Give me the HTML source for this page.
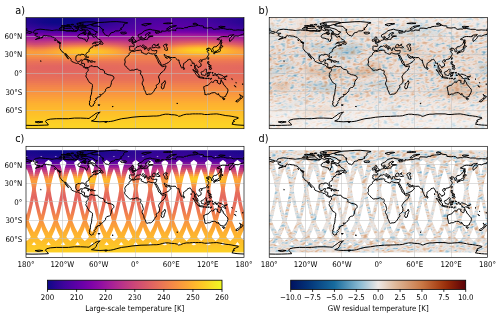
<!DOCTYPE html><html><head><meta charset="utf-8"><style>html,body{margin:0;padding:0;background:#fff}svg{display:block}text{font-family:"DejaVu Sans Condensed","DejaVu Sans","Liberation Sans",sans-serif;font-stretch:condensed;fill:#000}</style></head><body><svg width="500" height="317" viewBox="0 0 500 317"><defs><linearGradient id="g0"><stop offset="0.000" stop-color="#240691"/><stop offset="0.042" stop-color="#1b068d"/><stop offset="0.083" stop-color="#130789"/><stop offset="0.125" stop-color="#0d0887"/><stop offset="0.167" stop-color="#0d0887"/><stop offset="0.208" stop-color="#0d0887"/><stop offset="0.250" stop-color="#130789"/><stop offset="0.292" stop-color="#1b068d"/><stop offset="0.333" stop-color="#240691"/><stop offset="0.375" stop-color="#2c0594"/><stop offset="0.417" stop-color="#330597"/><stop offset="0.458" stop-color="#3a049a"/><stop offset="0.500" stop-color="#3f049c"/><stop offset="0.542" stop-color="#43039e"/><stop offset="0.583" stop-color="#46039f"/><stop offset="0.625" stop-color="#4903a0"/><stop offset="0.667" stop-color="#4903a0"/><stop offset="0.708" stop-color="#4903a0"/><stop offset="0.750" stop-color="#46039f"/><stop offset="0.792" stop-color="#43039e"/><stop offset="0.833" stop-color="#3f049c"/><stop offset="0.875" stop-color="#3a049a"/><stop offset="0.917" stop-color="#330597"/><stop offset="0.958" stop-color="#2c0594"/><stop offset="1.000" stop-color="#240691"/></linearGradient><linearGradient id="g1"><stop offset="0.000" stop-color="#240691"/><stop offset="0.042" stop-color="#1b068d"/><stop offset="0.083" stop-color="#130789"/><stop offset="0.125" stop-color="#0d0887"/><stop offset="0.167" stop-color="#0d0887"/><stop offset="0.208" stop-color="#0d0887"/><stop offset="0.250" stop-color="#130789"/><stop offset="0.292" stop-color="#1b068d"/><stop offset="0.333" stop-color="#240691"/><stop offset="0.375" stop-color="#2e0595"/><stop offset="0.417" stop-color="#350498"/><stop offset="0.458" stop-color="#3c049b"/><stop offset="0.500" stop-color="#43039e"/><stop offset="0.542" stop-color="#48039f"/><stop offset="0.583" stop-color="#4b03a1"/><stop offset="0.625" stop-color="#4e02a2"/><stop offset="0.667" stop-color="#4e02a2"/><stop offset="0.708" stop-color="#4e02a2"/><stop offset="0.750" stop-color="#4b03a1"/><stop offset="0.792" stop-color="#48039f"/><stop offset="0.833" stop-color="#43039e"/><stop offset="0.875" stop-color="#3c049b"/><stop offset="0.917" stop-color="#350498"/><stop offset="0.958" stop-color="#2e0595"/><stop offset="1.000" stop-color="#240691"/></linearGradient><linearGradient id="g2"><stop offset="0.000" stop-color="#260591"/><stop offset="0.042" stop-color="#1d068e"/><stop offset="0.083" stop-color="#130789"/><stop offset="0.125" stop-color="#0d0887"/><stop offset="0.167" stop-color="#0d0887"/><stop offset="0.208" stop-color="#0d0887"/><stop offset="0.250" stop-color="#130789"/><stop offset="0.292" stop-color="#1d068e"/><stop offset="0.333" stop-color="#260591"/><stop offset="0.375" stop-color="#2f0596"/><stop offset="0.417" stop-color="#38049a"/><stop offset="0.458" stop-color="#3f049c"/><stop offset="0.500" stop-color="#46039f"/><stop offset="0.542" stop-color="#4b03a1"/><stop offset="0.583" stop-color="#5002a2"/><stop offset="0.625" stop-color="#5102a3"/><stop offset="0.667" stop-color="#5302a3"/><stop offset="0.708" stop-color="#5102a3"/><stop offset="0.750" stop-color="#5002a2"/><stop offset="0.792" stop-color="#4b03a1"/><stop offset="0.833" stop-color="#46039f"/><stop offset="0.875" stop-color="#3f049c"/><stop offset="0.917" stop-color="#38049a"/><stop offset="0.958" stop-color="#2f0596"/><stop offset="1.000" stop-color="#260591"/></linearGradient><linearGradient id="g3"><stop offset="0.000" stop-color="#2c0594"/><stop offset="0.042" stop-color="#240691"/><stop offset="0.083" stop-color="#1b068d"/><stop offset="0.125" stop-color="#16078a"/><stop offset="0.167" stop-color="#130789"/><stop offset="0.208" stop-color="#16078a"/><stop offset="0.250" stop-color="#1b068d"/><stop offset="0.292" stop-color="#240691"/><stop offset="0.333" stop-color="#2c0594"/><stop offset="0.375" stop-color="#350498"/><stop offset="0.417" stop-color="#3c049b"/><stop offset="0.458" stop-color="#44039e"/><stop offset="0.500" stop-color="#4b03a1"/><stop offset="0.542" stop-color="#5002a2"/><stop offset="0.583" stop-color="#5302a3"/><stop offset="0.625" stop-color="#5601a4"/><stop offset="0.667" stop-color="#5801a4"/><stop offset="0.708" stop-color="#5601a4"/><stop offset="0.750" stop-color="#5302a3"/><stop offset="0.792" stop-color="#5002a2"/><stop offset="0.833" stop-color="#4b03a1"/><stop offset="0.875" stop-color="#44039e"/><stop offset="0.917" stop-color="#3c049b"/><stop offset="0.958" stop-color="#350498"/><stop offset="1.000" stop-color="#2c0594"/></linearGradient><linearGradient id="g4"><stop offset="0.000" stop-color="#330597"/><stop offset="0.042" stop-color="#2c0594"/><stop offset="0.083" stop-color="#260591"/><stop offset="0.125" stop-color="#220690"/><stop offset="0.167" stop-color="#20068f"/><stop offset="0.208" stop-color="#220690"/><stop offset="0.250" stop-color="#260591"/><stop offset="0.292" stop-color="#2c0594"/><stop offset="0.333" stop-color="#330597"/><stop offset="0.375" stop-color="#3c049b"/><stop offset="0.417" stop-color="#43039e"/><stop offset="0.458" stop-color="#4903a0"/><stop offset="0.500" stop-color="#5002a2"/><stop offset="0.542" stop-color="#5502a4"/><stop offset="0.583" stop-color="#5801a4"/><stop offset="0.625" stop-color="#5b01a5"/><stop offset="0.667" stop-color="#5b01a5"/><stop offset="0.708" stop-color="#5b01a5"/><stop offset="0.750" stop-color="#5801a4"/><stop offset="0.792" stop-color="#5502a4"/><stop offset="0.833" stop-color="#5002a2"/><stop offset="0.875" stop-color="#4903a0"/><stop offset="0.917" stop-color="#43039e"/><stop offset="0.958" stop-color="#3c049b"/><stop offset="1.000" stop-color="#330597"/></linearGradient><linearGradient id="g5"><stop offset="0.000" stop-color="#3c049b"/><stop offset="0.042" stop-color="#370499"/><stop offset="0.083" stop-color="#310597"/><stop offset="0.125" stop-color="#2e0595"/><stop offset="0.167" stop-color="#2c0594"/><stop offset="0.208" stop-color="#2e0595"/><stop offset="0.250" stop-color="#310597"/><stop offset="0.292" stop-color="#370499"/><stop offset="0.333" stop-color="#3c049b"/><stop offset="0.375" stop-color="#43039e"/><stop offset="0.417" stop-color="#4903a0"/><stop offset="0.458" stop-color="#4e02a2"/><stop offset="0.500" stop-color="#5302a3"/><stop offset="0.542" stop-color="#5801a4"/><stop offset="0.583" stop-color="#5c01a6"/><stop offset="0.625" stop-color="#5e01a6"/><stop offset="0.667" stop-color="#6001a6"/><stop offset="0.708" stop-color="#6001a6"/><stop offset="0.750" stop-color="#5c01a6"/><stop offset="0.792" stop-color="#5901a5"/><stop offset="0.833" stop-color="#5502a4"/><stop offset="0.875" stop-color="#5002a2"/><stop offset="0.917" stop-color="#4903a0"/><stop offset="0.958" stop-color="#43039e"/><stop offset="1.000" stop-color="#3c049b"/></linearGradient><linearGradient id="g6"><stop offset="0.000" stop-color="#4b03a1"/><stop offset="0.042" stop-color="#44039e"/><stop offset="0.083" stop-color="#41049d"/><stop offset="0.125" stop-color="#3e049c"/><stop offset="0.167" stop-color="#3e049c"/><stop offset="0.208" stop-color="#3e049c"/><stop offset="0.250" stop-color="#3f049c"/><stop offset="0.292" stop-color="#44039e"/><stop offset="0.333" stop-color="#48039f"/><stop offset="0.375" stop-color="#4e02a2"/><stop offset="0.417" stop-color="#5302a3"/><stop offset="0.458" stop-color="#5801a4"/><stop offset="0.500" stop-color="#5c01a6"/><stop offset="0.542" stop-color="#6100a7"/><stop offset="0.583" stop-color="#6400a7"/><stop offset="0.625" stop-color="#6700a8"/><stop offset="0.667" stop-color="#6900a8"/><stop offset="0.708" stop-color="#6900a8"/><stop offset="0.750" stop-color="#6600a7"/><stop offset="0.792" stop-color="#6400a7"/><stop offset="0.833" stop-color="#6001a6"/><stop offset="0.875" stop-color="#5b01a5"/><stop offset="0.917" stop-color="#5601a4"/><stop offset="0.958" stop-color="#5002a2"/><stop offset="1.000" stop-color="#4b03a1"/></linearGradient><linearGradient id="g7"><stop offset="0.000" stop-color="#6100a7"/><stop offset="0.042" stop-color="#5c01a6"/><stop offset="0.083" stop-color="#5901a5"/><stop offset="0.125" stop-color="#5801a4"/><stop offset="0.167" stop-color="#5601a4"/><stop offset="0.208" stop-color="#5601a4"/><stop offset="0.250" stop-color="#5801a4"/><stop offset="0.292" stop-color="#5b01a5"/><stop offset="0.333" stop-color="#5e01a6"/><stop offset="0.375" stop-color="#6100a7"/><stop offset="0.417" stop-color="#6600a7"/><stop offset="0.458" stop-color="#6a00a8"/><stop offset="0.500" stop-color="#6f00a8"/><stop offset="0.542" stop-color="#7401a8"/><stop offset="0.583" stop-color="#7701a8"/><stop offset="0.625" stop-color="#7b02a8"/><stop offset="0.667" stop-color="#7d03a8"/><stop offset="0.708" stop-color="#7e03a8"/><stop offset="0.750" stop-color="#7d03a8"/><stop offset="0.792" stop-color="#7a02a8"/><stop offset="0.833" stop-color="#7701a8"/><stop offset="0.875" stop-color="#7201a8"/><stop offset="0.917" stop-color="#6c00a8"/><stop offset="0.958" stop-color="#6700a8"/><stop offset="1.000" stop-color="#6100a7"/></linearGradient><linearGradient id="g8"><stop offset="0.000" stop-color="#7b02a8"/><stop offset="0.042" stop-color="#7701a8"/><stop offset="0.083" stop-color="#7401a8"/><stop offset="0.125" stop-color="#7100a8"/><stop offset="0.167" stop-color="#7100a8"/><stop offset="0.208" stop-color="#7100a8"/><stop offset="0.250" stop-color="#7100a8"/><stop offset="0.292" stop-color="#7401a8"/><stop offset="0.333" stop-color="#7501a8"/><stop offset="0.375" stop-color="#7801a8"/><stop offset="0.417" stop-color="#7b02a8"/><stop offset="0.458" stop-color="#8004a8"/><stop offset="0.500" stop-color="#8405a7"/><stop offset="0.542" stop-color="#8808a6"/><stop offset="0.583" stop-color="#8e0ca4"/><stop offset="0.625" stop-color="#920fa3"/><stop offset="0.667" stop-color="#9511a1"/><stop offset="0.708" stop-color="#9613a1"/><stop offset="0.750" stop-color="#9613a1"/><stop offset="0.792" stop-color="#9511a1"/><stop offset="0.833" stop-color="#910ea3"/><stop offset="0.875" stop-color="#8d0ba5"/><stop offset="0.917" stop-color="#8707a6"/><stop offset="0.958" stop-color="#8104a7"/><stop offset="1.000" stop-color="#7b02a8"/></linearGradient><linearGradient id="g9"><stop offset="0.000" stop-color="#9410a2"/><stop offset="0.042" stop-color="#8f0da4"/><stop offset="0.083" stop-color="#8b0aa5"/><stop offset="0.125" stop-color="#8a09a5"/><stop offset="0.167" stop-color="#8a09a5"/><stop offset="0.208" stop-color="#8a09a5"/><stop offset="0.250" stop-color="#8a09a5"/><stop offset="0.292" stop-color="#8b0aa5"/><stop offset="0.333" stop-color="#8d0ba5"/><stop offset="0.375" stop-color="#8f0da4"/><stop offset="0.417" stop-color="#910ea3"/><stop offset="0.458" stop-color="#9410a2"/><stop offset="0.500" stop-color="#9814a0"/><stop offset="0.542" stop-color="#9c179e"/><stop offset="0.583" stop-color="#a11b9b"/><stop offset="0.625" stop-color="#a62098"/><stop offset="0.667" stop-color="#ab2494"/><stop offset="0.708" stop-color="#ad2793"/><stop offset="0.750" stop-color="#ad2793"/><stop offset="0.792" stop-color="#ac2694"/><stop offset="0.833" stop-color="#aa2395"/><stop offset="0.875" stop-color="#a51f99"/><stop offset="0.917" stop-color="#a01a9c"/><stop offset="0.958" stop-color="#99159f"/><stop offset="1.000" stop-color="#9410a2"/></linearGradient><linearGradient id="g10"><stop offset="0.000" stop-color="#a62098"/><stop offset="0.042" stop-color="#a21d9a"/><stop offset="0.083" stop-color="#a01a9c"/><stop offset="0.125" stop-color="#a01a9c"/><stop offset="0.167" stop-color="#a11b9b"/><stop offset="0.208" stop-color="#a11b9b"/><stop offset="0.250" stop-color="#a21d9a"/><stop offset="0.292" stop-color="#a21d9a"/><stop offset="0.333" stop-color="#a31e9a"/><stop offset="0.375" stop-color="#a51f99"/><stop offset="0.417" stop-color="#a51f99"/><stop offset="0.458" stop-color="#a62098"/><stop offset="0.500" stop-color="#a72197"/><stop offset="0.542" stop-color="#aa2395"/><stop offset="0.583" stop-color="#b02991"/><stop offset="0.625" stop-color="#b52f8c"/><stop offset="0.667" stop-color="#ba3388"/><stop offset="0.708" stop-color="#bd3786"/><stop offset="0.750" stop-color="#be3885"/><stop offset="0.792" stop-color="#be3885"/><stop offset="0.833" stop-color="#bb3488"/><stop offset="0.875" stop-color="#b7318a"/><stop offset="0.917" stop-color="#b22b8f"/><stop offset="0.958" stop-color="#ac2694"/><stop offset="1.000" stop-color="#a62098"/></linearGradient><linearGradient id="g11"><stop offset="0.000" stop-color="#b7318a"/><stop offset="0.042" stop-color="#b32c8e"/><stop offset="0.083" stop-color="#b32c8e"/><stop offset="0.125" stop-color="#b52f8c"/><stop offset="0.167" stop-color="#b7318a"/><stop offset="0.208" stop-color="#b83289"/><stop offset="0.250" stop-color="#ba3388"/><stop offset="0.292" stop-color="#bb3488"/><stop offset="0.333" stop-color="#bb3488"/><stop offset="0.375" stop-color="#ba3388"/><stop offset="0.417" stop-color="#b83289"/><stop offset="0.458" stop-color="#b6308b"/><stop offset="0.500" stop-color="#b42e8d"/><stop offset="0.542" stop-color="#b42e8d"/><stop offset="0.583" stop-color="#ba3388"/><stop offset="0.625" stop-color="#c13b82"/><stop offset="0.667" stop-color="#c7427c"/><stop offset="0.708" stop-color="#cb4679"/><stop offset="0.750" stop-color="#cc4977"/><stop offset="0.792" stop-color="#cd4a76"/><stop offset="0.833" stop-color="#cc4778"/><stop offset="0.875" stop-color="#c8437b"/><stop offset="0.917" stop-color="#c33d80"/><stop offset="0.958" stop-color="#be3885"/><stop offset="1.000" stop-color="#b7318a"/></linearGradient><linearGradient id="g12"><stop offset="0.000" stop-color="#c7427c"/><stop offset="0.042" stop-color="#c23c81"/><stop offset="0.083" stop-color="#c43e7f"/><stop offset="0.125" stop-color="#c9447a"/><stop offset="0.167" stop-color="#cd4a76"/><stop offset="0.208" stop-color="#d04d73"/><stop offset="0.250" stop-color="#d24f71"/><stop offset="0.292" stop-color="#d24f71"/><stop offset="0.333" stop-color="#d14e72"/><stop offset="0.375" stop-color="#cf4c74"/><stop offset="0.417" stop-color="#cc4778"/><stop offset="0.458" stop-color="#c6417d"/><stop offset="0.500" stop-color="#c03a83"/><stop offset="0.542" stop-color="#be3885"/><stop offset="0.583" stop-color="#c43e7f"/><stop offset="0.625" stop-color="#cd4a76"/><stop offset="0.667" stop-color="#d5536f"/><stop offset="0.708" stop-color="#da5b69"/><stop offset="0.750" stop-color="#de5f65"/><stop offset="0.792" stop-color="#df6263"/><stop offset="0.833" stop-color="#de5f65"/><stop offset="0.875" stop-color="#da5b69"/><stop offset="0.917" stop-color="#d5546e"/><stop offset="0.958" stop-color="#cf4c74"/><stop offset="1.000" stop-color="#c7427c"/></linearGradient><linearGradient id="g13"><stop offset="0.000" stop-color="#d5546e"/><stop offset="0.042" stop-color="#cf4c74"/><stop offset="0.083" stop-color="#d24f71"/><stop offset="0.125" stop-color="#d9586a"/><stop offset="0.167" stop-color="#df6263"/><stop offset="0.208" stop-color="#e3685f"/><stop offset="0.250" stop-color="#e56b5d"/><stop offset="0.292" stop-color="#e56b5d"/><stop offset="0.333" stop-color="#e4695e"/><stop offset="0.375" stop-color="#e16462"/><stop offset="0.417" stop-color="#db5c68"/><stop offset="0.458" stop-color="#d35171"/><stop offset="0.500" stop-color="#c9447a"/><stop offset="0.542" stop-color="#c5407e"/><stop offset="0.583" stop-color="#cc4778"/><stop offset="0.625" stop-color="#d8576b"/><stop offset="0.667" stop-color="#e26660"/><stop offset="0.708" stop-color="#e97257"/><stop offset="0.750" stop-color="#ee7b51"/><stop offset="0.792" stop-color="#f07f4f"/><stop offset="0.833" stop-color="#ef7e50"/><stop offset="0.875" stop-color="#ec7754"/><stop offset="0.917" stop-color="#e76e5b"/><stop offset="0.958" stop-color="#de6164"/><stop offset="1.000" stop-color="#d5546e"/></linearGradient><linearGradient id="g14"><stop offset="0.000" stop-color="#e56a5d"/><stop offset="0.042" stop-color="#e06363"/><stop offset="0.083" stop-color="#e26660"/><stop offset="0.125" stop-color="#e97158"/><stop offset="0.167" stop-color="#ef7c51"/><stop offset="0.208" stop-color="#f3874a"/><stop offset="0.250" stop-color="#f58c46"/><stop offset="0.292" stop-color="#f68d45"/><stop offset="0.333" stop-color="#f48849"/><stop offset="0.375" stop-color="#f0804e"/><stop offset="0.417" stop-color="#ea7457"/><stop offset="0.458" stop-color="#e06363"/><stop offset="0.500" stop-color="#d5536f"/><stop offset="0.542" stop-color="#cf4c74"/><stop offset="0.583" stop-color="#d7566c"/><stop offset="0.625" stop-color="#e56a5d"/><stop offset="0.667" stop-color="#f07f4f"/><stop offset="0.708" stop-color="#f79044"/><stop offset="0.750" stop-color="#fa9e3b"/><stop offset="0.792" stop-color="#fca537"/><stop offset="0.833" stop-color="#fba238"/><stop offset="0.875" stop-color="#f99a3e"/><stop offset="0.917" stop-color="#f58c46"/><stop offset="0.958" stop-color="#ee7b51"/><stop offset="1.000" stop-color="#e56a5d"/></linearGradient><linearGradient id="g15"><stop offset="0.000" stop-color="#f3854b"/><stop offset="0.042" stop-color="#ef7c51"/><stop offset="0.083" stop-color="#f0804e"/><stop offset="0.125" stop-color="#f68d45"/><stop offset="0.167" stop-color="#fa9b3d"/><stop offset="0.208" stop-color="#fca636"/><stop offset="0.250" stop-color="#fdae32"/><stop offset="0.292" stop-color="#fdaf31"/><stop offset="0.333" stop-color="#fca934"/><stop offset="0.375" stop-color="#fa9e3b"/><stop offset="0.417" stop-color="#f68d45"/><stop offset="0.458" stop-color="#ed7953"/><stop offset="0.500" stop-color="#e26561"/><stop offset="0.542" stop-color="#dc5d67"/><stop offset="0.583" stop-color="#e3685f"/><stop offset="0.625" stop-color="#f07f4f"/><stop offset="0.667" stop-color="#f9983e"/><stop offset="0.708" stop-color="#fdae32"/><stop offset="0.750" stop-color="#febd2a"/><stop offset="0.792" stop-color="#fdc627"/><stop offset="0.833" stop-color="#fdc527"/><stop offset="0.875" stop-color="#feba2c"/><stop offset="0.917" stop-color="#fca835"/><stop offset="0.958" stop-color="#f89540"/><stop offset="1.000" stop-color="#f3854b"/></linearGradient><linearGradient id="g16"><stop offset="0.000" stop-color="#f9983e"/><stop offset="0.042" stop-color="#f79143"/><stop offset="0.083" stop-color="#f89540"/><stop offset="0.125" stop-color="#fba139"/><stop offset="0.167" stop-color="#fdae32"/><stop offset="0.208" stop-color="#febb2b"/><stop offset="0.250" stop-color="#fdc328"/><stop offset="0.292" stop-color="#fdc527"/><stop offset="0.333" stop-color="#febe2a"/><stop offset="0.375" stop-color="#fdb130"/><stop offset="0.417" stop-color="#fba139"/><stop offset="0.458" stop-color="#f58b47"/><stop offset="0.500" stop-color="#eb7655"/><stop offset="0.542" stop-color="#e76e5b"/><stop offset="0.583" stop-color="#ec7754"/><stop offset="0.625" stop-color="#f68f44"/><stop offset="0.667" stop-color="#fca636"/><stop offset="0.708" stop-color="#feba2c"/><stop offset="0.750" stop-color="#fdca26"/><stop offset="0.792" stop-color="#fcd225"/><stop offset="0.833" stop-color="#fcd025"/><stop offset="0.875" stop-color="#fdc527"/><stop offset="0.917" stop-color="#fdb52e"/><stop offset="0.958" stop-color="#fca537"/><stop offset="1.000" stop-color="#f9983e"/></linearGradient><linearGradient id="g17"><stop offset="0.000" stop-color="#fb9f3a"/><stop offset="0.042" stop-color="#fa9c3c"/><stop offset="0.083" stop-color="#fb9f3a"/><stop offset="0.125" stop-color="#fca835"/><stop offset="0.167" stop-color="#fdb42f"/><stop offset="0.208" stop-color="#febe2a"/><stop offset="0.250" stop-color="#fdc627"/><stop offset="0.292" stop-color="#fdc827"/><stop offset="0.333" stop-color="#fdc229"/><stop offset="0.375" stop-color="#feb72d"/><stop offset="0.417" stop-color="#fca835"/><stop offset="0.458" stop-color="#f89540"/><stop offset="0.500" stop-color="#f2844b"/><stop offset="0.542" stop-color="#ee7b51"/><stop offset="0.583" stop-color="#f2844b"/><stop offset="0.625" stop-color="#f89540"/><stop offset="0.667" stop-color="#fca835"/><stop offset="0.708" stop-color="#feb72d"/><stop offset="0.750" stop-color="#fdc229"/><stop offset="0.792" stop-color="#fdc827"/><stop offset="0.833" stop-color="#fdc627"/><stop offset="0.875" stop-color="#febe2a"/><stop offset="0.917" stop-color="#fdb42f"/><stop offset="0.958" stop-color="#fca835"/><stop offset="1.000" stop-color="#fb9f3a"/></linearGradient><linearGradient id="g18"><stop offset="0.000" stop-color="#fa9b3d"/><stop offset="0.042" stop-color="#f99a3e"/><stop offset="0.083" stop-color="#fa9c3c"/><stop offset="0.125" stop-color="#fba238"/><stop offset="0.167" stop-color="#fdab33"/><stop offset="0.208" stop-color="#fdb22f"/><stop offset="0.250" stop-color="#feb82c"/><stop offset="0.292" stop-color="#feba2c"/><stop offset="0.333" stop-color="#fdb52e"/><stop offset="0.375" stop-color="#fdae32"/><stop offset="0.417" stop-color="#fca338"/><stop offset="0.458" stop-color="#f89540"/><stop offset="0.500" stop-color="#f48948"/><stop offset="0.542" stop-color="#f1834c"/><stop offset="0.583" stop-color="#f48849"/><stop offset="0.625" stop-color="#f79342"/><stop offset="0.667" stop-color="#fa9e3b"/><stop offset="0.708" stop-color="#fca636"/><stop offset="0.750" stop-color="#fdae32"/><stop offset="0.792" stop-color="#fdb130"/><stop offset="0.833" stop-color="#fdaf31"/><stop offset="0.875" stop-color="#fdac33"/><stop offset="0.917" stop-color="#fca537"/><stop offset="0.958" stop-color="#fb9f3a"/><stop offset="1.000" stop-color="#fa9b3d"/></linearGradient><linearGradient id="g19"><stop offset="0.000" stop-color="#f79044"/><stop offset="0.042" stop-color="#f79044"/><stop offset="0.083" stop-color="#f79143"/><stop offset="0.125" stop-color="#f89540"/><stop offset="0.167" stop-color="#fa9b3d"/><stop offset="0.208" stop-color="#fb9f3a"/><stop offset="0.250" stop-color="#fba238"/><stop offset="0.292" stop-color="#fca338"/><stop offset="0.333" stop-color="#fba238"/><stop offset="0.375" stop-color="#fa9c3c"/><stop offset="0.417" stop-color="#f9973f"/><stop offset="0.458" stop-color="#f68f44"/><stop offset="0.500" stop-color="#f48849"/><stop offset="0.542" stop-color="#f2844b"/><stop offset="0.583" stop-color="#f3854b"/><stop offset="0.625" stop-color="#f58c46"/><stop offset="0.667" stop-color="#f79143"/><stop offset="0.708" stop-color="#f89540"/><stop offset="0.750" stop-color="#f9983e"/><stop offset="0.792" stop-color="#f99a3e"/><stop offset="0.833" stop-color="#f99a3e"/><stop offset="0.875" stop-color="#f9983e"/><stop offset="0.917" stop-color="#f89540"/><stop offset="0.958" stop-color="#f79342"/><stop offset="1.000" stop-color="#f79044"/></linearGradient><linearGradient id="g20"><stop offset="0.000" stop-color="#f3854b"/><stop offset="0.042" stop-color="#f3854b"/><stop offset="0.083" stop-color="#f3854b"/><stop offset="0.125" stop-color="#f48849"/><stop offset="0.167" stop-color="#f58b47"/><stop offset="0.208" stop-color="#f68d45"/><stop offset="0.250" stop-color="#f68f44"/><stop offset="0.292" stop-color="#f79044"/><stop offset="0.333" stop-color="#f68f44"/><stop offset="0.375" stop-color="#f68d45"/><stop offset="0.417" stop-color="#f58b47"/><stop offset="0.458" stop-color="#f3874a"/><stop offset="0.500" stop-color="#f1834c"/><stop offset="0.542" stop-color="#f0804e"/><stop offset="0.583" stop-color="#f1814d"/><stop offset="0.625" stop-color="#f2844b"/><stop offset="0.667" stop-color="#f3874a"/><stop offset="0.708" stop-color="#f48849"/><stop offset="0.750" stop-color="#f48948"/><stop offset="0.792" stop-color="#f48948"/><stop offset="0.833" stop-color="#f48948"/><stop offset="0.875" stop-color="#f48948"/><stop offset="0.917" stop-color="#f48849"/><stop offset="0.958" stop-color="#f3874a"/><stop offset="1.000" stop-color="#f3854b"/></linearGradient><linearGradient id="g21"><stop offset="0.000" stop-color="#ed7a52"/><stop offset="0.042" stop-color="#ed7a52"/><stop offset="0.083" stop-color="#ed7a52"/><stop offset="0.125" stop-color="#ed7a52"/><stop offset="0.167" stop-color="#ee7b51"/><stop offset="0.208" stop-color="#ef7c51"/><stop offset="0.250" stop-color="#ef7e50"/><stop offset="0.292" stop-color="#ef7e50"/><stop offset="0.333" stop-color="#f07f4f"/><stop offset="0.375" stop-color="#ef7e50"/><stop offset="0.417" stop-color="#ef7e50"/><stop offset="0.458" stop-color="#ef7c51"/><stop offset="0.500" stop-color="#ee7b51"/><stop offset="0.542" stop-color="#ed7a52"/><stop offset="0.583" stop-color="#ed7a52"/><stop offset="0.625" stop-color="#ee7b51"/><stop offset="0.667" stop-color="#ef7c51"/><stop offset="0.708" stop-color="#ef7c51"/><stop offset="0.750" stop-color="#ef7c51"/><stop offset="0.792" stop-color="#ef7c51"/><stop offset="0.833" stop-color="#ef7c51"/><stop offset="0.875" stop-color="#ef7c51"/><stop offset="0.917" stop-color="#ee7b51"/><stop offset="0.958" stop-color="#ee7b51"/><stop offset="1.000" stop-color="#ed7a52"/></linearGradient><linearGradient id="g22"><stop offset="0.000" stop-color="#e97257"/><stop offset="0.042" stop-color="#e97158"/><stop offset="0.083" stop-color="#e97158"/><stop offset="0.125" stop-color="#e97158"/><stop offset="0.167" stop-color="#e97158"/><stop offset="0.208" stop-color="#e97158"/><stop offset="0.250" stop-color="#e97257"/><stop offset="0.292" stop-color="#ea7457"/><stop offset="0.333" stop-color="#eb7556"/><stop offset="0.375" stop-color="#eb7556"/><stop offset="0.417" stop-color="#eb7556"/><stop offset="0.458" stop-color="#eb7556"/><stop offset="0.500" stop-color="#eb7556"/><stop offset="0.542" stop-color="#eb7556"/><stop offset="0.583" stop-color="#eb7556"/><stop offset="0.625" stop-color="#eb7556"/><stop offset="0.667" stop-color="#eb7556"/><stop offset="0.708" stop-color="#eb7556"/><stop offset="0.750" stop-color="#eb7556"/><stop offset="0.792" stop-color="#eb7556"/><stop offset="0.833" stop-color="#eb7556"/><stop offset="0.875" stop-color="#eb7556"/><stop offset="0.917" stop-color="#eb7556"/><stop offset="0.958" stop-color="#ea7457"/><stop offset="1.000" stop-color="#e97257"/></linearGradient><linearGradient id="g23"><stop offset="0.000" stop-color="#e76e5b"/><stop offset="0.042" stop-color="#e66c5c"/><stop offset="0.083" stop-color="#e56b5d"/><stop offset="0.125" stop-color="#e56a5d"/><stop offset="0.167" stop-color="#e56a5d"/><stop offset="0.208" stop-color="#e56a5d"/><stop offset="0.250" stop-color="#e56b5d"/><stop offset="0.292" stop-color="#e66c5c"/><stop offset="0.333" stop-color="#e76e5b"/><stop offset="0.375" stop-color="#e76f5a"/><stop offset="0.417" stop-color="#e76f5a"/><stop offset="0.458" stop-color="#e87059"/><stop offset="0.500" stop-color="#e87059"/><stop offset="0.542" stop-color="#e87059"/><stop offset="0.583" stop-color="#e87059"/><stop offset="0.625" stop-color="#e87059"/><stop offset="0.667" stop-color="#e87059"/><stop offset="0.708" stop-color="#e87059"/><stop offset="0.750" stop-color="#e87059"/><stop offset="0.792" stop-color="#e87059"/><stop offset="0.833" stop-color="#e87059"/><stop offset="0.875" stop-color="#e87059"/><stop offset="0.917" stop-color="#e76f5a"/><stop offset="0.958" stop-color="#e76e5b"/><stop offset="1.000" stop-color="#e76e5b"/></linearGradient><linearGradient id="g24"><stop offset="0.000" stop-color="#e4695e"/><stop offset="0.042" stop-color="#e3685f"/><stop offset="0.083" stop-color="#e26660"/><stop offset="0.125" stop-color="#e26660"/><stop offset="0.167" stop-color="#e26561"/><stop offset="0.208" stop-color="#e26660"/><stop offset="0.250" stop-color="#e26660"/><stop offset="0.292" stop-color="#e4695e"/><stop offset="0.333" stop-color="#e56a5d"/><stop offset="0.375" stop-color="#e56b5d"/><stop offset="0.417" stop-color="#e56b5d"/><stop offset="0.458" stop-color="#e66c5c"/><stop offset="0.500" stop-color="#e66c5c"/><stop offset="0.542" stop-color="#e66c5c"/><stop offset="0.583" stop-color="#e66c5c"/><stop offset="0.625" stop-color="#e76e5b"/><stop offset="0.667" stop-color="#e76e5b"/><stop offset="0.708" stop-color="#e76e5b"/><stop offset="0.750" stop-color="#e76e5b"/><stop offset="0.792" stop-color="#e66c5c"/><stop offset="0.833" stop-color="#e66c5c"/><stop offset="0.875" stop-color="#e66c5c"/><stop offset="0.917" stop-color="#e56b5d"/><stop offset="0.958" stop-color="#e56b5d"/><stop offset="1.000" stop-color="#e4695e"/></linearGradient><linearGradient id="g25"><stop offset="0.000" stop-color="#e3685f"/><stop offset="0.042" stop-color="#e26660"/><stop offset="0.083" stop-color="#e26561"/><stop offset="0.125" stop-color="#e26561"/><stop offset="0.167" stop-color="#e16462"/><stop offset="0.208" stop-color="#e26561"/><stop offset="0.250" stop-color="#e26561"/><stop offset="0.292" stop-color="#e26660"/><stop offset="0.333" stop-color="#e3685f"/><stop offset="0.375" stop-color="#e4695e"/><stop offset="0.417" stop-color="#e56a5d"/><stop offset="0.458" stop-color="#e56b5d"/><stop offset="0.500" stop-color="#e56b5d"/><stop offset="0.542" stop-color="#e56b5d"/><stop offset="0.583" stop-color="#e56b5d"/><stop offset="0.625" stop-color="#e56b5d"/><stop offset="0.667" stop-color="#e56b5d"/><stop offset="0.708" stop-color="#e56b5d"/><stop offset="0.750" stop-color="#e56b5d"/><stop offset="0.792" stop-color="#e56b5d"/><stop offset="0.833" stop-color="#e56b5d"/><stop offset="0.875" stop-color="#e56b5d"/><stop offset="0.917" stop-color="#e56a5d"/><stop offset="0.958" stop-color="#e4695e"/><stop offset="1.000" stop-color="#e3685f"/></linearGradient><linearGradient id="g26"><stop offset="0.000" stop-color="#e4695e"/><stop offset="0.042" stop-color="#e3685f"/><stop offset="0.083" stop-color="#e26660"/><stop offset="0.125" stop-color="#e26561"/><stop offset="0.167" stop-color="#e26561"/><stop offset="0.208" stop-color="#e26561"/><stop offset="0.250" stop-color="#e26660"/><stop offset="0.292" stop-color="#e3685f"/><stop offset="0.333" stop-color="#e4695e"/><stop offset="0.375" stop-color="#e56a5d"/><stop offset="0.417" stop-color="#e56a5d"/><stop offset="0.458" stop-color="#e56b5d"/><stop offset="0.500" stop-color="#e56b5d"/><stop offset="0.542" stop-color="#e56b5d"/><stop offset="0.583" stop-color="#e66c5c"/><stop offset="0.625" stop-color="#e66c5c"/><stop offset="0.667" stop-color="#e66c5c"/><stop offset="0.708" stop-color="#e66c5c"/><stop offset="0.750" stop-color="#e66c5c"/><stop offset="0.792" stop-color="#e56b5d"/><stop offset="0.833" stop-color="#e56b5d"/><stop offset="0.875" stop-color="#e56b5d"/><stop offset="0.917" stop-color="#e56a5d"/><stop offset="0.958" stop-color="#e56a5d"/><stop offset="1.000" stop-color="#e4695e"/></linearGradient><linearGradient id="g27"><stop offset="0.000" stop-color="#e56b5d"/><stop offset="0.042" stop-color="#e56a5d"/><stop offset="0.083" stop-color="#e4695e"/><stop offset="0.125" stop-color="#e4695e"/><stop offset="0.167" stop-color="#e3685f"/><stop offset="0.208" stop-color="#e4695e"/><stop offset="0.250" stop-color="#e4695e"/><stop offset="0.292" stop-color="#e56a5d"/><stop offset="0.333" stop-color="#e56b5d"/><stop offset="0.375" stop-color="#e56b5d"/><stop offset="0.417" stop-color="#e66c5c"/><stop offset="0.458" stop-color="#e66c5c"/><stop offset="0.500" stop-color="#e76e5b"/><stop offset="0.542" stop-color="#e76e5b"/><stop offset="0.583" stop-color="#e76e5b"/><stop offset="0.625" stop-color="#e76e5b"/><stop offset="0.667" stop-color="#e76e5b"/><stop offset="0.708" stop-color="#e76e5b"/><stop offset="0.750" stop-color="#e76e5b"/><stop offset="0.792" stop-color="#e76e5b"/><stop offset="0.833" stop-color="#e76e5b"/><stop offset="0.875" stop-color="#e66c5c"/><stop offset="0.917" stop-color="#e66c5c"/><stop offset="0.958" stop-color="#e56b5d"/><stop offset="1.000" stop-color="#e56b5d"/></linearGradient><linearGradient id="g28"><stop offset="0.000" stop-color="#e66c5c"/><stop offset="0.042" stop-color="#e56b5d"/><stop offset="0.083" stop-color="#e56b5d"/><stop offset="0.125" stop-color="#e56b5d"/><stop offset="0.167" stop-color="#e56a5d"/><stop offset="0.208" stop-color="#e56b5d"/><stop offset="0.250" stop-color="#e56b5d"/><stop offset="0.292" stop-color="#e56b5d"/><stop offset="0.333" stop-color="#e66c5c"/><stop offset="0.375" stop-color="#e76e5b"/><stop offset="0.417" stop-color="#e76e5b"/><stop offset="0.458" stop-color="#e76e5b"/><stop offset="0.500" stop-color="#e76e5b"/><stop offset="0.542" stop-color="#e76f5a"/><stop offset="0.583" stop-color="#e76f5a"/><stop offset="0.625" stop-color="#e76f5a"/><stop offset="0.667" stop-color="#e76f5a"/><stop offset="0.708" stop-color="#e76f5a"/><stop offset="0.750" stop-color="#e76f5a"/><stop offset="0.792" stop-color="#e76f5a"/><stop offset="0.833" stop-color="#e76e5b"/><stop offset="0.875" stop-color="#e76e5b"/><stop offset="0.917" stop-color="#e76e5b"/><stop offset="0.958" stop-color="#e76e5b"/><stop offset="1.000" stop-color="#e66c5c"/></linearGradient><linearGradient id="g29"><stop offset="0.000" stop-color="#e76e5b"/><stop offset="0.042" stop-color="#e66c5c"/><stop offset="0.083" stop-color="#e66c5c"/><stop offset="0.125" stop-color="#e66c5c"/><stop offset="0.167" stop-color="#e56b5d"/><stop offset="0.208" stop-color="#e66c5c"/><stop offset="0.250" stop-color="#e66c5c"/><stop offset="0.292" stop-color="#e66c5c"/><stop offset="0.333" stop-color="#e76e5b"/><stop offset="0.375" stop-color="#e76e5b"/><stop offset="0.417" stop-color="#e76e5b"/><stop offset="0.458" stop-color="#e76e5b"/><stop offset="0.500" stop-color="#e76f5a"/><stop offset="0.542" stop-color="#e76f5a"/><stop offset="0.583" stop-color="#e76f5a"/><stop offset="0.625" stop-color="#e76f5a"/><stop offset="0.667" stop-color="#e76f5a"/><stop offset="0.708" stop-color="#e76f5a"/><stop offset="0.750" stop-color="#e76f5a"/><stop offset="0.792" stop-color="#e76f5a"/><stop offset="0.833" stop-color="#e76f5a"/><stop offset="0.875" stop-color="#e76e5b"/><stop offset="0.917" stop-color="#e76e5b"/><stop offset="0.958" stop-color="#e76e5b"/><stop offset="1.000" stop-color="#e76e5b"/></linearGradient><linearGradient id="g30"><stop offset="0.000" stop-color="#e76f5a"/><stop offset="0.042" stop-color="#e76f5a"/><stop offset="0.083" stop-color="#e76f5a"/><stop offset="0.125" stop-color="#e76f5a"/><stop offset="0.167" stop-color="#e76f5a"/><stop offset="0.208" stop-color="#e76f5a"/><stop offset="0.250" stop-color="#e76f5a"/><stop offset="0.292" stop-color="#e76f5a"/><stop offset="0.333" stop-color="#e76f5a"/><stop offset="0.375" stop-color="#e87059"/><stop offset="0.417" stop-color="#e87059"/><stop offset="0.458" stop-color="#e87059"/><stop offset="0.500" stop-color="#e87059"/><stop offset="0.542" stop-color="#e87059"/><stop offset="0.583" stop-color="#e87059"/><stop offset="0.625" stop-color="#e87059"/><stop offset="0.667" stop-color="#e87059"/><stop offset="0.708" stop-color="#e87059"/><stop offset="0.750" stop-color="#e87059"/><stop offset="0.792" stop-color="#e87059"/><stop offset="0.833" stop-color="#e87059"/><stop offset="0.875" stop-color="#e87059"/><stop offset="0.917" stop-color="#e87059"/><stop offset="0.958" stop-color="#e87059"/><stop offset="1.000" stop-color="#e76f5a"/></linearGradient><linearGradient id="g31"><stop offset="0.000" stop-color="#e97257"/><stop offset="0.042" stop-color="#e97257"/><stop offset="0.083" stop-color="#e97257"/><stop offset="0.125" stop-color="#e97257"/><stop offset="0.167" stop-color="#e97257"/><stop offset="0.208" stop-color="#e97257"/><stop offset="0.250" stop-color="#e97257"/><stop offset="0.292" stop-color="#e97257"/><stop offset="0.333" stop-color="#e97257"/><stop offset="0.375" stop-color="#e97257"/><stop offset="0.417" stop-color="#e97257"/><stop offset="0.458" stop-color="#e97257"/><stop offset="0.500" stop-color="#e97257"/><stop offset="0.542" stop-color="#e97257"/><stop offset="0.583" stop-color="#e97257"/><stop offset="0.625" stop-color="#e97257"/><stop offset="0.667" stop-color="#e97257"/><stop offset="0.708" stop-color="#e97257"/><stop offset="0.750" stop-color="#e97257"/><stop offset="0.792" stop-color="#e97257"/><stop offset="0.833" stop-color="#e97257"/><stop offset="0.875" stop-color="#e97257"/><stop offset="0.917" stop-color="#e97257"/><stop offset="0.958" stop-color="#e97257"/><stop offset="1.000" stop-color="#e97257"/></linearGradient><linearGradient id="g32"><stop offset="0.000" stop-color="#ec7754"/><stop offset="0.042" stop-color="#ec7754"/><stop offset="0.083" stop-color="#ec7754"/><stop offset="0.125" stop-color="#ec7754"/><stop offset="0.167" stop-color="#ec7754"/><stop offset="0.208" stop-color="#ec7754"/><stop offset="0.250" stop-color="#ec7754"/><stop offset="0.292" stop-color="#ec7754"/><stop offset="0.333" stop-color="#ec7754"/><stop offset="0.375" stop-color="#ec7754"/><stop offset="0.417" stop-color="#ec7754"/><stop offset="0.458" stop-color="#ec7754"/><stop offset="0.500" stop-color="#ec7754"/><stop offset="0.542" stop-color="#ec7754"/><stop offset="0.583" stop-color="#ec7754"/><stop offset="0.625" stop-color="#ec7754"/><stop offset="0.667" stop-color="#ec7754"/><stop offset="0.708" stop-color="#ec7754"/><stop offset="0.750" stop-color="#ec7754"/><stop offset="0.792" stop-color="#ec7754"/><stop offset="0.833" stop-color="#ec7754"/><stop offset="0.875" stop-color="#ec7754"/><stop offset="0.917" stop-color="#ec7754"/><stop offset="0.958" stop-color="#ec7754"/><stop offset="1.000" stop-color="#ec7754"/></linearGradient><linearGradient id="g33"><stop offset="0.000" stop-color="#ef7e50"/><stop offset="0.042" stop-color="#ef7e50"/><stop offset="0.083" stop-color="#ef7c51"/><stop offset="0.125" stop-color="#ef7c51"/><stop offset="0.167" stop-color="#ef7c51"/><stop offset="0.208" stop-color="#ef7c51"/><stop offset="0.250" stop-color="#ef7c51"/><stop offset="0.292" stop-color="#ef7e50"/><stop offset="0.333" stop-color="#ef7e50"/><stop offset="0.375" stop-color="#ef7e50"/><stop offset="0.417" stop-color="#ef7e50"/><stop offset="0.458" stop-color="#ef7e50"/><stop offset="0.500" stop-color="#ef7e50"/><stop offset="0.542" stop-color="#ef7e50"/><stop offset="0.583" stop-color="#ef7e50"/><stop offset="0.625" stop-color="#ef7e50"/><stop offset="0.667" stop-color="#ef7e50"/><stop offset="0.708" stop-color="#ef7e50"/><stop offset="0.750" stop-color="#ef7e50"/><stop offset="0.792" stop-color="#ef7e50"/><stop offset="0.833" stop-color="#ef7e50"/><stop offset="0.875" stop-color="#ef7e50"/><stop offset="0.917" stop-color="#ef7e50"/><stop offset="0.958" stop-color="#ef7e50"/><stop offset="1.000" stop-color="#ef7e50"/></linearGradient><linearGradient id="g34"><stop offset="0.000" stop-color="#f1834c"/><stop offset="0.042" stop-color="#f1834c"/><stop offset="0.083" stop-color="#f1834c"/><stop offset="0.125" stop-color="#f1834c"/><stop offset="0.167" stop-color="#f1834c"/><stop offset="0.208" stop-color="#f1834c"/><stop offset="0.250" stop-color="#f1834c"/><stop offset="0.292" stop-color="#f1834c"/><stop offset="0.333" stop-color="#f1834c"/><stop offset="0.375" stop-color="#f1834c"/><stop offset="0.417" stop-color="#f1834c"/><stop offset="0.458" stop-color="#f1834c"/><stop offset="0.500" stop-color="#f1834c"/><stop offset="0.542" stop-color="#f1834c"/><stop offset="0.583" stop-color="#f1834c"/><stop offset="0.625" stop-color="#f1834c"/><stop offset="0.667" stop-color="#f1834c"/><stop offset="0.708" stop-color="#f1834c"/><stop offset="0.750" stop-color="#f1834c"/><stop offset="0.792" stop-color="#f1834c"/><stop offset="0.833" stop-color="#f1834c"/><stop offset="0.875" stop-color="#f1834c"/><stop offset="0.917" stop-color="#f1834c"/><stop offset="0.958" stop-color="#f1834c"/><stop offset="1.000" stop-color="#f1834c"/></linearGradient><linearGradient id="g35"><stop offset="0.000" stop-color="#f48849"/><stop offset="0.042" stop-color="#f48849"/><stop offset="0.083" stop-color="#f48849"/><stop offset="0.125" stop-color="#f48849"/><stop offset="0.167" stop-color="#f48849"/><stop offset="0.208" stop-color="#f48849"/><stop offset="0.250" stop-color="#f48849"/><stop offset="0.292" stop-color="#f48849"/><stop offset="0.333" stop-color="#f48849"/><stop offset="0.375" stop-color="#f48849"/><stop offset="0.417" stop-color="#f48849"/><stop offset="0.458" stop-color="#f48849"/><stop offset="0.500" stop-color="#f48849"/><stop offset="0.542" stop-color="#f48849"/><stop offset="0.583" stop-color="#f48849"/><stop offset="0.625" stop-color="#f48849"/><stop offset="0.667" stop-color="#f48849"/><stop offset="0.708" stop-color="#f48849"/><stop offset="0.750" stop-color="#f48849"/><stop offset="0.792" stop-color="#f48849"/><stop offset="0.833" stop-color="#f48849"/><stop offset="0.875" stop-color="#f48849"/><stop offset="0.917" stop-color="#f48849"/><stop offset="0.958" stop-color="#f48849"/><stop offset="1.000" stop-color="#f48849"/></linearGradient><linearGradient id="g36"><stop offset="0.000" stop-color="#f68d45"/><stop offset="0.042" stop-color="#f68d45"/><stop offset="0.083" stop-color="#f68d45"/><stop offset="0.125" stop-color="#f68d45"/><stop offset="0.167" stop-color="#f68d45"/><stop offset="0.208" stop-color="#f68d45"/><stop offset="0.250" stop-color="#f68d45"/><stop offset="0.292" stop-color="#f68d45"/><stop offset="0.333" stop-color="#f68d45"/><stop offset="0.375" stop-color="#f68d45"/><stop offset="0.417" stop-color="#f68d45"/><stop offset="0.458" stop-color="#f68d45"/><stop offset="0.500" stop-color="#f68d45"/><stop offset="0.542" stop-color="#f68d45"/><stop offset="0.583" stop-color="#f68d45"/><stop offset="0.625" stop-color="#f68d45"/><stop offset="0.667" stop-color="#f68d45"/><stop offset="0.708" stop-color="#f68d45"/><stop offset="0.750" stop-color="#f68d45"/><stop offset="0.792" stop-color="#f68d45"/><stop offset="0.833" stop-color="#f68d45"/><stop offset="0.875" stop-color="#f68d45"/><stop offset="0.917" stop-color="#f68d45"/><stop offset="0.958" stop-color="#f68d45"/><stop offset="1.000" stop-color="#f68d45"/></linearGradient><linearGradient id="g37"><stop offset="0.000" stop-color="#f79342"/><stop offset="0.042" stop-color="#f79342"/><stop offset="0.083" stop-color="#f79342"/><stop offset="0.125" stop-color="#f79342"/><stop offset="0.167" stop-color="#f79342"/><stop offset="0.208" stop-color="#f79342"/><stop offset="0.250" stop-color="#f79342"/><stop offset="0.292" stop-color="#f79342"/><stop offset="0.333" stop-color="#f79342"/><stop offset="0.375" stop-color="#f79342"/><stop offset="0.417" stop-color="#f79342"/><stop offset="0.458" stop-color="#f79342"/><stop offset="0.500" stop-color="#f79342"/><stop offset="0.542" stop-color="#f79342"/><stop offset="0.583" stop-color="#f79342"/><stop offset="0.625" stop-color="#f79342"/><stop offset="0.667" stop-color="#f79342"/><stop offset="0.708" stop-color="#f79342"/><stop offset="0.750" stop-color="#f79342"/><stop offset="0.792" stop-color="#f79342"/><stop offset="0.833" stop-color="#f79342"/><stop offset="0.875" stop-color="#f79342"/><stop offset="0.917" stop-color="#f79342"/><stop offset="0.958" stop-color="#f79342"/><stop offset="1.000" stop-color="#f79342"/></linearGradient><linearGradient id="g38"><stop offset="0.000" stop-color="#f9973f"/><stop offset="0.042" stop-color="#f9973f"/><stop offset="0.083" stop-color="#f9973f"/><stop offset="0.125" stop-color="#f9973f"/><stop offset="0.167" stop-color="#f9973f"/><stop offset="0.208" stop-color="#f9973f"/><stop offset="0.250" stop-color="#f9973f"/><stop offset="0.292" stop-color="#f9973f"/><stop offset="0.333" stop-color="#f9973f"/><stop offset="0.375" stop-color="#f9973f"/><stop offset="0.417" stop-color="#f9973f"/><stop offset="0.458" stop-color="#f9973f"/><stop offset="0.500" stop-color="#f9973f"/><stop offset="0.542" stop-color="#f9973f"/><stop offset="0.583" stop-color="#f9973f"/><stop offset="0.625" stop-color="#f9973f"/><stop offset="0.667" stop-color="#f9973f"/><stop offset="0.708" stop-color="#f9973f"/><stop offset="0.750" stop-color="#f9973f"/><stop offset="0.792" stop-color="#f9973f"/><stop offset="0.833" stop-color="#f9973f"/><stop offset="0.875" stop-color="#f9973f"/><stop offset="0.917" stop-color="#f9973f"/><stop offset="0.958" stop-color="#f9973f"/><stop offset="1.000" stop-color="#f9973f"/></linearGradient><linearGradient id="g39"><stop offset="0.000" stop-color="#fa9c3c"/><stop offset="0.042" stop-color="#fa9c3c"/><stop offset="0.083" stop-color="#fa9c3c"/><stop offset="0.125" stop-color="#fa9c3c"/><stop offset="0.167" stop-color="#fa9c3c"/><stop offset="0.208" stop-color="#fa9c3c"/><stop offset="0.250" stop-color="#fa9c3c"/><stop offset="0.292" stop-color="#fa9c3c"/><stop offset="0.333" stop-color="#fa9c3c"/><stop offset="0.375" stop-color="#fa9c3c"/><stop offset="0.417" stop-color="#fa9c3c"/><stop offset="0.458" stop-color="#fa9c3c"/><stop offset="0.500" stop-color="#fa9c3c"/><stop offset="0.542" stop-color="#fa9c3c"/><stop offset="0.583" stop-color="#fa9c3c"/><stop offset="0.625" stop-color="#fa9c3c"/><stop offset="0.667" stop-color="#fa9c3c"/><stop offset="0.708" stop-color="#fa9c3c"/><stop offset="0.750" stop-color="#fa9c3c"/><stop offset="0.792" stop-color="#fa9c3c"/><stop offset="0.833" stop-color="#fa9c3c"/><stop offset="0.875" stop-color="#fa9c3c"/><stop offset="0.917" stop-color="#fa9c3c"/><stop offset="0.958" stop-color="#fa9c3c"/><stop offset="1.000" stop-color="#fa9c3c"/></linearGradient><linearGradient id="g40"><stop offset="0.000" stop-color="#fba139"/><stop offset="0.042" stop-color="#fba139"/><stop offset="0.083" stop-color="#fba139"/><stop offset="0.125" stop-color="#fba139"/><stop offset="0.167" stop-color="#fba139"/><stop offset="0.208" stop-color="#fba139"/><stop offset="0.250" stop-color="#fba139"/><stop offset="0.292" stop-color="#fba139"/><stop offset="0.333" stop-color="#fba139"/><stop offset="0.375" stop-color="#fba139"/><stop offset="0.417" stop-color="#fba139"/><stop offset="0.458" stop-color="#fba139"/><stop offset="0.500" stop-color="#fba139"/><stop offset="0.542" stop-color="#fba139"/><stop offset="0.583" stop-color="#fba139"/><stop offset="0.625" stop-color="#fba139"/><stop offset="0.667" stop-color="#fba139"/><stop offset="0.708" stop-color="#fba139"/><stop offset="0.750" stop-color="#fba139"/><stop offset="0.792" stop-color="#fba139"/><stop offset="0.833" stop-color="#fba139"/><stop offset="0.875" stop-color="#fba139"/><stop offset="0.917" stop-color="#fba139"/><stop offset="0.958" stop-color="#fba139"/><stop offset="1.000" stop-color="#fba139"/></linearGradient><linearGradient id="g41"><stop offset="0.000" stop-color="#fca636"/><stop offset="0.042" stop-color="#fca636"/><stop offset="0.083" stop-color="#fca636"/><stop offset="0.125" stop-color="#fca636"/><stop offset="0.167" stop-color="#fca636"/><stop offset="0.208" stop-color="#fca636"/><stop offset="0.250" stop-color="#fca636"/><stop offset="0.292" stop-color="#fca636"/><stop offset="0.333" stop-color="#fca636"/><stop offset="0.375" stop-color="#fca636"/><stop offset="0.417" stop-color="#fca636"/><stop offset="0.458" stop-color="#fca636"/><stop offset="0.500" stop-color="#fca636"/><stop offset="0.542" stop-color="#fca636"/><stop offset="0.583" stop-color="#fca636"/><stop offset="0.625" stop-color="#fca636"/><stop offset="0.667" stop-color="#fca636"/><stop offset="0.708" stop-color="#fca636"/><stop offset="0.750" stop-color="#fca636"/><stop offset="0.792" stop-color="#fca636"/><stop offset="0.833" stop-color="#fca636"/><stop offset="0.875" stop-color="#fca636"/><stop offset="0.917" stop-color="#fca636"/><stop offset="0.958" stop-color="#fca636"/><stop offset="1.000" stop-color="#fca636"/></linearGradient><linearGradient id="g42"><stop offset="0.000" stop-color="#fdab33"/><stop offset="0.042" stop-color="#fdab33"/><stop offset="0.083" stop-color="#fdab33"/><stop offset="0.125" stop-color="#fdab33"/><stop offset="0.167" stop-color="#fdab33"/><stop offset="0.208" stop-color="#fdab33"/><stop offset="0.250" stop-color="#fdab33"/><stop offset="0.292" stop-color="#fdab33"/><stop offset="0.333" stop-color="#fdab33"/><stop offset="0.375" stop-color="#fdab33"/><stop offset="0.417" stop-color="#fdab33"/><stop offset="0.458" stop-color="#fdab33"/><stop offset="0.500" stop-color="#fdab33"/><stop offset="0.542" stop-color="#fdab33"/><stop offset="0.583" stop-color="#fdab33"/><stop offset="0.625" stop-color="#fdab33"/><stop offset="0.667" stop-color="#fdab33"/><stop offset="0.708" stop-color="#fdab33"/><stop offset="0.750" stop-color="#fdab33"/><stop offset="0.792" stop-color="#fdab33"/><stop offset="0.833" stop-color="#fdab33"/><stop offset="0.875" stop-color="#fdab33"/><stop offset="0.917" stop-color="#fdab33"/><stop offset="0.958" stop-color="#fdab33"/><stop offset="1.000" stop-color="#fdab33"/></linearGradient><linearGradient id="g43"><stop offset="0.000" stop-color="#fdb130"/><stop offset="0.042" stop-color="#fdb130"/><stop offset="0.083" stop-color="#fdb130"/><stop offset="0.125" stop-color="#fdb130"/><stop offset="0.167" stop-color="#fdb130"/><stop offset="0.208" stop-color="#fdb130"/><stop offset="0.250" stop-color="#fdb130"/><stop offset="0.292" stop-color="#fdb130"/><stop offset="0.333" stop-color="#fdb130"/><stop offset="0.375" stop-color="#fdb130"/><stop offset="0.417" stop-color="#fdb130"/><stop offset="0.458" stop-color="#fdb130"/><stop offset="0.500" stop-color="#fdb130"/><stop offset="0.542" stop-color="#fdb130"/><stop offset="0.583" stop-color="#fdb130"/><stop offset="0.625" stop-color="#fdb130"/><stop offset="0.667" stop-color="#fdb130"/><stop offset="0.708" stop-color="#fdb130"/><stop offset="0.750" stop-color="#fdb130"/><stop offset="0.792" stop-color="#fdb130"/><stop offset="0.833" stop-color="#fdb130"/><stop offset="0.875" stop-color="#fdb130"/><stop offset="0.917" stop-color="#fdb130"/><stop offset="0.958" stop-color="#fdb130"/><stop offset="1.000" stop-color="#fdb130"/></linearGradient><linearGradient id="g44"><stop offset="0.000" stop-color="#fdb42f"/><stop offset="0.042" stop-color="#fdb42f"/><stop offset="0.083" stop-color="#fdb42f"/><stop offset="0.125" stop-color="#fdb42f"/><stop offset="0.167" stop-color="#fdb42f"/><stop offset="0.208" stop-color="#fdb42f"/><stop offset="0.250" stop-color="#fdb42f"/><stop offset="0.292" stop-color="#fdb42f"/><stop offset="0.333" stop-color="#fdb42f"/><stop offset="0.375" stop-color="#fdb42f"/><stop offset="0.417" stop-color="#fdb42f"/><stop offset="0.458" stop-color="#fdb42f"/><stop offset="0.500" stop-color="#fdb42f"/><stop offset="0.542" stop-color="#fdb42f"/><stop offset="0.583" stop-color="#fdb42f"/><stop offset="0.625" stop-color="#fdb42f"/><stop offset="0.667" stop-color="#fdb42f"/><stop offset="0.708" stop-color="#fdb42f"/><stop offset="0.750" stop-color="#fdb42f"/><stop offset="0.792" stop-color="#fdb42f"/><stop offset="0.833" stop-color="#fdb42f"/><stop offset="0.875" stop-color="#fdb42f"/><stop offset="0.917" stop-color="#fdb42f"/><stop offset="0.958" stop-color="#fdb42f"/><stop offset="1.000" stop-color="#fdb42f"/></linearGradient><linearGradient id="g45"><stop offset="0.000" stop-color="#feb72d"/><stop offset="0.042" stop-color="#feb72d"/><stop offset="0.083" stop-color="#feb72d"/><stop offset="0.125" stop-color="#feb72d"/><stop offset="0.167" stop-color="#feb72d"/><stop offset="0.208" stop-color="#feb72d"/><stop offset="0.250" stop-color="#feb72d"/><stop offset="0.292" stop-color="#feb72d"/><stop offset="0.333" stop-color="#feb72d"/><stop offset="0.375" stop-color="#feb72d"/><stop offset="0.417" stop-color="#feb72d"/><stop offset="0.458" stop-color="#feb72d"/><stop offset="0.500" stop-color="#feb72d"/><stop offset="0.542" stop-color="#feb72d"/><stop offset="0.583" stop-color="#feb72d"/><stop offset="0.625" stop-color="#feb72d"/><stop offset="0.667" stop-color="#feb72d"/><stop offset="0.708" stop-color="#feb72d"/><stop offset="0.750" stop-color="#feb72d"/><stop offset="0.792" stop-color="#feb72d"/><stop offset="0.833" stop-color="#feb72d"/><stop offset="0.875" stop-color="#feb72d"/><stop offset="0.917" stop-color="#feb72d"/><stop offset="0.958" stop-color="#feb72d"/><stop offset="1.000" stop-color="#feb72d"/></linearGradient><linearGradient id="g46"><stop offset="0.000" stop-color="#feba2c"/><stop offset="0.042" stop-color="#feba2c"/><stop offset="0.083" stop-color="#feba2c"/><stop offset="0.125" stop-color="#feba2c"/><stop offset="0.167" stop-color="#feba2c"/><stop offset="0.208" stop-color="#feba2c"/><stop offset="0.250" stop-color="#feba2c"/><stop offset="0.292" stop-color="#feba2c"/><stop offset="0.333" stop-color="#feba2c"/><stop offset="0.375" stop-color="#feba2c"/><stop offset="0.417" stop-color="#feba2c"/><stop offset="0.458" stop-color="#feba2c"/><stop offset="0.500" stop-color="#feba2c"/><stop offset="0.542" stop-color="#feba2c"/><stop offset="0.583" stop-color="#feba2c"/><stop offset="0.625" stop-color="#feba2c"/><stop offset="0.667" stop-color="#feba2c"/><stop offset="0.708" stop-color="#feba2c"/><stop offset="0.750" stop-color="#feba2c"/><stop offset="0.792" stop-color="#feba2c"/><stop offset="0.833" stop-color="#feba2c"/><stop offset="0.875" stop-color="#feba2c"/><stop offset="0.917" stop-color="#feba2c"/><stop offset="0.958" stop-color="#feba2c"/><stop offset="1.000" stop-color="#feba2c"/></linearGradient><linearGradient id="g47"><stop offset="0.000" stop-color="#febd2a"/><stop offset="0.042" stop-color="#febd2a"/><stop offset="0.083" stop-color="#febd2a"/><stop offset="0.125" stop-color="#febd2a"/><stop offset="0.167" stop-color="#febd2a"/><stop offset="0.208" stop-color="#febd2a"/><stop offset="0.250" stop-color="#febd2a"/><stop offset="0.292" stop-color="#febd2a"/><stop offset="0.333" stop-color="#febd2a"/><stop offset="0.375" stop-color="#febd2a"/><stop offset="0.417" stop-color="#febd2a"/><stop offset="0.458" stop-color="#febd2a"/><stop offset="0.500" stop-color="#febd2a"/><stop offset="0.542" stop-color="#febd2a"/><stop offset="0.583" stop-color="#febd2a"/><stop offset="0.625" stop-color="#febd2a"/><stop offset="0.667" stop-color="#febd2a"/><stop offset="0.708" stop-color="#febd2a"/><stop offset="0.750" stop-color="#febd2a"/><stop offset="0.792" stop-color="#febd2a"/><stop offset="0.833" stop-color="#febd2a"/><stop offset="0.875" stop-color="#febd2a"/><stop offset="0.917" stop-color="#febd2a"/><stop offset="0.958" stop-color="#febd2a"/><stop offset="1.000" stop-color="#febd2a"/></linearGradient><linearGradient id="g48"><stop offset="0.000" stop-color="#fec029"/><stop offset="0.042" stop-color="#fec029"/><stop offset="0.083" stop-color="#fec029"/><stop offset="0.125" stop-color="#fec029"/><stop offset="0.167" stop-color="#fec029"/><stop offset="0.208" stop-color="#fec029"/><stop offset="0.250" stop-color="#fec029"/><stop offset="0.292" stop-color="#fec029"/><stop offset="0.333" stop-color="#fec029"/><stop offset="0.375" stop-color="#fec029"/><stop offset="0.417" stop-color="#fec029"/><stop offset="0.458" stop-color="#fec029"/><stop offset="0.500" stop-color="#fec029"/><stop offset="0.542" stop-color="#fec029"/><stop offset="0.583" stop-color="#fec029"/><stop offset="0.625" stop-color="#fec029"/><stop offset="0.667" stop-color="#fec029"/><stop offset="0.708" stop-color="#fec029"/><stop offset="0.750" stop-color="#fec029"/><stop offset="0.792" stop-color="#fec029"/><stop offset="0.833" stop-color="#fec029"/><stop offset="0.875" stop-color="#fec029"/><stop offset="0.917" stop-color="#fec029"/><stop offset="0.958" stop-color="#fec029"/><stop offset="1.000" stop-color="#fec029"/></linearGradient><linearGradient id="g49"><stop offset="0.000" stop-color="#fdc328"/><stop offset="0.042" stop-color="#fdc328"/><stop offset="0.083" stop-color="#fdc328"/><stop offset="0.125" stop-color="#fdc328"/><stop offset="0.167" stop-color="#fdc328"/><stop offset="0.208" stop-color="#fdc328"/><stop offset="0.250" stop-color="#fdc328"/><stop offset="0.292" stop-color="#fdc328"/><stop offset="0.333" stop-color="#fdc328"/><stop offset="0.375" stop-color="#fdc328"/><stop offset="0.417" stop-color="#fdc328"/><stop offset="0.458" stop-color="#fdc328"/><stop offset="0.500" stop-color="#fdc328"/><stop offset="0.542" stop-color="#fdc328"/><stop offset="0.583" stop-color="#fdc328"/><stop offset="0.625" stop-color="#fdc328"/><stop offset="0.667" stop-color="#fdc328"/><stop offset="0.708" stop-color="#fdc328"/><stop offset="0.750" stop-color="#fdc328"/><stop offset="0.792" stop-color="#fdc328"/><stop offset="0.833" stop-color="#fdc328"/><stop offset="0.875" stop-color="#fdc328"/><stop offset="0.917" stop-color="#fdc328"/><stop offset="0.958" stop-color="#fdc328"/><stop offset="1.000" stop-color="#fdc328"/></linearGradient><linearGradient id="g50"><stop offset="0.000" stop-color="#fdc627"/><stop offset="0.042" stop-color="#fdc627"/><stop offset="0.083" stop-color="#fdc627"/><stop offset="0.125" stop-color="#fdc627"/><stop offset="0.167" stop-color="#fdc627"/><stop offset="0.208" stop-color="#fdc627"/><stop offset="0.250" stop-color="#fdc627"/><stop offset="0.292" stop-color="#fdc627"/><stop offset="0.333" stop-color="#fdc627"/><stop offset="0.375" stop-color="#fdc627"/><stop offset="0.417" stop-color="#fdc627"/><stop offset="0.458" stop-color="#fdc627"/><stop offset="0.500" stop-color="#fdc627"/><stop offset="0.542" stop-color="#fdc627"/><stop offset="0.583" stop-color="#fdc627"/><stop offset="0.625" stop-color="#fdc627"/><stop offset="0.667" stop-color="#fdc627"/><stop offset="0.708" stop-color="#fdc627"/><stop offset="0.750" stop-color="#fdc627"/><stop offset="0.792" stop-color="#fdc627"/><stop offset="0.833" stop-color="#fdc627"/><stop offset="0.875" stop-color="#fdc627"/><stop offset="0.917" stop-color="#fdc627"/><stop offset="0.958" stop-color="#fdc627"/><stop offset="1.000" stop-color="#fdc627"/></linearGradient><linearGradient id="g51"><stop offset="0.000" stop-color="#fdca26"/><stop offset="0.042" stop-color="#fdca26"/><stop offset="0.083" stop-color="#fdca26"/><stop offset="0.125" stop-color="#fdca26"/><stop offset="0.167" stop-color="#fdca26"/><stop offset="0.208" stop-color="#fdca26"/><stop offset="0.250" stop-color="#fdca26"/><stop offset="0.292" stop-color="#fdca26"/><stop offset="0.333" stop-color="#fdca26"/><stop offset="0.375" stop-color="#fdca26"/><stop offset="0.417" stop-color="#fdca26"/><stop offset="0.458" stop-color="#fdca26"/><stop offset="0.500" stop-color="#fdca26"/><stop offset="0.542" stop-color="#fdca26"/><stop offset="0.583" stop-color="#fdca26"/><stop offset="0.625" stop-color="#fdca26"/><stop offset="0.667" stop-color="#fdca26"/><stop offset="0.708" stop-color="#fdca26"/><stop offset="0.750" stop-color="#fdca26"/><stop offset="0.792" stop-color="#fdca26"/><stop offset="0.833" stop-color="#fdca26"/><stop offset="0.875" stop-color="#fdca26"/><stop offset="0.917" stop-color="#fdca26"/><stop offset="0.958" stop-color="#fdca26"/><stop offset="1.000" stop-color="#fdca26"/></linearGradient><linearGradient id="g52"><stop offset="0.000" stop-color="#fccd25"/><stop offset="0.042" stop-color="#fccd25"/><stop offset="0.083" stop-color="#fccd25"/><stop offset="0.125" stop-color="#fccd25"/><stop offset="0.167" stop-color="#fccd25"/><stop offset="0.208" stop-color="#fccd25"/><stop offset="0.250" stop-color="#fccd25"/><stop offset="0.292" stop-color="#fccd25"/><stop offset="0.333" stop-color="#fccd25"/><stop offset="0.375" stop-color="#fccd25"/><stop offset="0.417" stop-color="#fccd25"/><stop offset="0.458" stop-color="#fccd25"/><stop offset="0.500" stop-color="#fccd25"/><stop offset="0.542" stop-color="#fccd25"/><stop offset="0.583" stop-color="#fccd25"/><stop offset="0.625" stop-color="#fccd25"/><stop offset="0.667" stop-color="#fccd25"/><stop offset="0.708" stop-color="#fccd25"/><stop offset="0.750" stop-color="#fccd25"/><stop offset="0.792" stop-color="#fccd25"/><stop offset="0.833" stop-color="#fccd25"/><stop offset="0.875" stop-color="#fccd25"/><stop offset="0.917" stop-color="#fccd25"/><stop offset="0.958" stop-color="#fccd25"/><stop offset="1.000" stop-color="#fccd25"/></linearGradient><linearGradient id="g53"><stop offset="0.000" stop-color="#fcd025"/><stop offset="0.042" stop-color="#fcd025"/><stop offset="0.083" stop-color="#fcd025"/><stop offset="0.125" stop-color="#fcd025"/><stop offset="0.167" stop-color="#fcd025"/><stop offset="0.208" stop-color="#fcd025"/><stop offset="0.250" stop-color="#fcd025"/><stop offset="0.292" stop-color="#fcd025"/><stop offset="0.333" stop-color="#fcd025"/><stop offset="0.375" stop-color="#fcd025"/><stop offset="0.417" stop-color="#fcd025"/><stop offset="0.458" stop-color="#fcd025"/><stop offset="0.500" stop-color="#fcd025"/><stop offset="0.542" stop-color="#fcd025"/><stop offset="0.583" stop-color="#fcd025"/><stop offset="0.625" stop-color="#fcd025"/><stop offset="0.667" stop-color="#fcd025"/><stop offset="0.708" stop-color="#fcd025"/><stop offset="0.750" stop-color="#fcd025"/><stop offset="0.792" stop-color="#fcd025"/><stop offset="0.833" stop-color="#fcd025"/><stop offset="0.875" stop-color="#fcd025"/><stop offset="0.917" stop-color="#fcd025"/><stop offset="0.958" stop-color="#fcd025"/><stop offset="1.000" stop-color="#fcd025"/></linearGradient><linearGradient id="g54"><stop offset="0.000" stop-color="#fcd225"/><stop offset="0.042" stop-color="#fcd225"/><stop offset="0.083" stop-color="#fcd225"/><stop offset="0.125" stop-color="#fcd225"/><stop offset="0.167" stop-color="#fcd225"/><stop offset="0.208" stop-color="#fcd225"/><stop offset="0.250" stop-color="#fcd225"/><stop offset="0.292" stop-color="#fcd225"/><stop offset="0.333" stop-color="#fcd225"/><stop offset="0.375" stop-color="#fcd225"/><stop offset="0.417" stop-color="#fcd225"/><stop offset="0.458" stop-color="#fcd225"/><stop offset="0.500" stop-color="#fcd225"/><stop offset="0.542" stop-color="#fcd225"/><stop offset="0.583" stop-color="#fcd225"/><stop offset="0.625" stop-color="#fcd225"/><stop offset="0.667" stop-color="#fcd225"/><stop offset="0.708" stop-color="#fcd225"/><stop offset="0.750" stop-color="#fcd225"/><stop offset="0.792" stop-color="#fcd225"/><stop offset="0.833" stop-color="#fcd225"/><stop offset="0.875" stop-color="#fcd225"/><stop offset="0.917" stop-color="#fcd225"/><stop offset="0.958" stop-color="#fcd225"/><stop offset="1.000" stop-color="#fcd225"/></linearGradient><linearGradient id="g55"><stop offset="0.000" stop-color="#fbd324"/><stop offset="0.042" stop-color="#fbd324"/><stop offset="0.083" stop-color="#fbd324"/><stop offset="0.125" stop-color="#fbd324"/><stop offset="0.167" stop-color="#fbd324"/><stop offset="0.208" stop-color="#fbd324"/><stop offset="0.250" stop-color="#fbd324"/><stop offset="0.292" stop-color="#fbd324"/><stop offset="0.333" stop-color="#fbd324"/><stop offset="0.375" stop-color="#fbd324"/><stop offset="0.417" stop-color="#fbd324"/><stop offset="0.458" stop-color="#fbd324"/><stop offset="0.500" stop-color="#fbd324"/><stop offset="0.542" stop-color="#fbd324"/><stop offset="0.583" stop-color="#fbd324"/><stop offset="0.625" stop-color="#fbd324"/><stop offset="0.667" stop-color="#fbd324"/><stop offset="0.708" stop-color="#fbd324"/><stop offset="0.750" stop-color="#fbd324"/><stop offset="0.792" stop-color="#fbd324"/><stop offset="0.833" stop-color="#fbd324"/><stop offset="0.875" stop-color="#fbd324"/><stop offset="0.917" stop-color="#fbd324"/><stop offset="0.958" stop-color="#fbd324"/><stop offset="1.000" stop-color="#fbd324"/></linearGradient><g id="tf"><rect x="0" y="0.00" width="360" height="6.43" fill="url(#g0)"/><rect x="0" y="3.21" width="360" height="6.43" fill="url(#g1)"/><rect x="0" y="6.43" width="360" height="6.43" fill="url(#g2)"/><rect x="0" y="9.64" width="360" height="6.43" fill="url(#g3)"/><rect x="0" y="12.86" width="360" height="6.43" fill="url(#g4)"/><rect x="0" y="16.07" width="360" height="6.43" fill="url(#g5)"/><rect x="0" y="19.29" width="360" height="6.43" fill="url(#g6)"/><rect x="0" y="22.50" width="360" height="6.43" fill="url(#g7)"/><rect x="0" y="25.71" width="360" height="6.43" fill="url(#g8)"/><rect x="0" y="28.93" width="360" height="6.43" fill="url(#g9)"/><rect x="0" y="32.14" width="360" height="6.43" fill="url(#g10)"/><rect x="0" y="35.36" width="360" height="6.43" fill="url(#g11)"/><rect x="0" y="38.57" width="360" height="6.43" fill="url(#g12)"/><rect x="0" y="41.79" width="360" height="6.43" fill="url(#g13)"/><rect x="0" y="45.00" width="360" height="6.43" fill="url(#g14)"/><rect x="0" y="48.21" width="360" height="6.43" fill="url(#g15)"/><rect x="0" y="51.43" width="360" height="6.43" fill="url(#g16)"/><rect x="0" y="54.64" width="360" height="6.43" fill="url(#g17)"/><rect x="0" y="57.86" width="360" height="6.43" fill="url(#g18)"/><rect x="0" y="61.07" width="360" height="6.43" fill="url(#g19)"/><rect x="0" y="64.29" width="360" height="6.43" fill="url(#g20)"/><rect x="0" y="67.50" width="360" height="6.43" fill="url(#g21)"/><rect x="0" y="70.71" width="360" height="6.43" fill="url(#g22)"/><rect x="0" y="73.93" width="360" height="6.43" fill="url(#g23)"/><rect x="0" y="77.14" width="360" height="6.43" fill="url(#g24)"/><rect x="0" y="80.36" width="360" height="6.43" fill="url(#g25)"/><rect x="0" y="83.57" width="360" height="6.43" fill="url(#g26)"/><rect x="0" y="86.79" width="360" height="6.43" fill="url(#g27)"/><rect x="0" y="90.00" width="360" height="6.43" fill="url(#g28)"/><rect x="0" y="93.21" width="360" height="6.43" fill="url(#g29)"/><rect x="0" y="96.43" width="360" height="6.43" fill="url(#g30)"/><rect x="0" y="99.64" width="360" height="6.43" fill="url(#g31)"/><rect x="0" y="102.86" width="360" height="6.43" fill="url(#g32)"/><rect x="0" y="106.07" width="360" height="6.43" fill="url(#g33)"/><rect x="0" y="109.29" width="360" height="6.43" fill="url(#g34)"/><rect x="0" y="112.50" width="360" height="6.43" fill="url(#g35)"/><rect x="0" y="115.71" width="360" height="6.43" fill="url(#g36)"/><rect x="0" y="118.93" width="360" height="6.43" fill="url(#g37)"/><rect x="0" y="122.14" width="360" height="6.43" fill="url(#g38)"/><rect x="0" y="125.36" width="360" height="6.43" fill="url(#g39)"/><rect x="0" y="128.57" width="360" height="6.43" fill="url(#g40)"/><rect x="0" y="131.79" width="360" height="6.43" fill="url(#g41)"/><rect x="0" y="135.00" width="360" height="6.43" fill="url(#g42)"/><rect x="0" y="138.21" width="360" height="6.43" fill="url(#g43)"/><rect x="0" y="141.43" width="360" height="6.43" fill="url(#g44)"/><rect x="0" y="144.64" width="360" height="6.43" fill="url(#g45)"/><rect x="0" y="147.86" width="360" height="6.43" fill="url(#g46)"/><rect x="0" y="151.07" width="360" height="6.43" fill="url(#g47)"/><rect x="0" y="154.29" width="360" height="6.43" fill="url(#g48)"/><rect x="0" y="157.50" width="360" height="6.43" fill="url(#g49)"/><rect x="0" y="160.71" width="360" height="6.43" fill="url(#g50)"/><rect x="0" y="163.93" width="360" height="6.43" fill="url(#g51)"/><rect x="0" y="167.14" width="360" height="6.43" fill="url(#g52)"/><rect x="0" y="170.36" width="360" height="6.43" fill="url(#g53)"/><rect x="0" y="173.57" width="360" height="6.43" fill="url(#g54)"/><rect x="0" y="176.79" width="360" height="3.21" fill="url(#g55)"/></g><path id="coast" d="M12.0 24.4 13.8 21.1 17.0 19.7 23.2 18.7 28.0 19.2 32.0 19.7 39.0 20.3 43.0 21.0 45.0 20.7 47.0 20.4 51.0 20.0 55.0 20.5 60.0 20.6 65.0 21.2 70.0 22.0 74.0 21.8 79.0 22.2 82.0 22.2 84.0 21.5 86.0 20.5 85.0 18.2 86.0 18.1 88.0 20.0 91.0 21.3 95.0 20.2 98.0 20.5 98.5 23.0 94.5 23.5 93.0 25.5 89.5 26.5 86.0 29.0 85.5 31.0 87.5 32.8 92.0 33.5 95.0 34.7 97.7 35.0 98.0 37.1 99.7 38.7 101.0 38.5 101.2 35.5 103.0 34.5 103.3 32.0 102.0 31.5 102.5 30.0 102.0 27.6 107.0 27.7 110.2 29.0 110.5 31.2 113.0 31.7 115.5 29.7 116.5 32.0 118.5 34.0 120.0 35.0 122.5 36.0 124.2 37.5 123.0 38.6 120.0 39.8 116.0 39.8 113.5 39.8 111.5 41.0 109.5 42.7 111.0 41.8 115.0 40.8 115.8 41.2 115.0 41.8 115.5 43.0 116.4 43.8 118.5 44.2 120.0 43.8 118.5 44.8 116.5 45.4 114.2 46.3 115.5 44.7 113.5 44.9 112.5 45.5 110.0 46.3 109.3 47.3 109.8 48.2 108.5 48.6 106.0 49.4 106.0 50.5 105.0 51.2 104.0 52.5 104.0 53.5 104.5 54.7 103.0 55.5 101.0 56.8 99.0 58.5 98.6 59.5 99.5 61.5 100.0 63.5 99.6 64.8 98.8 64.7 98.0 63.2 97.3 62.0 97.0 61.0 95.7 60.0 94.0 59.6 92.0 59.4 90.5 59.8 90.7 60.8 89.5 60.8 88.0 60.4 86.0 60.3 85.0 61.0 82.8 62.2 82.5 64.1 82.3 66.0 82.2 67.8 82.7 69.0 83.6 70.5 84.5 71.3 85.5 71.8 88.0 71.4 89.0 71.0 89.5 69.4 89.7 69.0 92.0 68.5 93.2 68.7 92.5 70.5 92.0 71.5 91.7 73.0 91.5 74.1 94.5 74.1 96.0 74.6 96.8 75.0 96.5 77.5 96.4 79.0 97.5 80.5 99.0 81.2 100.5 80.5 102.5 81.3 103.5 81.6 104.5 79.5 105.2 78.9 106.5 78.7 108.2 77.6 108.5 79.0 110.0 78.6 111.5 79.4 114.0 79.4 116.5 79.4 118.0 79.4 119.0 80.0 119.5 81.5 121.0 82.0 122.5 83.8 125.0 84.1 127.5 84.8 128.7 85.8 130.0 88.2 129.5 90.0 131.0 90.5 132.0 90.8 135.5 92.5 138.5 92.9 141.5 93.7 144.5 95.3 145.2 97.5 144.8 99.2 143.0 101.0 141.5 103.0 141.0 105.0 140.7 107.8 139.7 110.3 139.0 112.0 138.0 113.0 135.5 113.3 133.5 114.2 131.5 116.0 131.4 118.5 130.0 120.5 128.0 122.0 126.6 123.7 125.1 124.9 123.0 124.5 121.6 124.6 122.7 125.5 123.3 126.5 122.5 128.0 118.0 129.0 117.7 130.6 115.0 131.0 116.0 132.0 116.4 132.8 115.0 133.5 114.5 135.0 112.5 136.5 114.0 138.0 112.0 140.0 111.0 141.5 111.6 142.4 110.0 143.0 108.0 144.0 105.5 142.5 104.5 140.0 105.5 137.0 104.4 136.6 106.0 134.0 106.5 132.0 106.3 129.0 106.8 127.0 108.0 124.0 108.5 120.0 108.7 117.0 109.5 113.5 109.8 110.0 109.7 108.4 108.0 107.0 104.5 105.0 103.5 103.0 102.5 101.5 101.0 98.5 99.5 96.5 98.7 94.5 100.0 92.5 99.2 91.0 100.0 89.5 100.5 88.5 101.5 87.5 102.7 86.0 102.5 83.5 102.0 82.5 100.5 81.1 99.5 82.7 98.5 82.0 97.0 81.7 96.0 80.5 94.3 80.0 94.3 79.0 92.5 77.0 91.0 76.5 88.5 76.0 87.0 74.5 85.5 73.8 83.5 74.3 82.0 73.8 80.0 73.0 78.0 72.1 75.5 71.0 74.5 69.5 74.7 68.3 74.0 67.2 72.0 65.0 70.5 63.5 69.0 62.0 67.5 60.5 66.5 58.7 65.2 58.2 65.5 60.0 67.0 61.5 68.0 63.5 69.5 65.8 70.5 66.8 69.5 66.5 68.0 65.3 67.8 64.0 66.0 62.5 65.0 61.7 64.5 60.0 63.5 58.5 62.8 57.3 61.5 56.0 59.4 55.4 59.0 54.4 57.5 52.5 56.2 50.5 55.7 49.5 55.8 48.0 56.0 46.0 56.0 43.8 55.3 41.6 57.0 41.8 57.5 41.0 56.0 40.0 55.0 39.5 53.5 39.0 52.0 38.0 50.0 35.5 48.0 34.0 46.0 32.0 43.5 31.5 40.5 30.2 38.5 30.0 36.0 29.8 33.5 29.2 31.5 29.8 30.0 28.8 28.5 29.5 28.2 30.8 26.5 31.8 24.0 33.0 21.5 34.0 18.5 34.5 15.5 35.5 17.0 35.0 20.0 33.5 22.5 32.5 23.0 31.2 20.0 31.4 18.0 30.5 15.5 29.5 14.6 28.5 15.5 27.0 19.0 26.0 19.2 25.2 17.0 25.4 14.0 25.4 12.0 24.4M370.3 23.9 368.5 23.1 365.0 22.5 362.0 21.3 360.0 21.1 357.0 20.3 352.0 20.1 350.0 19.9 346.0 20.4 342.0 20.3 340.0 19.1 336.0 18.9 332.0 19.1 330.0 18.5 326.0 17.7 321.0 17.3 319.0 18.5 315.0 18.4 311.0 19.1 309.0 18.7 308.0 17.2 307.0 16.5 304.0 16.3 300.0 17.0 293.0 16.3 293.0 14.0 292.0 13.5 288.0 13.3 284.3 12.3 280.0 13.5 276.0 14.0 273.0 14.1 268.0 14.8 266.5 15.5 267.0 16.2 262.0 16.3 260.5 17.5 260.0 17.7 255.0 17.2 252.0 17.2 249.0 17.0 248.5 18.5 246.8 19.5 247.5 21.5 246.0 20.5 240.5 20.1 238.5 21.4 234.0 21.7 233.7 21.0 228.5 22.2 226.3 21.8 224.0 21.5 224.2 23.5 221.0 23.7 219.5 25.0 216.5 25.1 214.8 25.5 214.5 24.0 213.0 23.2 216.0 23.4 220.5 22.5 221.0 22.0 218.0 21.5 213.0 20.6 209.0 20.1 205.0 18.9 200.0 20.0 196.0 21.2 193.5 23.0 192.5 24.5 190.0 26.0 187.5 27.0 185.0 28.4 185.2 30.2 185.6 31.5 187.0 32.0 189.0 31.4 190.5 30.5 191.5 31.3 192.0 32.5 192.8 34.0 194.5 34.0 196.5 33.2 198.5 30.7 197.5 29.3 197.5 27.5 201.0 25.5 202.5 24.2 205.3 24.7 205.5 25.3 202.5 26.7 201.4 29.0 202.5 30.0 206.0 29.6 210.0 30.0 208.0 30.5 203.5 30.8 204.0 31.7 201.5 32.6 201.0 34.0 201.2 34.8 199.5 35.6 198.5 35.3 196.5 35.5 194.0 36.0 191.0 36.0 190.8 36.1 190.5 35.2 189.5 35.0 190.5 33.5 190.5 32.3 188.6 32.9 188.1 33.5 188.6 34.6 188.8 36.0 187.0 36.5 185.0 36.8 184.2 38.0 183.3 38.7 181.6 39.1 181.5 39.9 180.2 40.4 178.7 40.4 178.1 40.3 178.5 41.3 177.0 41.2 175.3 41.6 175.8 42.2 177.5 42.7 178.8 44.0 178.8 45.5 178.4 46.6 176.2 46.5 174.0 46.4 172.0 46.3 170.7 47.0 171.2 48.0 171.2 49.5 170.5 51.2 171.2 52.0 171.1 53.0 172.5 52.8 173.7 53.2 174.4 54.0 175.5 53.3 178.0 53.3 179.3 52.4 180.2 51.2 179.7 50.5 180.9 49.0 183.2 48.1 183.1 46.9 184.5 46.5 186.5 46.9 187.5 46.2 188.8 45.6 190.2 46.1 191.0 47.5 192.5 48.5 194.0 49.0 195.7 50.0 195.8 51.8 196.2 52.0 197.2 51.0 196.5 50.0 198.5 49.9 196.0 48.5 194.0 47.3 192.4 45.8 192.3 44.6 193.7 44.4 194.5 45.0 195.3 45.7 197.5 47.0 199.3 48.0 199.5 49.5 200.2 50.5 201.1 51.7 201.5 53.2 202.5 53.5 203.0 52.5 204.0 52.0 202.8 51.0 203.0 49.7 204.5 49.2 206.3 49.1 206.2 49.8 206.5 50.5 206.8 51.5 207.5 52.8 208.5 53.3 210.5 53.5 212.5 53.9 214.5 53.2 216.2 53.5 215.8 55.0 215.5 56.5 214.9 57.5 214.3 58.7 212.5 58.9 211.0 58.5 209.5 59.1 205.5 58.4 203.0 57.4 202.0 57.1 200.0 58.3 200.0 59.2 198.5 59.4 195.5 58.5 193.0 57.1 191.0 56.7 190.2 55.7 191.0 54.5 190.5 53.2 189.5 52.7 187.0 53.0 183.0 53.2 180.0 54.2 178.0 54.9 174.7 54.2 174.0 54.5 173.2 56.0 171.5 56.7 170.2 58.5 170.4 60.2 168.5 62.0 167.0 62.5 165.5 64.0 164.0 66.2 163.0 68.6 163.7 70.5 163.8 72.0 163.5 73.7 162.5 75.3 163.2 76.5 163.3 77.7 164.5 78.6 165.5 79.7 166.8 80.7 167.8 82.5 169.0 83.2 171.0 85.0 172.5 85.6 175.0 84.9 178.0 85.2 181.5 83.8 184.0 83.6 185.5 85.0 187.0 85.6 188.5 85.4 189.5 86.2 189.8 88.0 189.4 89.5 189.0 91.2 190.5 93.0 192.0 94.7 192.3 96.0 193.0 98.5 193.7 100.7 193.5 102.5 192.0 105.5 191.8 107.5 193.0 110.0 194.5 112.5 195.0 116.5 196.5 118.6 197.5 121.0 198.3 123.5 198.5 124.2 200.0 124.8 202.5 124.0 205.7 124.0 207.5 123.2 209.5 121.5 211.0 119.5 212.5 117.0 212.8 115.5 215.3 114.0 215.5 112.0 214.7 110.0 216.5 108.8 219.5 106.5 220.5 104.5 220.5 101.0 219.5 98.0 218.8 96.0 219.5 94.5 221.2 92.0 223.0 89.5 226.0 87.5 228.5 85.0 230.8 80.5 231.3 78.2 229.0 78.7 225.0 79.5 223.4 78.4 222.5 77.0 221.0 75.2 219.3 74.2 218.5 72.0 217.3 69.0 216.9 68.0 215.5 66.0 214.5 63.5 213.5 62.0 212.6 60.1 212.9 60.5 213.5 61.8 214.3 62.2 214.9 60.5 216.0 62.5 217.5 65.0 219.0 68.0 220.5 70.5 222.5 74.0 223.3 77.3 225.0 77.2 228.5 76.0 232.0 74.4 235.5 72.5 237.0 71.2 238.5 69.5 239.8 67.5 238.5 66.4 236.5 65.5 236.3 63.8 235.5 64.5 234.0 65.8 231.6 65.7 231.5 64.0 230.5 65.0 230.0 63.5 228.5 61.5 228.0 60.0 229.5 60.0 230.5 61.0 231.5 62.2 234.5 63.5 236.5 63.0 237.5 64.3 241.5 64.9 246.5 64.6 247.5 66.0 248.5 66.8 249.0 67.7 250.5 69.2 252.5 68.5 252.8 71.0 253.5 74.0 254.5 76.0 255.5 78.5 256.5 81.0 257.5 81.9 258.5 81.0 259.5 79.7 259.8 78.0 260.3 76.5 260.1 74.5 261.5 73.7 262.5 73.0 264.5 71.5 266.5 70.0 267.0 68.5 269.0 68.2 270.5 67.5 271.8 67.8 272.3 69.3 273.8 71.0 274.5 73.0 274.3 74.0 275.5 74.2 277.5 73.5 277.8 75.5 278.6 78.0 278.5 80.5 278.3 82.0 280.3 84.5 281.2 87.2 283.5 88.7 284.2 88.5 283.5 86.0 283.2 84.5 282.0 83.7 280.5 82.8 280.0 81.0 279.2 79.7 280.0 77.4 280.9 76.6 282.5 77.8 283.5 79.4 284.8 81.4 285.0 80.2 286.8 79.6 288.8 78.7 289.3 77.0 288.8 74.7 286.8 72.7 285.7 71.0 286.6 69.5 288.0 68.5 289.8 68.5 290.3 69.7 291.0 68.5 293.0 67.8 294.5 67.5 296.5 67.0 298.5 65.5 299.5 64.0 300.5 62.0 301.8 60.2 301.5 59.2 301.8 58.2 300.5 56.5 299.3 55.2 300.5 53.8 302.5 53.0 300.8 52.2 299.0 52.8 298.5 51.5 297.7 51.0 299.0 50.5 301.5 49.1 301.3 50.5 302.3 49.5 304.3 50.1 305.3 52.2 306.5 52.8 306.3 55.3 307.5 55.4 309.3 54.7 309.5 53.3 308.5 51.5 307.5 50.2 309.7 49.1 309.8 47.6 311.0 47.2 313.5 47.2 315.5 46.1 318.0 43.5 320.3 41.5 320.5 39.5 321.5 37.5 319.5 35.8 317.0 36.0 316.7 35.4 315.2 35.2 318.5 33.4 321.5 31.4 325.0 30.6 328.5 30.7 332.5 31.0 335.0 30.7 334.0 30.2 336.5 28.5 340.0 28.2 343.3 27.5 342.3 28.7 340.5 29.5 338.0 32.0 336.5 33.5 335.8 36.0 336.5 38.8 338.5 37.2 340.0 36.0 342.0 33.8 343.2 32.2 342.5 31.7 343.5 30.5 345.0 29.8 347.0 29.6 350.3 30.0 352.5 29.0 354.5 28.2 357.5 27.5 359.2 27.2 358.8 26.5 359.5 25.8 360.0 25.2 361.5 24.5 364.5 25.2 367.0 25.7 367.5 24.8 369.0 24.5 370.3 23.9M10.3 23.9 8.5 23.1 5.0 22.5 2.0 21.3 0.0 21.1 -3.0 20.3 -8.0 20.1 -10.0 19.9 -14.0 20.4 -18.0 20.3 -20.0 19.1 -24.0 18.9 -28.0 19.1 -30.0 18.5 -34.0 17.7 -39.0 17.3 -41.0 18.5 -45.0 18.4 -49.0 19.1 -51.0 18.7 -52.0 17.2 -53.0 16.5 -56.0 16.3 -60.0 17.0 -67.0 16.3 -67.0 14.0 -68.0 13.5 -72.0 13.3 -75.7 12.3 -80.0 13.5 -84.0 14.0 -87.0 14.1 -92.0 14.8 -93.5 15.5 -93.0 16.2 -98.0 16.3 -99.5 17.5 -100.0 17.7 -105.0 17.2 -108.0 17.2 -111.0 17.0 -111.5 18.5 -113.2 19.5 -112.5 21.5 -114.0 20.5 -119.5 20.1 -121.5 21.4 -126.0 21.7 -126.3 21.0 -131.5 22.2 -133.7 21.8 -136.0 21.5 -135.8 23.5 -139.0 23.7 -140.5 25.0 -143.5 25.1 -145.2 25.5 -145.5 24.0 -147.0 23.2 -144.0 23.4 -139.5 22.5 -139.0 22.0 -142.0 21.5 -147.0 20.6 -151.0 20.1 -155.0 18.9 -160.0 20.0 -164.0 21.2 -166.5 23.0 -167.5 24.5 -170.0 26.0 -172.5 27.0 -175.0 28.4 -174.8 30.2 -174.4 31.5 -173.0 32.0 -171.0 31.4 -169.5 30.5 -168.5 31.3 -168.0 32.5 -167.2 34.0 -165.5 34.0 -163.5 33.2 -161.5 30.7 -162.5 29.3 -162.5 27.5 -159.0 25.5 -157.5 24.2 -154.7 24.7 -154.5 25.3 -157.5 26.7 -158.6 29.0 -157.5 30.0 -154.0 29.6 -150.0 30.0 -152.0 30.5 -156.5 30.8 -156.0 31.7 -158.5 32.6 -159.0 34.0 -158.8 34.8 -160.5 35.6 -161.5 35.3 -163.5 35.5 -166.0 36.0 -169.0 36.0 -169.2 36.1 -169.5 35.2 -170.5 35.0 -169.5 33.5 -169.5 32.3 -171.4 32.9 -171.9 33.5 -171.4 34.6 -171.2 36.0 -173.0 36.5 -175.0 36.8 -175.8 38.0 -176.7 38.7 -178.4 39.1 -178.5 39.9 -179.8 40.4 -181.3 40.4 -181.9 40.3 -181.5 41.3 -183.0 41.2 -184.7 41.6 -184.2 42.2 -182.5 42.7 -181.2 44.0 -181.2 45.5 -181.6 46.6 -183.8 46.5 -186.0 46.4 -188.0 46.3 -189.3 47.0 -188.8 48.0 -188.8 49.5 -189.5 51.2 -188.8 52.0 -188.9 53.0 -187.5 52.8 -186.3 53.2 -185.6 54.0 -184.5 53.3 -182.0 53.3 -180.7 52.4 -179.8 51.2 -180.3 50.5 -179.1 49.0 -176.8 48.1 -176.9 46.9 -175.5 46.5 -173.5 46.9 -172.5 46.2 -171.2 45.6 -169.8 46.1 -169.0 47.5 -167.5 48.5 -166.0 49.0 -164.3 50.0 -164.2 51.8 -163.8 52.0 -162.8 51.0 -163.5 50.0 -161.5 49.9 -164.0 48.5 -166.0 47.3 -167.6 45.8 -167.7 44.6 -166.3 44.4 -165.5 45.0 -164.7 45.7 -162.5 47.0 -160.7 48.0 -160.5 49.5 -159.8 50.5 -158.9 51.7 -158.5 53.2 -157.5 53.5 -157.0 52.5 -156.0 52.0 -157.2 51.0 -157.0 49.7 -155.5 49.2 -153.7 49.1 -153.8 49.8 -153.5 50.5 -153.2 51.5 -152.5 52.8 -151.5 53.3 -149.5 53.5 -147.5 53.9 -145.5 53.2 -143.8 53.5 -144.2 55.0 -144.5 56.5 -145.1 57.5 -145.7 58.7 -147.5 58.9 -149.0 58.5 -150.5 59.1 -154.5 58.4 -157.0 57.4 -158.0 57.1 -160.0 58.3 -160.0 59.2 -161.5 59.4 -164.5 58.5 -167.0 57.1 -169.0 56.7 -169.8 55.7 -169.0 54.5 -169.5 53.2 -170.5 52.7 -173.0 53.0 -177.0 53.2 -180.0 54.2 -182.0 54.9 -185.3 54.2 -186.0 54.5 -186.8 56.0 -188.5 56.7 -189.8 58.5 -189.6 60.2 -191.5 62.0 -193.0 62.5 -194.5 64.0 -196.0 66.2 -197.0 68.6 -196.3 70.5 -196.2 72.0 -196.5 73.7 -197.5 75.3 -196.8 76.5 -196.7 77.7 -195.5 78.6 -194.5 79.7 -193.2 80.7 -192.2 82.5 -191.0 83.2 -189.0 85.0 -187.5 85.6 -185.0 84.9 -182.0 85.2 -178.5 83.8 -176.0 83.6 -174.5 85.0 -173.0 85.6 -171.5 85.4 -170.5 86.2 -170.2 88.0 -170.6 89.5 -171.0 91.2 -169.5 93.0 -168.0 94.7 -167.7 96.0 -167.0 98.5 -166.3 100.7 -166.5 102.5 -168.0 105.5 -168.2 107.5 -167.0 110.0 -165.5 112.5 -165.0 116.5 -163.5 118.6 -162.5 121.0 -161.7 123.5 -161.5 124.2 -160.0 124.8 -157.5 124.0 -154.3 124.0 -152.5 123.2 -150.5 121.5 -149.0 119.5 -147.5 117.0 -147.2 115.5 -144.7 114.0 -144.5 112.0 -145.3 110.0 -143.5 108.8 -140.5 106.5 -139.5 104.5 -139.5 101.0 -140.5 98.0 -141.2 96.0 -140.5 94.5 -138.8 92.0 -137.0 89.5 -134.0 87.5 -131.5 85.0 -129.2 80.5 -128.7 78.2 -131.0 78.7 -135.0 79.5 -136.6 78.4 -137.5 77.0 -139.0 75.2 -140.7 74.2 -141.5 72.0 -142.7 69.0 -143.1 68.0 -144.5 66.0 -145.5 63.5 -146.5 62.0 -147.4 60.1 -147.1 60.5 -146.5 61.8 -145.7 62.2 -145.1 60.5 -144.0 62.5 -142.5 65.0 -141.0 68.0 -139.5 70.5 -137.5 74.0 -136.7 77.3 -135.0 77.2 -131.5 76.0 -128.0 74.4 -124.5 72.5 -123.0 71.2 -121.5 69.5 -120.2 67.5 -121.5 66.4 -123.5 65.5 -123.7 63.8 -124.5 64.5 -126.0 65.8 -128.4 65.7 -128.5 64.0 -129.5 65.0 -130.0 63.5 -131.5 61.5 -132.0 60.0 -130.5 60.0 -129.5 61.0 -128.5 62.2 -125.5 63.5 -123.5 63.0 -122.5 64.3 -118.5 64.9 -113.5 64.6 -112.5 66.0 -111.5 66.8 -111.0 67.7 -109.5 69.2 -107.5 68.5 -107.2 71.0 -106.5 74.0 -105.5 76.0 -104.5 78.5 -103.5 81.0 -102.5 81.9 -101.5 81.0 -100.5 79.7 -100.2 78.0 -99.7 76.5 -99.9 74.5 -98.5 73.7 -97.5 73.0 -95.5 71.5 -93.5 70.0 -93.0 68.5 -91.0 68.2 -89.5 67.5 -88.2 67.8 -87.7 69.3 -86.2 71.0 -85.5 73.0 -85.7 74.0 -84.5 74.2 -82.5 73.5 -82.2 75.5 -81.4 78.0 -81.5 80.5 -81.7 82.0 -79.7 84.5 -78.8 87.2 -76.5 88.7 -75.8 88.5 -76.5 86.0 -76.8 84.5 -78.0 83.7 -79.5 82.8 -80.0 81.0 -80.8 79.7 -80.0 77.4 -79.1 76.6 -77.5 77.8 -76.5 79.4 -75.2 81.4 -75.0 80.2 -73.2 79.6 -71.2 78.7 -70.7 77.0 -71.2 74.7 -73.2 72.7 -74.3 71.0 -73.4 69.5 -72.0 68.5 -70.2 68.5 -69.7 69.7 -69.0 68.5 -67.0 67.8 -65.5 67.5 -63.5 67.0 -61.5 65.5 -60.5 64.0 -59.5 62.0 -58.2 60.2 -58.5 59.2 -58.2 58.2 -59.5 56.5 -60.7 55.2 -59.5 53.8 -57.5 53.0 -59.2 52.2 -61.0 52.8 -61.5 51.5 -62.3 51.0 -61.0 50.5 -58.5 49.1 -58.7 50.5 -57.7 49.5 -55.7 50.1 -54.7 52.2 -53.5 52.8 -53.7 55.3 -52.5 55.4 -50.7 54.7 -50.5 53.3 -51.5 51.5 -52.5 50.2 -50.3 49.1 -50.2 47.6 -49.0 47.2 -46.5 47.2 -44.5 46.1 -42.0 43.5 -39.7 41.5 -39.5 39.5 -38.5 37.5 -40.5 35.8 -43.0 36.0 -43.3 35.4 -44.8 35.2 -41.5 33.4 -38.5 31.4 -35.0 30.6 -31.5 30.7 -27.5 31.0 -25.0 30.7 -26.0 30.2 -23.5 28.5 -20.0 28.2 -16.7 27.5 -17.7 28.7 -19.5 29.5 -22.0 32.0 -23.5 33.5 -24.2 36.0 -23.5 38.8 -21.5 37.2 -20.0 36.0 -18.0 33.8 -16.8 32.2 -17.5 31.7 -16.5 30.5 -15.0 29.8 -13.0 29.6 -9.7 30.0 -7.5 29.0 -5.5 28.2 -2.5 27.5 -0.8 27.2 -1.2 26.5 -0.5 25.8 0.0 25.2 1.5 24.5 4.5 25.2 7.0 25.7 7.5 24.8 9.0 24.5 10.3 23.9M208.0 48.8 208.5 46.7 208.7 45.5 209.7 44.7 210.5 43.5 211.8 43.4 213.5 44.0 212.5 44.6 213.5 45.5 215.0 45.2 216.5 44.7 218.0 43.0 219.2 42.9 218.0 44.0 216.6 44.8 218.0 45.5 219.5 46.5 221.6 48.4 220.0 49.0 217.0 48.9 215.0 48.0 213.5 48.0 211.5 48.8 209.0 48.8 208.0 48.8M227.0 45.2 227.5 44.5 229.2 43.5 231.2 43.0 233.0 43.2 233.2 44.7 231.3 45.5 230.8 46.0 232.5 47.5 232.8 48.8 233.8 49.2 233.0 50.5 233.9 52.7 231.5 53.2 230.0 52.6 229.0 51.5 229.5 49.7 228.5 48.2 227.5 47.0 227.0 45.2M107.0 11.5 114.0 9.5 120.0 8.0 130.0 7.5 140.0 6.7 150.0 6.5 158.0 7.2 164.0 7.8 168.0 8.5 164.0 9.5 162.0 10.5 161.0 12.0 161.5 13.5 159.5 15.0 158.0 17.0 156.0 17.5 158.0 19.0 155.5 20.0 153.0 21.5 147.5 21.6 145.0 23.7 142.0 24.2 140.0 25.0 139.0 26.5 137.5 29.0 136.0 30.0 134.5 29.2 131.5 28.5 129.5 26.5 128.5 24.5 126.5 22.8 128.0 21.4 126.0 20.4 128.5 19.5 125.5 18.5 124.0 17.0 122.0 14.5 117.0 13.7 112.5 13.8 108.5 12.7 107.0 11.5M156.0 24.5 158.0 23.6 161.5 23.8 164.5 23.6 165.5 24.5 166.2 25.0 165.0 25.7 162.0 26.5 159.5 26.4 157.5 26.1 158.0 25.5 156.0 24.5M174.8 40.0 176.5 39.7 178.5 39.4 181.3 38.8 181.5 38.0 181.7 37.3 180.3 37.0 180.0 36.4 179.5 35.5 178.5 34.5 177.5 33.9 178.0 32.7 176.5 32.3 177.0 31.4 175.0 31.4 174.4 32.5 174.2 33.5 174.8 34.5 175.3 35.2 176.8 35.5 177.0 36.7 175.4 36.8 176.0 37.5 174.8 38.2 176.6 38.6 174.3 39.9 174.8 40.0M174.0 38.0 173.8 36.5 174.4 35.5 173.5 34.8 171.7 34.8 171.4 35.7 170.0 35.8 170.2 36.5 169.8 37.8 170.5 38.4 172.0 38.2 173.6 37.8 174.0 38.0M310.9 56.0 312.5 54.6 315.5 54.4 316.8 52.7 318.5 52.2 320.0 50.5 320.0 49.2 321.4 48.6 321.5 50.0 322.0 50.5 321.0 51.8 321.0 53.5 320.8 54.4 319.9 55.0 318.8 55.4 317.0 55.4 316.0 56.2 315.2 55.7 313.5 55.7 312.2 56.2 310.9 56.0M310.0 56.5 309.7 57.3 310.2 58.7 311.3 58.6 311.8 57.0 311.0 56.1 310.0 56.5M312.5 56.9 314.7 56.2 314.3 55.7 312.5 56.1 312.5 56.9M320.0 48.5 320.5 46.7 321.5 46.3 321.8 44.6 323.5 45.7 325.5 46.7 323.3 48.0 321.5 47.5 320.9 48.3 320.0 48.5M322.0 44.0 322.5 42.5 323.5 40.7 322.8 38.5 323.2 36.7 322.5 35.7 322.2 36.5 321.7 38.0 322.0 40.7 321.9 43.0 322.0 44.0M300.1 67.0 300.8 68.0 301.5 67.0 302.0 65.0 301.0 65.0 300.1 67.0M288.7 71.0 290.3 70.0 291.0 70.5 289.5 71.8 288.7 71.0M300.0 71.5 302.2 71.5 302.0 73.0 301.5 74.5 302.5 76.0 304.0 77.0 303.5 76.2 301.5 76.2 300.6 75.5 300.0 74.0 300.0 71.5M302.0 83.0 303.5 82.0 305.5 80.5 306.5 83.0 305.5 84.2 304.0 83.5 302.0 83.0M304.2 77.5 305.7 77.7 305.2 79.5 304.5 78.8 304.2 77.5M302.0 78.2 303.0 78.7 302.5 79.5 302.0 79.3 302.0 78.2M302.5 79.2 303.5 79.5 303.2 80.8 302.5 80.2 302.5 79.2M289.0 88.5 290.0 88.0 291.5 87.5 293.0 86.8 294.5 85.5 296.0 84.0 297.0 83.0 298.5 84.5 299.0 85.0 298.0 85.5 297.8 87.0 298.5 89.0 297.5 90.0 297.3 91.0 296.5 92.5 296.0 93.8 294.5 94.0 293.0 93.2 291.5 93.0 290.2 92.8 289.8 91.0 289.0 89.5 289.0 88.5M275.3 84.4 277.5 84.8 278.5 86.0 280.5 88.0 283.0 89.5 284.0 91.0 285.8 93.0 285.8 95.8 284.5 95.8 282.3 94.0 281.0 92.2 279.5 90.0 278.7 88.4 277.0 86.5 275.3 84.4M285.2 96.8 286.0 95.9 288.5 96.4 290.5 96.5 292.5 96.9 294.5 97.7 294.4 98.7 292.0 98.3 290.0 98.0 287.5 97.6 285.2 96.8M296.1 98.3 297.5 98.2 299.0 98.3 298.5 98.8 297.0 99.0 296.1 98.3M299.8 98.5 301.5 98.3 303.0 98.3 302.5 98.8 300.5 98.8 299.8 98.5M304.0 99.7 305.5 98.5 307.2 98.4 306.0 99.2 304.3 100.2 304.0 99.7M299.0 95.5 299.5 93.5 298.8 92.8 299.8 90.0 300.0 89.0 301.0 88.7 303.0 89.1 305.0 88.5 304.5 89.5 301.5 89.5 300.3 90.5 301.0 91.0 303.3 91.0 302.5 92.5 302.2 94.5 301.5 94.6 300.8 92.8 300.3 95.5 299.0 95.5M307.5 88.2 308.0 89.5 308.7 88.8 308.2 90.5 307.7 90.3 307.5 88.2M308.0 93.0 310.0 93.0 310.8 93.8 308.5 93.6 308.0 93.0M311.0 91.3 313.0 90.7 315.0 93.3 317.5 91.5 320.0 92.3 322.5 93.2 324.5 93.8 326.0 95.5 328.0 96.0 327.5 97.8 330.5 100.5 328.0 100.2 326.5 98.8 324.0 97.8 322.7 99.3 321.0 99.1 319.0 98.0 317.8 98.4 318.5 96.5 316.0 94.5 314.0 93.8 312.2 92.2 311.0 91.3M328.3 95.6 330.0 95.2 331.5 94.3 332.3 94.5 331.5 95.5 330.0 96.2 328.3 95.6M339.5 99.3 341.0 99.8 340.5 100.2 339.5 99.3M293.5 112.0 294.0 116.0 294.9 119.5 295.5 123.5 295.0 124.3 297.8 125.1 300.0 123.9 303.5 123.9 306.0 122.3 309.0 121.7 311.5 121.5 314.2 122.8 315.7 124.8 317.5 123.0 317.8 125.6 318.5 124.8 319.5 125.8 320.6 128.0 323.5 128.8 326.4 129.1 328.0 127.8 330.0 127.5 330.1 126.0 331.3 123.8 332.5 122.0 333.5 118.5 333.1 116.0 331.0 113.5 329.5 112.3 328.5 110.2 326.0 108.5 325.3 105.0 323.5 104.0 322.5 100.7 321.6 102.8 321.5 106.0 320.5 107.6 319.0 107.3 317.0 105.8 315.5 105.0 316.6 102.2 315.5 102.0 312.5 101.5 311.0 102.2 310.0 103.3 309.5 104.9 308.0 104.9 306.2 104.0 305.0 105.0 303.5 106.5 302.2 108.0 301.0 109.5 299.0 110.0 296.7 110.6 294.5 111.8 293.5 112.0M324.6 130.7 328.3 130.9 328.2 132.2 327.0 133.5 325.3 132.3 324.6 130.7M352.7 124.4 354.3 125.5 355.5 127.0 358.0 127.6 358.4 128.5 357.0 129.3 356.5 130.5 355.2 131.6 354.6 130.8 354.5 129.5 353.8 129.2 354.8 127.8 353.9 126.2 352.7 124.4M352.8 130.5 354.2 131.4 353.5 132.8 352.8 133.8 351.2 134.5 350.6 135.9 349.3 136.6 346.5 136.0 346.8 135.0 348.3 134.0 350.5 133.0 351.8 131.6 352.8 130.5M344.0 110.2 345.5 111.0 347.0 112.3 346.0 112.0 344.3 110.8 344.0 110.2M357.3 107.5 358.5 107.5 358.3 108.2 357.3 108.0 357.3 107.5M346.6 105.0 347.2 105.5 347.0 106.2 346.6 105.0M229.3 102.0 230.5 105.5 229.5 107.5 228.5 110.5 227.5 114.5 225.5 115.5 224.0 114.8 223.3 112.0 224.4 110.2 224.0 107.2 226.3 105.8 227.8 104.6 229.3 102.0M259.9 80.2 260.8 80.7 261.8 82.5 261.6 83.6 260.3 84.0 259.8 83.0 259.9 80.2M95.1 68.1 96.5 67.1 98.5 66.8 100.5 67.5 102.5 68.5 104.5 69.3 105.8 69.7 104.5 70.1 102.5 70.1 102.3 69.2 100.5 68.5 98.5 67.8 96.5 67.8 95.1 68.1M105.6 71.5 107.2 70.1 110.0 70.3 111.6 71.4 110.0 71.8 108.3 72.3 105.6 71.7 105.6 71.5M101.7 71.6 103.7 71.8 103.2 72.1 101.8 71.8 101.7 71.6M112.8 71.6 114.4 71.6 114.3 72.0 112.8 72.0 112.8 71.6M102.0 63.3 103.0 63.5 102.5 65.0 102.0 65.5 102.0 63.3M120.6 42.4 124.0 40.4 124.5 38.4 126.5 40.7 127.3 42.5 126.5 43.4 124.5 43.0 120.6 42.4M56.7 41.6 54.5 41.1 51.7 39.3 54.0 39.7 56.7 41.6M48.0 36.0 47.0 35.9 48.5 37.8 48.0 36.0M27.5 32.0 25.5 32.7 26.5 33.2 27.5 32.0M99.5 16.3 102.0 16.8 103.5 17.2 108.5 18.5 112.5 20.5 113.5 22.2 118.0 23.2 116.5 25.0 115.0 25.5 115.2 27.0 113.5 28.0 108.5 26.4 105.5 25.5 102.0 25.7 102.5 24.7 106.0 24.5 106.5 23.3 103.5 22.0 102.0 19.9 98.5 20.2 94.5 19.5 91.5 18.7 90.5 17.0 95.0 16.6 99.5 16.3M100.5 13.0 105.0 11.5 107.5 11.2 113.0 9.5 118.0 8.0 112.0 7.0 100.0 7.0 92.0 7.7 88.0 8.8 91.5 10.0 95.0 10.5 93.0 11.5 92.0 13.2 96.0 13.6 100.5 13.0M90.0 12.5 85.0 12.0 84.0 9.5 88.0 8.8 91.0 10.5 90.0 12.5M99.5 15.5 90.0 15.2 88.0 13.5 98.0 13.4 99.5 15.5M80.0 20.5 77.0 21.2 74.0 20.8 67.0 21.4 62.5 20.5 61.5 19.0 65.5 17.4 70.0 17.5 75.5 16.8 78.0 18.5 80.0 20.5M60.0 18.5 54.5 18.5 56.5 16.2 60.5 15.8 64.0 16.6 62.0 17.7 60.0 18.5M83.0 18.2 81.5 16.5 84.0 16.2 84.0 17.5 83.0 18.2M86.0 18.0 88.0 16.0 85.5 16.0 86.0 18.0M75.0 14.5 70.0 14.8 63.0 13.5 68.0 13.3 75.0 14.5M82.0 15.0 79.0 14.5 80.0 13.5 83.0 14.0 82.0 15.0M93.5 26.0 98.5 26.5 100.0 25.2 94.5 24.0 93.5 26.0M191.0 11.5 196.0 10.0 203.0 9.5 207.0 10.0 201.0 11.5 197.0 13.4 194.0 12.5 191.0 11.5M232.0 18.5 235.0 16.5 237.0 14.5 242.0 13.5 248.5 13.1 244.0 14.5 238.0 16.8 236.0 19.0 232.0 18.5M276.0 11.0 281.0 10.5 284.0 11.5 279.5 9.0 276.0 9.5 276.0 11.0M318.0 15.0 322.0 16.3 329.0 14.7 321.0 14.0 318.0 15.0M227.0 9.5 235.0 8.5 242.0 9.2 235.0 10.0 227.0 9.5M358.5 19.0 362.0 18.5 360.0 18.4 358.5 19.0M-1.5 19.0 2.0 18.5 0.0 18.4 -1.5 19.0M118.7 141.5 122.0 141.3 121.5 142.2 119.5 142.0 118.7 141.5M142.0 144.0 144.0 144.0 143.5 144.5 142.0 144.0M249.0 138.8 250.5 139.0 249.5 139.7 249.0 138.8M24.2 69.8 25.0 70.3 24.4 71.0 24.0 70.3 24.2 69.8M65.0 13.5 60.0 14.2 58.0 13.5 62.0 12.7 65.0 13.5M87.0 15.0 84.0 14.8 84.5 14.0 87.0 14.2 87.0 15.0M84.0 21.0 81.0 21.0 82.0 21.7 84.0 21.5 84.0 21.0M72.0 12.5 67.0 12.2 70.0 11.5 73.0 12.0 72.0 12.5M78.0 12.0 74.0 11.5 76.0 10.7 79.0 11.2 78.0 12.0M98.0 27.5 96.0 27.2 97.5 26.7 99.0 27.0 98.0 27.5M272.7 76.5 273.0 77.5 272.6 78.5 272.7 76.5M0.0 174.5 10.0 174.7 20.0 174.6 30.0 174.3 37.0 174.0 35.0 171.0 32.0 168.5 34.0 166.0 40.0 164.5 50.0 163.8 60.0 163.8 70.0 163.8 80.0 162.8 90.0 162.8 100.0 163.2 104.0 163.5 108.0 160.5 112.0 158.0 114.0 156.0 118.0 154.2 122.5 153.2 121.0 154.5 118.5 156.5 117.0 159.0 116.0 162.0 113.0 165.5 108.0 167.5 114.0 168.3 122.0 168.8 130.0 168.4 136.0 168.6 140.0 168.2 144.0 167.5 150.0 165.8 158.0 163.8 167.0 162.8 175.0 161.5 180.0 161.0 190.0 160.2 200.0 160.0 210.0 159.5 215.0 159.5 220.0 159.0 225.0 157.5 230.0 156.5 235.0 156.5 240.0 157.3 245.0 157.5 250.0 158.5 252.0 160.0 255.0 159.5 260.0 157.5 265.0 156.5 270.0 156.5 275.0 156.0 280.0 156.0 285.0 156.0 290.0 156.0 295.0 157.0 300.0 157.0 305.0 156.5 310.0 156.2 315.0 156.0 320.0 156.8 325.0 157.8 330.0 158.8 335.0 159.2 340.0 160.0 345.0 161.0 350.0 161.8 351.0 162.8 348.0 164.0 346.0 165.0 343.0 166.0 342.5 167.5 344.5 168.3 341.0 169.5 342.0 171.0 340.0 172.5 345.0 173.5 350.0 174.0 355.0 174.3 360.0 174.5M130.0 168.4 134.0 168.3 133.0 169.8 130.0 169.5 130.0 168.4M15.0 169.0 22.0 168.2 28.0 169.0 20.0 170.5 15.0 169.0" fill="none" stroke="#000" stroke-width="1.0" stroke-linejoin="round" vector-effect="non-scaling-stroke"/><g id="trk" fill="#fff"><path d="M182.6 90.5 182.1 88.6 181.7 86.6 181.3 84.6 180.9 82.6 180.6 80.6 180.2 78.6 179.8 76.6 179.4 74.6 179.0 72.6 178.6 70.6 178.2 68.7 177.8 66.7 177.4 64.7 177.0 62.7 176.6 60.7 176.2 58.8 175.7 56.8 175.3 54.8 174.8 52.9 174.3 50.9 173.8 48.9 173.2 47.0 172.6 45.0 171.9 43.1 171.2 41.2 170.5 39.2 169.6 37.3 168.7 35.4 167.7 33.5 166.6 31.6 165.3 29.7 163.8 27.9 162.2 26.0 160.2 24.2 158.0 22.5 155.4 20.7 152.3 19.0 148.5 17.4 144.1 15.9 138.7 14.5 132.2 13.2 124.5 12.2 115.9 11.4 106.6 10.9 97.2 10.7 87.8 10.9 78.5 11.4 69.9 12.2 62.2 13.2 55.7 14.5 50.3 15.9 45.9 17.4 42.1 19.0 39.0 20.7 36.4 22.5 34.2 24.2 32.2 26.0 30.6 27.9 29.1 29.7 27.8 31.6 26.7 33.5 25.7 35.4 24.8 37.3 23.9 39.2 23.2 41.2 22.5 43.1 21.8 45.0 21.2 47.0 20.6 48.9 20.1 50.9 19.6 52.9 19.1 54.8 18.7 56.8 18.2 58.8 17.8 60.7 17.4 62.7 17.0 64.7 16.6 66.7 16.2 68.7 15.8 70.6 15.4 72.6 15.0 74.6 14.6 76.6 14.2 78.6 13.8 80.6 13.5 82.6 13.1 84.6 12.7 86.6 12.3 88.6 11.8 90.5 11.4 92.5 6.1 91.4 6.6 89.5 7.0 87.5 7.3 85.5 7.7 83.5 8.1 81.6 8.5 79.6 8.8 77.6 9.1 75.7 9.5 73.7 9.8 71.7 10.1 69.8 10.4 67.8 10.7 65.8 11.0 63.8 11.4 61.9 11.7 59.9 12.0 57.9 12.3 55.9 12.6 54.0 12.9 52.0 13.2 50.0 13.5 48.1 13.9 46.1 14.2 44.1 14.6 42.1 15.0 40.2 15.5 38.2 15.9 36.2 16.4 34.2 17.0 32.3 17.7 30.3 18.4 28.3 19.2 26.4 20.2 24.4 21.3 22.4 22.7 20.5 24.3 18.6 26.3 16.7 28.9 14.8 32.2 12.9 36.7 11.1 42.8 9.4 51.3 7.8 63.1 6.5 78.7 5.6 97.2 5.3 115.7 5.6 131.3 6.5 143.1 7.8 151.6 9.4 157.7 11.1 162.2 12.9 165.5 14.8 168.1 16.7 170.1 18.6 171.7 20.5 173.1 22.4 174.2 24.4 175.2 26.4 176.0 28.3 176.7 30.3 177.4 32.3 178.0 34.2 178.5 36.2 178.9 38.2 179.4 40.2 179.8 42.1 180.2 44.1 180.5 46.1 180.9 48.1 181.2 50.0 181.5 52.0 181.8 54.0 182.1 55.9 182.4 57.9 182.7 59.9 183.0 61.9 183.4 63.8 183.7 65.8 184.0 67.8 184.3 69.8 184.6 71.7 184.9 73.7 185.3 75.7 185.6 77.6 185.9 79.6 186.3 81.6 186.7 83.5 187.1 85.5 187.4 87.5 187.8 89.5Z"/><path d="M11.8 90.5 11.4 92.5 11.0 94.5 10.6 96.5 10.1 98.5 9.7 100.5 9.2 102.5 8.7 104.5 8.3 106.5 7.8 108.5 7.3 110.5 6.7 112.5 6.2 114.5 5.7 116.4 5.1 118.4 4.5 120.4 3.9 122.4 3.3 124.4 2.7 126.4 2.0 128.3 1.3 130.3 0.6 132.3 -0.1 134.3 -0.8 136.3 -1.6 138.2 -2.5 140.2 -3.4 142.2 -4.3 144.1 -5.3 146.1 -6.3 148.1 -7.4 150.0 -8.7 152.0 -10.0 153.9 -11.5 155.9 -13.2 157.8 -15.0 159.7 -17.2 161.6 -19.8 163.5 -22.9 165.4 -26.8 167.2 -31.9 169.0 -38.5 170.7 -47.6 172.2 -59.9 173.5 -75.9 174.4 -94.8 174.7 -113.7 174.4 -129.7 173.5 -142.0 172.2 -151.1 170.7 -157.7 169.0 -162.8 167.2 -166.7 165.4 -169.8 163.5 -172.4 161.6 -174.6 159.7 -176.4 157.8 -178.1 155.9 -179.6 153.9 -180.9 152.0 -182.2 150.0 -183.3 148.1 -184.3 146.1 -185.3 144.1 -186.2 142.2 -187.1 140.2 -188.0 138.2 -188.8 136.3 -189.5 134.3 -190.2 132.3 -190.9 130.3 -191.6 128.3 -192.3 126.4 -192.9 124.4 -193.5 122.4 -194.1 120.4 -194.7 118.4 -195.3 116.4 -195.8 114.5 -196.3 112.5 -196.9 110.5 -197.4 108.5 -197.9 106.5 -198.3 104.5 -198.8 102.5 -199.3 100.5 -199.7 98.5 -200.2 96.5 -200.6 94.5 -201.0 92.5 -201.4 90.5 -201.9 88.6 -196.6 87.5 -196.2 89.5 -195.7 91.4 -195.3 93.4 -194.9 95.4 -194.4 97.3 -193.9 99.3 -193.4 101.3 -192.9 103.2 -192.4 105.2 -191.9 107.2 -191.3 109.1 -190.7 111.1 -190.1 113.1 -189.5 115.0 -188.8 117.0 -188.1 118.9 -187.4 120.9 -186.7 122.9 -185.9 124.8 -185.1 126.8 -184.3 128.7 -183.4 130.7 -182.4 132.6 -181.4 134.6 -180.4 136.5 -179.3 138.5 -178.1 140.4 -176.8 142.3 -175.4 144.3 -174.0 146.2 -172.3 148.1 -170.6 150.0 -168.6 151.8 -166.5 153.7 -164.1 155.5 -161.3 157.3 -158.2 159.1 -154.6 160.8 -150.3 162.4 -145.3 164.0 -139.4 165.4 -132.4 166.7 -124.2 167.8 -114.9 168.6 -104.9 169.1 -94.8 169.3 -84.7 169.1 -74.7 168.6 -65.4 167.8 -57.2 166.7 -50.2 165.4 -44.3 164.0 -39.3 162.4 -35.0 160.8 -31.4 159.1 -28.3 157.3 -25.5 155.5 -23.1 153.7 -21.0 151.8 -19.0 150.0 -17.3 148.1 -15.6 146.2 -14.2 144.3 -12.8 142.3 -11.5 140.4 -10.3 138.5 -9.2 136.5 -8.2 134.6 -7.2 132.6 -6.2 130.7 -5.3 128.7 -4.5 126.8 -3.7 124.8 -2.9 122.9 -2.2 120.9 -1.5 118.9 -0.8 117.0 -0.1 115.0 0.5 113.1 1.1 111.1 1.7 109.1 2.3 107.2 2.8 105.2 3.3 103.2 3.8 101.3 4.3 99.3 4.8 97.3 5.3 95.4 5.7 93.4 6.1 91.4 6.6 89.5Z"/><path d="M371.8 90.5 371.4 92.5 371.0 94.5 370.6 96.5 370.1 98.5 369.7 100.5 369.2 102.5 368.7 104.5 368.3 106.5 367.8 108.5 367.3 110.5 366.7 112.5 366.2 114.5 365.7 116.4 365.1 118.4 364.5 120.4 363.9 122.4 363.3 124.4 362.7 126.4 362.0 128.3 361.3 130.3 360.6 132.3 359.9 134.3 359.2 136.3 358.4 138.2 357.5 140.2 356.6 142.2 355.7 144.1 354.7 146.1 353.7 148.1 352.6 150.0 351.3 152.0 350.0 153.9 348.5 155.9 346.8 157.8 345.0 159.7 342.8 161.6 340.2 163.5 337.1 165.4 333.2 167.2 328.1 169.0 321.5 170.7 312.4 172.2 300.1 173.5 284.1 174.4 265.2 174.7 246.3 174.4 230.3 173.5 218.0 172.2 208.9 170.7 202.3 169.0 197.2 167.2 193.3 165.4 190.2 163.5 187.6 161.6 185.4 159.7 183.6 157.8 181.9 155.9 180.4 153.9 179.1 152.0 177.8 150.0 176.7 148.1 175.7 146.1 174.7 144.1 173.8 142.2 172.9 140.2 172.0 138.2 171.2 136.3 170.5 134.3 169.8 132.3 169.1 130.3 168.4 128.3 167.7 126.4 167.1 124.4 166.5 122.4 165.9 120.4 165.3 118.4 164.7 116.4 164.2 114.5 163.7 112.5 163.1 110.5 162.6 108.5 162.1 106.5 161.7 104.5 161.2 102.5 160.7 100.5 160.3 98.5 159.8 96.5 159.4 94.5 159.0 92.5 158.6 90.5 158.1 88.6 163.4 87.5 163.8 89.5 164.3 91.4 164.7 93.4 165.1 95.4 165.6 97.3 166.1 99.3 166.6 101.3 167.1 103.2 167.6 105.2 168.1 107.2 168.7 109.1 169.3 111.1 169.9 113.1 170.5 115.0 171.2 117.0 171.9 118.9 172.6 120.9 173.3 122.9 174.1 124.8 174.9 126.8 175.7 128.7 176.6 130.7 177.6 132.6 178.6 134.6 179.6 136.5 180.7 138.5 181.9 140.4 183.2 142.3 184.6 144.3 186.0 146.2 187.7 148.1 189.4 150.0 191.4 151.8 193.5 153.7 195.9 155.5 198.7 157.3 201.8 159.1 205.4 160.8 209.7 162.4 214.7 164.0 220.6 165.4 227.6 166.7 235.8 167.8 245.1 168.6 255.1 169.1 265.2 169.3 275.3 169.1 285.3 168.6 294.6 167.8 302.8 166.7 309.8 165.4 315.7 164.0 320.7 162.4 325.0 160.8 328.6 159.1 331.7 157.3 334.5 155.5 336.9 153.7 339.0 151.8 341.0 150.0 342.7 148.1 344.4 146.2 345.8 144.3 347.2 142.3 348.5 140.4 349.7 138.5 350.8 136.5 351.8 134.6 352.8 132.6 353.8 130.7 354.7 128.7 355.5 126.8 356.3 124.8 357.1 122.9 357.8 120.9 358.5 118.9 359.2 117.0 359.9 115.0 360.5 113.1 361.1 111.1 361.7 109.1 362.3 107.2 362.8 105.2 363.3 103.2 363.8 101.3 364.3 99.3 364.8 97.3 365.3 95.4 365.7 93.4 366.1 91.4 366.6 89.5Z"/><path d="M158.6 90.5 158.1 88.6 157.7 86.6 157.3 84.6 156.9 82.6 156.6 80.6 156.2 78.6 155.8 76.6 155.4 74.6 155.0 72.6 154.6 70.6 154.2 68.7 153.8 66.7 153.4 64.7 153.0 62.7 152.6 60.7 152.2 58.8 151.7 56.8 151.3 54.8 150.8 52.9 150.3 50.9 149.8 48.9 149.2 47.0 148.6 45.0 147.9 43.1 147.2 41.2 146.5 39.2 145.6 37.3 144.7 35.4 143.7 33.5 142.6 31.6 141.3 29.7 139.8 27.9 138.2 26.0 136.2 24.2 134.0 22.5 131.4 20.7 128.3 19.0 124.5 17.4 120.1 15.9 114.7 14.5 108.2 13.2 100.5 12.2 91.9 11.4 82.6 10.9 73.2 10.7 63.8 10.9 54.5 11.4 45.9 12.2 38.2 13.2 31.7 14.5 26.3 15.9 21.9 17.4 18.1 19.0 15.0 20.7 12.4 22.5 10.2 24.2 8.2 26.0 6.6 27.9 5.1 29.7 3.8 31.6 2.7 33.5 1.7 35.4 0.8 37.3 -0.1 39.2 -0.8 41.2 -1.5 43.1 -2.2 45.0 -2.8 47.0 -3.4 48.9 -3.9 50.9 -4.4 52.9 -4.9 54.8 -5.3 56.8 -5.8 58.8 -6.2 60.7 -6.6 62.7 -7.0 64.7 -7.4 66.7 -7.8 68.7 -8.2 70.6 -8.6 72.6 -9.0 74.6 -9.4 76.6 -9.8 78.6 -10.2 80.6 -10.5 82.6 -10.9 84.6 -11.3 86.6 -11.7 88.6 -12.2 90.5 -12.6 92.5 -17.9 91.4 -17.4 89.5 -17.0 87.5 -16.7 85.5 -16.3 83.5 -15.9 81.6 -15.5 79.6 -15.2 77.6 -14.9 75.7 -14.5 73.7 -14.2 71.7 -13.9 69.8 -13.6 67.8 -13.3 65.8 -13.0 63.8 -12.6 61.9 -12.3 59.9 -12.0 57.9 -11.7 55.9 -11.4 54.0 -11.1 52.0 -10.8 50.0 -10.5 48.1 -10.1 46.1 -9.8 44.1 -9.4 42.1 -9.0 40.2 -8.5 38.2 -8.1 36.2 -7.6 34.2 -7.0 32.3 -6.3 30.3 -5.6 28.3 -4.8 26.4 -3.8 24.4 -2.7 22.4 -1.3 20.5 0.3 18.6 2.3 16.7 4.9 14.8 8.2 12.9 12.7 11.1 18.8 9.4 27.3 7.8 39.1 6.5 54.7 5.6 73.2 5.3 91.7 5.6 107.3 6.5 119.1 7.8 127.6 9.4 133.7 11.1 138.2 12.9 141.5 14.8 144.1 16.7 146.1 18.6 147.7 20.5 149.1 22.4 150.2 24.4 151.2 26.4 152.0 28.3 152.7 30.3 153.4 32.3 154.0 34.2 154.5 36.2 154.9 38.2 155.4 40.2 155.8 42.1 156.2 44.1 156.5 46.1 156.9 48.1 157.2 50.0 157.5 52.0 157.8 54.0 158.1 55.9 158.4 57.9 158.7 59.9 159.0 61.9 159.4 63.8 159.7 65.8 160.0 67.8 160.3 69.8 160.6 71.7 160.9 73.7 161.3 75.7 161.6 77.6 161.9 79.6 162.3 81.6 162.7 83.5 163.1 85.5 163.4 87.5 163.8 89.5Z"/><path d="M518.6 90.5 518.1 88.6 517.7 86.6 517.3 84.6 516.9 82.6 516.6 80.6 516.2 78.6 515.8 76.6 515.4 74.6 515.0 72.6 514.6 70.6 514.2 68.7 513.8 66.7 513.4 64.7 513.0 62.7 512.6 60.7 512.2 58.8 511.7 56.8 511.3 54.8 510.8 52.9 510.3 50.9 509.8 48.9 509.2 47.0 508.6 45.0 507.9 43.1 507.2 41.2 506.5 39.2 505.6 37.3 504.7 35.4 503.7 33.5 502.6 31.6 501.3 29.7 499.8 27.9 498.2 26.0 496.2 24.2 494.0 22.5 491.4 20.7 488.3 19.0 484.5 17.4 480.1 15.9 474.7 14.5 468.2 13.2 460.5 12.2 451.9 11.4 442.6 10.9 433.2 10.7 423.8 10.9 414.5 11.4 405.9 12.2 398.2 13.2 391.7 14.5 386.3 15.9 381.9 17.4 378.1 19.0 375.0 20.7 372.4 22.5 370.2 24.2 368.2 26.0 366.6 27.9 365.1 29.7 363.8 31.6 362.7 33.5 361.7 35.4 360.8 37.3 359.9 39.2 359.2 41.2 358.5 43.1 357.8 45.0 357.2 47.0 356.6 48.9 356.1 50.9 355.6 52.9 355.1 54.8 354.7 56.8 354.2 58.8 353.8 60.7 353.4 62.7 353.0 64.7 352.6 66.7 352.2 68.7 351.8 70.6 351.4 72.6 351.0 74.6 350.6 76.6 350.2 78.6 349.8 80.6 349.5 82.6 349.1 84.6 348.7 86.6 348.3 88.6 347.8 90.5 347.4 92.5 342.1 91.4 342.6 89.5 343.0 87.5 343.3 85.5 343.7 83.5 344.1 81.6 344.5 79.6 344.8 77.6 345.1 75.7 345.5 73.7 345.8 71.7 346.1 69.8 346.4 67.8 346.7 65.8 347.0 63.8 347.4 61.9 347.7 59.9 348.0 57.9 348.3 55.9 348.6 54.0 348.9 52.0 349.2 50.0 349.5 48.1 349.9 46.1 350.2 44.1 350.6 42.1 351.0 40.2 351.5 38.2 351.9 36.2 352.4 34.2 353.0 32.3 353.7 30.3 354.4 28.3 355.2 26.4 356.2 24.4 357.3 22.4 358.7 20.5 360.3 18.6 362.3 16.7 364.9 14.8 368.2 12.9 372.7 11.1 378.8 9.4 387.3 7.8 399.1 6.5 414.7 5.6 433.2 5.3 451.7 5.6 467.3 6.5 479.1 7.8 487.6 9.4 493.7 11.1 498.2 12.9 501.5 14.8 504.1 16.7 506.1 18.6 507.7 20.5 509.1 22.4 510.2 24.4 511.2 26.4 512.0 28.3 512.7 30.3 513.4 32.3 514.0 34.2 514.5 36.2 514.9 38.2 515.4 40.2 515.8 42.1 516.2 44.1 516.5 46.1 516.9 48.1 517.2 50.0 517.5 52.0 517.8 54.0 518.1 55.9 518.4 57.9 518.7 59.9 519.0 61.9 519.4 63.8 519.7 65.8 520.0 67.8 520.3 69.8 520.6 71.7 520.9 73.7 521.3 75.7 521.6 77.6 521.9 79.6 522.3 81.6 522.7 83.5 523.1 85.5 523.4 87.5 523.8 89.5Z"/><path d="M347.8 90.5 347.4 92.5 347.0 94.5 346.6 96.5 346.1 98.5 345.7 100.5 345.2 102.5 344.7 104.5 344.3 106.5 343.8 108.5 343.3 110.5 342.7 112.5 342.2 114.5 341.7 116.4 341.1 118.4 340.5 120.4 339.9 122.4 339.3 124.4 338.7 126.4 338.0 128.3 337.3 130.3 336.6 132.3 335.9 134.3 335.2 136.3 334.4 138.2 333.5 140.2 332.6 142.2 331.7 144.1 330.7 146.1 329.7 148.1 328.6 150.0 327.3 152.0 326.0 153.9 324.5 155.9 322.8 157.8 321.0 159.7 318.8 161.6 316.2 163.5 313.1 165.4 309.2 167.2 304.1 169.0 297.5 170.7 288.4 172.2 276.1 173.5 260.1 174.4 241.2 174.7 222.3 174.4 206.3 173.5 194.0 172.2 184.9 170.7 178.3 169.0 173.2 167.2 169.3 165.4 166.2 163.5 163.6 161.6 161.4 159.7 159.6 157.8 157.9 155.9 156.4 153.9 155.1 152.0 153.8 150.0 152.7 148.1 151.7 146.1 150.7 144.1 149.8 142.2 148.9 140.2 148.0 138.2 147.2 136.3 146.5 134.3 145.8 132.3 145.1 130.3 144.4 128.3 143.7 126.4 143.1 124.4 142.5 122.4 141.9 120.4 141.3 118.4 140.7 116.4 140.2 114.5 139.7 112.5 139.1 110.5 138.6 108.5 138.1 106.5 137.7 104.5 137.2 102.5 136.7 100.5 136.3 98.5 135.8 96.5 135.4 94.5 135.0 92.5 134.6 90.5 134.1 88.6 139.4 87.5 139.8 89.5 140.3 91.4 140.7 93.4 141.1 95.4 141.6 97.3 142.1 99.3 142.6 101.3 143.1 103.2 143.6 105.2 144.1 107.2 144.7 109.1 145.3 111.1 145.9 113.1 146.5 115.0 147.2 117.0 147.9 118.9 148.6 120.9 149.3 122.9 150.1 124.8 150.9 126.8 151.7 128.7 152.6 130.7 153.6 132.6 154.6 134.6 155.6 136.5 156.7 138.5 157.9 140.4 159.2 142.3 160.6 144.3 162.0 146.2 163.7 148.1 165.4 150.0 167.4 151.8 169.5 153.7 171.9 155.5 174.7 157.3 177.8 159.1 181.4 160.8 185.7 162.4 190.7 164.0 196.6 165.4 203.6 166.7 211.8 167.8 221.1 168.6 231.1 169.1 241.2 169.3 251.3 169.1 261.3 168.6 270.6 167.8 278.8 166.7 285.8 165.4 291.7 164.0 296.7 162.4 301.0 160.8 304.6 159.1 307.7 157.3 310.5 155.5 312.9 153.7 315.0 151.8 317.0 150.0 318.7 148.1 320.4 146.2 321.8 144.3 323.2 142.3 324.5 140.4 325.7 138.5 326.8 136.5 327.8 134.6 328.8 132.6 329.8 130.7 330.7 128.7 331.5 126.8 332.3 124.8 333.1 122.9 333.8 120.9 334.5 118.9 335.2 117.0 335.9 115.0 336.5 113.1 337.1 111.1 337.7 109.1 338.3 107.2 338.8 105.2 339.3 103.2 339.8 101.3 340.3 99.3 340.8 97.3 341.3 95.4 341.7 93.4 342.1 91.4 342.6 89.5Z"/><path d="M134.6 90.5 134.1 88.6 133.7 86.6 133.3 84.6 132.9 82.6 132.6 80.6 132.2 78.6 131.8 76.6 131.4 74.6 131.0 72.6 130.6 70.6 130.2 68.7 129.8 66.7 129.4 64.7 129.0 62.7 128.6 60.7 128.2 58.8 127.7 56.8 127.3 54.8 126.8 52.9 126.3 50.9 125.8 48.9 125.2 47.0 124.6 45.0 123.9 43.1 123.2 41.2 122.5 39.2 121.6 37.3 120.7 35.4 119.7 33.5 118.6 31.6 117.3 29.7 115.8 27.9 114.2 26.0 112.2 24.2 110.0 22.5 107.4 20.7 104.3 19.0 100.5 17.4 96.1 15.9 90.7 14.5 84.2 13.2 76.5 12.2 67.9 11.4 58.6 10.9 49.2 10.7 39.8 10.9 30.5 11.4 21.9 12.2 14.2 13.2 7.7 14.5 2.3 15.9 -2.1 17.4 -5.9 19.0 -9.0 20.7 -11.6 22.5 -13.8 24.2 -15.8 26.0 -17.4 27.9 -18.9 29.7 -20.2 31.6 -21.3 33.5 -22.3 35.4 -23.2 37.3 -24.1 39.2 -24.8 41.2 -25.5 43.1 -26.2 45.0 -26.8 47.0 -27.4 48.9 -27.9 50.9 -28.4 52.9 -28.9 54.8 -29.3 56.8 -29.8 58.8 -30.2 60.7 -30.6 62.7 -31.0 64.7 -31.4 66.7 -31.8 68.7 -32.2 70.6 -32.6 72.6 -33.0 74.6 -33.4 76.6 -33.8 78.6 -34.2 80.6 -34.5 82.6 -34.9 84.6 -35.3 86.6 -35.7 88.6 -36.2 90.5 -36.6 92.5 -41.9 91.4 -41.4 89.5 -41.0 87.5 -40.7 85.5 -40.3 83.5 -39.9 81.6 -39.5 79.6 -39.2 77.6 -38.9 75.7 -38.5 73.7 -38.2 71.7 -37.9 69.8 -37.6 67.8 -37.3 65.8 -37.0 63.8 -36.6 61.9 -36.3 59.9 -36.0 57.9 -35.7 55.9 -35.4 54.0 -35.1 52.0 -34.8 50.0 -34.5 48.1 -34.1 46.1 -33.8 44.1 -33.4 42.1 -33.0 40.2 -32.5 38.2 -32.1 36.2 -31.6 34.2 -31.0 32.3 -30.3 30.3 -29.6 28.3 -28.8 26.4 -27.8 24.4 -26.7 22.4 -25.3 20.5 -23.7 18.6 -21.7 16.7 -19.1 14.8 -15.8 12.9 -11.3 11.1 -5.2 9.4 3.3 7.8 15.1 6.5 30.7 5.6 49.2 5.3 67.7 5.6 83.3 6.5 95.1 7.8 103.6 9.4 109.7 11.1 114.2 12.9 117.5 14.8 120.1 16.7 122.1 18.6 123.7 20.5 125.1 22.4 126.2 24.4 127.2 26.4 128.0 28.3 128.7 30.3 129.4 32.3 130.0 34.2 130.5 36.2 130.9 38.2 131.4 40.2 131.8 42.1 132.2 44.1 132.5 46.1 132.9 48.1 133.2 50.0 133.5 52.0 133.8 54.0 134.1 55.9 134.4 57.9 134.7 59.9 135.0 61.9 135.4 63.8 135.7 65.8 136.0 67.8 136.3 69.8 136.6 71.7 136.9 73.7 137.3 75.7 137.6 77.6 137.9 79.6 138.3 81.6 138.7 83.5 139.1 85.5 139.4 87.5 139.8 89.5Z"/><path d="M494.6 90.5 494.1 88.6 493.7 86.6 493.3 84.6 492.9 82.6 492.6 80.6 492.2 78.6 491.8 76.6 491.4 74.6 491.0 72.6 490.6 70.6 490.2 68.7 489.8 66.7 489.4 64.7 489.0 62.7 488.6 60.7 488.2 58.8 487.7 56.8 487.3 54.8 486.8 52.9 486.3 50.9 485.8 48.9 485.2 47.0 484.6 45.0 483.9 43.1 483.2 41.2 482.5 39.2 481.6 37.3 480.7 35.4 479.7 33.5 478.6 31.6 477.3 29.7 475.8 27.9 474.2 26.0 472.2 24.2 470.0 22.5 467.4 20.7 464.3 19.0 460.5 17.4 456.1 15.9 450.7 14.5 444.2 13.2 436.5 12.2 427.9 11.4 418.6 10.9 409.2 10.7 399.8 10.9 390.5 11.4 381.9 12.2 374.2 13.2 367.7 14.5 362.3 15.9 357.9 17.4 354.1 19.0 351.0 20.7 348.4 22.5 346.2 24.2 344.2 26.0 342.6 27.9 341.1 29.7 339.8 31.6 338.7 33.5 337.7 35.4 336.8 37.3 335.9 39.2 335.2 41.2 334.5 43.1 333.8 45.0 333.2 47.0 332.6 48.9 332.1 50.9 331.6 52.9 331.1 54.8 330.7 56.8 330.2 58.8 329.8 60.7 329.4 62.7 329.0 64.7 328.6 66.7 328.2 68.7 327.8 70.6 327.4 72.6 327.0 74.6 326.6 76.6 326.2 78.6 325.8 80.6 325.5 82.6 325.1 84.6 324.7 86.6 324.3 88.6 323.8 90.5 323.4 92.5 318.1 91.4 318.6 89.5 319.0 87.5 319.3 85.5 319.7 83.5 320.1 81.6 320.5 79.6 320.8 77.6 321.1 75.7 321.5 73.7 321.8 71.7 322.1 69.8 322.4 67.8 322.7 65.8 323.0 63.8 323.4 61.9 323.7 59.9 324.0 57.9 324.3 55.9 324.6 54.0 324.9 52.0 325.2 50.0 325.5 48.1 325.9 46.1 326.2 44.1 326.6 42.1 327.0 40.2 327.5 38.2 327.9 36.2 328.4 34.2 329.0 32.3 329.7 30.3 330.4 28.3 331.2 26.4 332.2 24.4 333.3 22.4 334.7 20.5 336.3 18.6 338.3 16.7 340.9 14.8 344.2 12.9 348.7 11.1 354.8 9.4 363.3 7.8 375.1 6.5 390.7 5.6 409.2 5.3 427.7 5.6 443.3 6.5 455.1 7.8 463.6 9.4 469.7 11.1 474.2 12.9 477.5 14.8 480.1 16.7 482.1 18.6 483.7 20.5 485.1 22.4 486.2 24.4 487.2 26.4 488.0 28.3 488.7 30.3 489.4 32.3 490.0 34.2 490.5 36.2 490.9 38.2 491.4 40.2 491.8 42.1 492.2 44.1 492.5 46.1 492.9 48.1 493.2 50.0 493.5 52.0 493.8 54.0 494.1 55.9 494.4 57.9 494.7 59.9 495.0 61.9 495.4 63.8 495.7 65.8 496.0 67.8 496.3 69.8 496.6 71.7 496.9 73.7 497.3 75.7 497.6 77.6 497.9 79.6 498.3 81.6 498.7 83.5 499.1 85.5 499.4 87.5 499.8 89.5Z"/><path d="M323.8 90.5 323.4 92.5 323.0 94.5 322.6 96.5 322.1 98.5 321.7 100.5 321.2 102.5 320.7 104.5 320.3 106.5 319.8 108.5 319.3 110.5 318.7 112.5 318.2 114.5 317.7 116.4 317.1 118.4 316.5 120.4 315.9 122.4 315.3 124.4 314.7 126.4 314.0 128.3 313.3 130.3 312.6 132.3 311.9 134.3 311.2 136.3 310.4 138.2 309.5 140.2 308.6 142.2 307.7 144.1 306.7 146.1 305.7 148.1 304.6 150.0 303.3 152.0 302.0 153.9 300.5 155.9 298.8 157.8 297.0 159.7 294.8 161.6 292.2 163.5 289.1 165.4 285.2 167.2 280.1 169.0 273.5 170.7 264.4 172.2 252.1 173.5 236.1 174.4 217.2 174.7 198.3 174.4 182.3 173.5 170.0 172.2 160.9 170.7 154.3 169.0 149.2 167.2 145.3 165.4 142.2 163.5 139.6 161.6 137.4 159.7 135.6 157.8 133.9 155.9 132.4 153.9 131.1 152.0 129.8 150.0 128.7 148.1 127.7 146.1 126.7 144.1 125.8 142.2 124.9 140.2 124.0 138.2 123.2 136.3 122.5 134.3 121.8 132.3 121.1 130.3 120.4 128.3 119.7 126.4 119.1 124.4 118.5 122.4 117.9 120.4 117.3 118.4 116.7 116.4 116.2 114.5 115.7 112.5 115.1 110.5 114.6 108.5 114.1 106.5 113.7 104.5 113.2 102.5 112.7 100.5 112.3 98.5 111.8 96.5 111.4 94.5 111.0 92.5 110.6 90.5 110.1 88.6 115.4 87.5 115.8 89.5 116.3 91.4 116.7 93.4 117.1 95.4 117.6 97.3 118.1 99.3 118.6 101.3 119.1 103.2 119.6 105.2 120.1 107.2 120.7 109.1 121.3 111.1 121.9 113.1 122.5 115.0 123.2 117.0 123.9 118.9 124.6 120.9 125.3 122.9 126.1 124.8 126.9 126.8 127.7 128.7 128.6 130.7 129.6 132.6 130.6 134.6 131.6 136.5 132.7 138.5 133.9 140.4 135.2 142.3 136.6 144.3 138.0 146.2 139.7 148.1 141.4 150.0 143.4 151.8 145.5 153.7 147.9 155.5 150.7 157.3 153.8 159.1 157.4 160.8 161.7 162.4 166.7 164.0 172.6 165.4 179.6 166.7 187.8 167.8 197.1 168.6 207.1 169.1 217.2 169.3 227.3 169.1 237.3 168.6 246.6 167.8 254.8 166.7 261.8 165.4 267.7 164.0 272.7 162.4 277.0 160.8 280.6 159.1 283.7 157.3 286.5 155.5 288.9 153.7 291.0 151.8 293.0 150.0 294.7 148.1 296.4 146.2 297.8 144.3 299.2 142.3 300.5 140.4 301.7 138.5 302.8 136.5 303.8 134.6 304.8 132.6 305.8 130.7 306.7 128.7 307.5 126.8 308.3 124.8 309.1 122.9 309.8 120.9 310.5 118.9 311.2 117.0 311.9 115.0 312.5 113.1 313.1 111.1 313.7 109.1 314.3 107.2 314.8 105.2 315.3 103.2 315.8 101.3 316.3 99.3 316.8 97.3 317.3 95.4 317.7 93.4 318.1 91.4 318.6 89.5Z"/><path d="M110.6 90.5 110.1 88.6 109.7 86.6 109.3 84.6 108.9 82.6 108.6 80.6 108.2 78.6 107.8 76.6 107.4 74.6 107.0 72.6 106.6 70.6 106.2 68.7 105.8 66.7 105.4 64.7 105.0 62.7 104.6 60.7 104.2 58.8 103.7 56.8 103.3 54.8 102.8 52.9 102.3 50.9 101.8 48.9 101.2 47.0 100.6 45.0 99.9 43.1 99.2 41.2 98.5 39.2 97.6 37.3 96.7 35.4 95.7 33.5 94.6 31.6 93.3 29.7 91.8 27.9 90.2 26.0 88.2 24.2 86.0 22.5 83.4 20.7 80.3 19.0 76.5 17.4 72.1 15.9 66.7 14.5 60.2 13.2 52.5 12.2 43.9 11.4 34.6 10.9 25.2 10.7 15.8 10.9 6.5 11.4 -2.1 12.2 -9.8 13.2 -16.3 14.5 -21.7 15.9 -26.1 17.4 -29.9 19.0 -33.0 20.7 -35.6 22.5 -37.8 24.2 -39.8 26.0 -41.4 27.9 -42.9 29.7 -44.2 31.6 -45.3 33.5 -46.3 35.4 -47.2 37.3 -48.1 39.2 -48.8 41.2 -49.5 43.1 -50.2 45.0 -50.8 47.0 -51.4 48.9 -51.9 50.9 -52.4 52.9 -52.9 54.8 -53.3 56.8 -53.8 58.8 -54.2 60.7 -54.6 62.7 -55.0 64.7 -55.4 66.7 -55.8 68.7 -56.2 70.6 -56.6 72.6 -57.0 74.6 -57.4 76.6 -57.8 78.6 -58.2 80.6 -58.5 82.6 -58.9 84.6 -59.3 86.6 -59.7 88.6 -60.2 90.5 -60.6 92.5 -65.9 91.4 -65.4 89.5 -65.0 87.5 -64.7 85.5 -64.3 83.5 -63.9 81.6 -63.5 79.6 -63.2 77.6 -62.9 75.7 -62.5 73.7 -62.2 71.7 -61.9 69.8 -61.6 67.8 -61.3 65.8 -61.0 63.8 -60.6 61.9 -60.3 59.9 -60.0 57.9 -59.7 55.9 -59.4 54.0 -59.1 52.0 -58.8 50.0 -58.5 48.1 -58.1 46.1 -57.8 44.1 -57.4 42.1 -57.0 40.2 -56.5 38.2 -56.1 36.2 -55.6 34.2 -55.0 32.3 -54.3 30.3 -53.6 28.3 -52.8 26.4 -51.8 24.4 -50.7 22.4 -49.3 20.5 -47.7 18.6 -45.7 16.7 -43.1 14.8 -39.8 12.9 -35.3 11.1 -29.2 9.4 -20.7 7.8 -8.9 6.5 6.7 5.6 25.2 5.3 43.7 5.6 59.3 6.5 71.1 7.8 79.6 9.4 85.7 11.1 90.2 12.9 93.5 14.8 96.1 16.7 98.1 18.6 99.7 20.5 101.1 22.4 102.2 24.4 103.2 26.4 104.0 28.3 104.7 30.3 105.4 32.3 106.0 34.2 106.5 36.2 106.9 38.2 107.4 40.2 107.8 42.1 108.2 44.1 108.5 46.1 108.9 48.1 109.2 50.0 109.5 52.0 109.8 54.0 110.1 55.9 110.4 57.9 110.7 59.9 111.0 61.9 111.4 63.8 111.7 65.8 112.0 67.8 112.3 69.8 112.6 71.7 112.9 73.7 113.3 75.7 113.6 77.6 113.9 79.6 114.3 81.6 114.7 83.5 115.1 85.5 115.4 87.5 115.8 89.5Z"/><path d="M470.6 90.5 470.1 88.6 469.7 86.6 469.3 84.6 468.9 82.6 468.6 80.6 468.2 78.6 467.8 76.6 467.4 74.6 467.0 72.6 466.6 70.6 466.2 68.7 465.8 66.7 465.4 64.7 465.0 62.7 464.6 60.7 464.2 58.8 463.7 56.8 463.3 54.8 462.8 52.9 462.3 50.9 461.8 48.9 461.2 47.0 460.6 45.0 459.9 43.1 459.2 41.2 458.5 39.2 457.6 37.3 456.7 35.4 455.7 33.5 454.6 31.6 453.3 29.7 451.8 27.9 450.2 26.0 448.2 24.2 446.0 22.5 443.4 20.7 440.3 19.0 436.5 17.4 432.1 15.9 426.7 14.5 420.2 13.2 412.5 12.2 403.9 11.4 394.6 10.9 385.2 10.7 375.8 10.9 366.5 11.4 357.9 12.2 350.2 13.2 343.7 14.5 338.3 15.9 333.9 17.4 330.1 19.0 327.0 20.7 324.4 22.5 322.2 24.2 320.2 26.0 318.6 27.9 317.1 29.7 315.8 31.6 314.7 33.5 313.7 35.4 312.8 37.3 311.9 39.2 311.2 41.2 310.5 43.1 309.8 45.0 309.2 47.0 308.6 48.9 308.1 50.9 307.6 52.9 307.1 54.8 306.7 56.8 306.2 58.8 305.8 60.7 305.4 62.7 305.0 64.7 304.6 66.7 304.2 68.7 303.8 70.6 303.4 72.6 303.0 74.6 302.6 76.6 302.2 78.6 301.8 80.6 301.5 82.6 301.1 84.6 300.7 86.6 300.3 88.6 299.8 90.5 299.4 92.5 294.1 91.4 294.6 89.5 295.0 87.5 295.3 85.5 295.7 83.5 296.1 81.6 296.5 79.6 296.8 77.6 297.1 75.7 297.5 73.7 297.8 71.7 298.1 69.8 298.4 67.8 298.7 65.8 299.0 63.8 299.4 61.9 299.7 59.9 300.0 57.9 300.3 55.9 300.6 54.0 300.9 52.0 301.2 50.0 301.5 48.1 301.9 46.1 302.2 44.1 302.6 42.1 303.0 40.2 303.5 38.2 303.9 36.2 304.4 34.2 305.0 32.3 305.7 30.3 306.4 28.3 307.2 26.4 308.2 24.4 309.3 22.4 310.7 20.5 312.3 18.6 314.3 16.7 316.9 14.8 320.2 12.9 324.7 11.1 330.8 9.4 339.3 7.8 351.1 6.5 366.7 5.6 385.2 5.3 403.7 5.6 419.3 6.5 431.1 7.8 439.6 9.4 445.7 11.1 450.2 12.9 453.5 14.8 456.1 16.7 458.1 18.6 459.7 20.5 461.1 22.4 462.2 24.4 463.2 26.4 464.0 28.3 464.7 30.3 465.4 32.3 466.0 34.2 466.5 36.2 466.9 38.2 467.4 40.2 467.8 42.1 468.2 44.1 468.5 46.1 468.9 48.1 469.2 50.0 469.5 52.0 469.8 54.0 470.1 55.9 470.4 57.9 470.7 59.9 471.0 61.9 471.4 63.8 471.7 65.8 472.0 67.8 472.3 69.8 472.6 71.7 472.9 73.7 473.3 75.7 473.6 77.6 473.9 79.6 474.3 81.6 474.7 83.5 475.1 85.5 475.4 87.5 475.8 89.5Z"/><path d="M299.8 90.5 299.4 92.5 299.0 94.5 298.6 96.5 298.1 98.5 297.7 100.5 297.2 102.5 296.7 104.5 296.3 106.5 295.8 108.5 295.3 110.5 294.7 112.5 294.2 114.5 293.7 116.4 293.1 118.4 292.5 120.4 291.9 122.4 291.3 124.4 290.7 126.4 290.0 128.3 289.3 130.3 288.6 132.3 287.9 134.3 287.2 136.3 286.4 138.2 285.5 140.2 284.6 142.2 283.7 144.1 282.7 146.1 281.7 148.1 280.6 150.0 279.3 152.0 278.0 153.9 276.5 155.9 274.8 157.8 273.0 159.7 270.8 161.6 268.2 163.5 265.1 165.4 261.2 167.2 256.1 169.0 249.5 170.7 240.4 172.2 228.1 173.5 212.1 174.4 193.2 174.7 174.3 174.4 158.3 173.5 146.0 172.2 136.9 170.7 130.3 169.0 125.2 167.2 121.3 165.4 118.2 163.5 115.6 161.6 113.4 159.7 111.6 157.8 109.9 155.9 108.4 153.9 107.1 152.0 105.8 150.0 104.7 148.1 103.7 146.1 102.7 144.1 101.8 142.2 100.9 140.2 100.0 138.2 99.2 136.3 98.5 134.3 97.8 132.3 97.1 130.3 96.4 128.3 95.7 126.4 95.1 124.4 94.5 122.4 93.9 120.4 93.3 118.4 92.7 116.4 92.2 114.5 91.7 112.5 91.1 110.5 90.6 108.5 90.1 106.5 89.7 104.5 89.2 102.5 88.7 100.5 88.3 98.5 87.8 96.5 87.4 94.5 87.0 92.5 86.6 90.5 86.1 88.6 91.4 87.5 91.8 89.5 92.3 91.4 92.7 93.4 93.1 95.4 93.6 97.3 94.1 99.3 94.6 101.3 95.1 103.2 95.6 105.2 96.1 107.2 96.7 109.1 97.3 111.1 97.9 113.1 98.5 115.0 99.2 117.0 99.9 118.9 100.6 120.9 101.3 122.9 102.1 124.8 102.9 126.8 103.7 128.7 104.6 130.7 105.6 132.6 106.6 134.6 107.6 136.5 108.7 138.5 109.9 140.4 111.2 142.3 112.6 144.3 114.0 146.2 115.7 148.1 117.4 150.0 119.4 151.8 121.5 153.7 123.9 155.5 126.7 157.3 129.8 159.1 133.4 160.8 137.7 162.4 142.7 164.0 148.6 165.4 155.6 166.7 163.8 167.8 173.1 168.6 183.1 169.1 193.2 169.3 203.3 169.1 213.3 168.6 222.6 167.8 230.8 166.7 237.8 165.4 243.7 164.0 248.7 162.4 253.0 160.8 256.6 159.1 259.7 157.3 262.5 155.5 264.9 153.7 267.0 151.8 269.0 150.0 270.7 148.1 272.4 146.2 273.8 144.3 275.2 142.3 276.5 140.4 277.7 138.5 278.8 136.5 279.8 134.6 280.8 132.6 281.8 130.7 282.7 128.7 283.5 126.8 284.3 124.8 285.1 122.9 285.8 120.9 286.5 118.9 287.2 117.0 287.9 115.0 288.5 113.1 289.1 111.1 289.7 109.1 290.3 107.2 290.8 105.2 291.3 103.2 291.8 101.3 292.3 99.3 292.8 97.3 293.3 95.4 293.7 93.4 294.1 91.4 294.6 89.5Z"/><path d="M86.6 90.5 86.1 88.6 85.7 86.6 85.3 84.6 84.9 82.6 84.6 80.6 84.2 78.6 83.8 76.6 83.4 74.6 83.0 72.6 82.6 70.6 82.2 68.7 81.8 66.7 81.4 64.7 81.0 62.7 80.6 60.7 80.2 58.8 79.7 56.8 79.3 54.8 78.8 52.9 78.3 50.9 77.8 48.9 77.2 47.0 76.6 45.0 75.9 43.1 75.2 41.2 74.5 39.2 73.6 37.3 72.7 35.4 71.7 33.5 70.6 31.6 69.3 29.7 67.8 27.9 66.2 26.0 64.2 24.2 62.0 22.5 59.4 20.7 56.3 19.0 52.5 17.4 48.1 15.9 42.7 14.5 36.2 13.2 28.5 12.2 19.9 11.4 10.6 10.9 1.2 10.7 -8.2 10.9 -17.5 11.4 -26.1 12.2 -33.8 13.2 -40.3 14.5 -45.7 15.9 -50.1 17.4 -53.9 19.0 -57.0 20.7 -59.6 22.5 -61.8 24.2 -63.8 26.0 -65.4 27.9 -66.9 29.7 -68.2 31.6 -69.3 33.5 -70.3 35.4 -71.2 37.3 -72.1 39.2 -72.8 41.2 -73.5 43.1 -74.2 45.0 -74.8 47.0 -75.4 48.9 -75.9 50.9 -76.4 52.9 -76.9 54.8 -77.3 56.8 -77.8 58.8 -78.2 60.7 -78.6 62.7 -79.0 64.7 -79.4 66.7 -79.8 68.7 -80.2 70.6 -80.6 72.6 -81.0 74.6 -81.4 76.6 -81.8 78.6 -82.2 80.6 -82.5 82.6 -82.9 84.6 -83.3 86.6 -83.7 88.6 -84.2 90.5 -84.6 92.5 -89.9 91.4 -89.4 89.5 -89.0 87.5 -88.7 85.5 -88.3 83.5 -87.9 81.6 -87.5 79.6 -87.2 77.6 -86.9 75.7 -86.5 73.7 -86.2 71.7 -85.9 69.8 -85.6 67.8 -85.3 65.8 -85.0 63.8 -84.6 61.9 -84.3 59.9 -84.0 57.9 -83.7 55.9 -83.4 54.0 -83.1 52.0 -82.8 50.0 -82.5 48.1 -82.1 46.1 -81.8 44.1 -81.4 42.1 -81.0 40.2 -80.5 38.2 -80.1 36.2 -79.6 34.2 -79.0 32.3 -78.3 30.3 -77.6 28.3 -76.8 26.4 -75.8 24.4 -74.7 22.4 -73.3 20.5 -71.7 18.6 -69.7 16.7 -67.1 14.8 -63.8 12.9 -59.3 11.1 -53.2 9.4 -44.7 7.8 -32.9 6.5 -17.3 5.6 1.2 5.3 19.7 5.6 35.3 6.5 47.1 7.8 55.6 9.4 61.7 11.1 66.2 12.9 69.5 14.8 72.1 16.7 74.1 18.6 75.7 20.5 77.1 22.4 78.2 24.4 79.2 26.4 80.0 28.3 80.7 30.3 81.4 32.3 82.0 34.2 82.5 36.2 82.9 38.2 83.4 40.2 83.8 42.1 84.2 44.1 84.5 46.1 84.9 48.1 85.2 50.0 85.5 52.0 85.8 54.0 86.1 55.9 86.4 57.9 86.7 59.9 87.0 61.9 87.4 63.8 87.7 65.8 88.0 67.8 88.3 69.8 88.6 71.7 88.9 73.7 89.3 75.7 89.6 77.6 89.9 79.6 90.3 81.6 90.7 83.5 91.1 85.5 91.4 87.5 91.8 89.5Z"/><path d="M446.6 90.5 446.1 88.6 445.7 86.6 445.3 84.6 444.9 82.6 444.6 80.6 444.2 78.6 443.8 76.6 443.4 74.6 443.0 72.6 442.6 70.6 442.2 68.7 441.8 66.7 441.4 64.7 441.0 62.7 440.6 60.7 440.2 58.8 439.7 56.8 439.3 54.8 438.8 52.9 438.3 50.9 437.8 48.9 437.2 47.0 436.6 45.0 435.9 43.1 435.2 41.2 434.5 39.2 433.6 37.3 432.7 35.4 431.7 33.5 430.6 31.6 429.3 29.7 427.8 27.9 426.2 26.0 424.2 24.2 422.0 22.5 419.4 20.7 416.3 19.0 412.5 17.4 408.1 15.9 402.7 14.5 396.2 13.2 388.5 12.2 379.9 11.4 370.6 10.9 361.2 10.7 351.8 10.9 342.5 11.4 333.9 12.2 326.2 13.2 319.7 14.5 314.3 15.9 309.9 17.4 306.1 19.0 303.0 20.7 300.4 22.5 298.2 24.2 296.2 26.0 294.6 27.9 293.1 29.7 291.8 31.6 290.7 33.5 289.7 35.4 288.8 37.3 287.9 39.2 287.2 41.2 286.5 43.1 285.8 45.0 285.2 47.0 284.6 48.9 284.1 50.9 283.6 52.9 283.1 54.8 282.7 56.8 282.2 58.8 281.8 60.7 281.4 62.7 281.0 64.7 280.6 66.7 280.2 68.7 279.8 70.6 279.4 72.6 279.0 74.6 278.6 76.6 278.2 78.6 277.8 80.6 277.5 82.6 277.1 84.6 276.7 86.6 276.3 88.6 275.8 90.5 275.4 92.5 270.1 91.4 270.6 89.5 271.0 87.5 271.3 85.5 271.7 83.5 272.1 81.6 272.5 79.6 272.8 77.6 273.1 75.7 273.5 73.7 273.8 71.7 274.1 69.8 274.4 67.8 274.7 65.8 275.0 63.8 275.4 61.9 275.7 59.9 276.0 57.9 276.3 55.9 276.6 54.0 276.9 52.0 277.2 50.0 277.5 48.1 277.9 46.1 278.2 44.1 278.6 42.1 279.0 40.2 279.5 38.2 279.9 36.2 280.4 34.2 281.0 32.3 281.7 30.3 282.4 28.3 283.2 26.4 284.2 24.4 285.3 22.4 286.7 20.5 288.3 18.6 290.3 16.7 292.9 14.8 296.2 12.9 300.7 11.1 306.8 9.4 315.3 7.8 327.1 6.5 342.7 5.6 361.2 5.3 379.7 5.6 395.3 6.5 407.1 7.8 415.6 9.4 421.7 11.1 426.2 12.9 429.5 14.8 432.1 16.7 434.1 18.6 435.7 20.5 437.1 22.4 438.2 24.4 439.2 26.4 440.0 28.3 440.7 30.3 441.4 32.3 442.0 34.2 442.5 36.2 442.9 38.2 443.4 40.2 443.8 42.1 444.2 44.1 444.5 46.1 444.9 48.1 445.2 50.0 445.5 52.0 445.8 54.0 446.1 55.9 446.4 57.9 446.7 59.9 447.0 61.9 447.4 63.8 447.7 65.8 448.0 67.8 448.3 69.8 448.6 71.7 448.9 73.7 449.3 75.7 449.6 77.6 449.9 79.6 450.3 81.6 450.7 83.5 451.1 85.5 451.4 87.5 451.8 89.5Z"/><path d="M275.8 90.5 275.4 92.5 275.0 94.5 274.6 96.5 274.1 98.5 273.7 100.5 273.2 102.5 272.7 104.5 272.3 106.5 271.8 108.5 271.3 110.5 270.7 112.5 270.2 114.5 269.7 116.4 269.1 118.4 268.5 120.4 267.9 122.4 267.3 124.4 266.7 126.4 266.0 128.3 265.3 130.3 264.6 132.3 263.9 134.3 263.2 136.3 262.4 138.2 261.5 140.2 260.6 142.2 259.7 144.1 258.7 146.1 257.7 148.1 256.6 150.0 255.3 152.0 254.0 153.9 252.5 155.9 250.8 157.8 249.0 159.7 246.8 161.6 244.2 163.5 241.1 165.4 237.2 167.2 232.1 169.0 225.5 170.7 216.4 172.2 204.1 173.5 188.1 174.4 169.2 174.7 150.3 174.4 134.3 173.5 122.0 172.2 112.9 170.7 106.3 169.0 101.2 167.2 97.3 165.4 94.2 163.5 91.6 161.6 89.4 159.7 87.6 157.8 85.9 155.9 84.4 153.9 83.1 152.0 81.8 150.0 80.7 148.1 79.7 146.1 78.7 144.1 77.8 142.2 76.9 140.2 76.0 138.2 75.2 136.3 74.5 134.3 73.8 132.3 73.1 130.3 72.4 128.3 71.7 126.4 71.1 124.4 70.5 122.4 69.9 120.4 69.3 118.4 68.7 116.4 68.2 114.5 67.7 112.5 67.1 110.5 66.6 108.5 66.1 106.5 65.7 104.5 65.2 102.5 64.7 100.5 64.3 98.5 63.8 96.5 63.4 94.5 63.0 92.5 62.6 90.5 62.1 88.6 67.4 87.5 67.8 89.5 68.3 91.4 68.7 93.4 69.1 95.4 69.6 97.3 70.1 99.3 70.6 101.3 71.1 103.2 71.6 105.2 72.1 107.2 72.7 109.1 73.3 111.1 73.9 113.1 74.5 115.0 75.2 117.0 75.9 118.9 76.6 120.9 77.3 122.9 78.1 124.8 78.9 126.8 79.7 128.7 80.6 130.7 81.6 132.6 82.6 134.6 83.6 136.5 84.7 138.5 85.9 140.4 87.2 142.3 88.6 144.3 90.0 146.2 91.7 148.1 93.4 150.0 95.4 151.8 97.5 153.7 99.9 155.5 102.7 157.3 105.8 159.1 109.4 160.8 113.7 162.4 118.7 164.0 124.6 165.4 131.6 166.7 139.8 167.8 149.1 168.6 159.1 169.1 169.2 169.3 179.3 169.1 189.3 168.6 198.6 167.8 206.8 166.7 213.8 165.4 219.7 164.0 224.7 162.4 229.0 160.8 232.6 159.1 235.7 157.3 238.5 155.5 240.9 153.7 243.0 151.8 245.0 150.0 246.7 148.1 248.4 146.2 249.8 144.3 251.2 142.3 252.5 140.4 253.7 138.5 254.8 136.5 255.8 134.6 256.8 132.6 257.8 130.7 258.7 128.7 259.5 126.8 260.3 124.8 261.1 122.9 261.8 120.9 262.5 118.9 263.2 117.0 263.9 115.0 264.5 113.1 265.1 111.1 265.7 109.1 266.3 107.2 266.8 105.2 267.3 103.2 267.8 101.3 268.3 99.3 268.8 97.3 269.3 95.4 269.7 93.4 270.1 91.4 270.6 89.5Z"/><path d="M62.6 90.5 62.1 88.6 61.7 86.6 61.3 84.6 60.9 82.6 60.6 80.6 60.2 78.6 59.8 76.6 59.4 74.6 59.0 72.6 58.6 70.6 58.2 68.7 57.8 66.7 57.4 64.7 57.0 62.7 56.6 60.7 56.2 58.8 55.7 56.8 55.3 54.8 54.8 52.9 54.3 50.9 53.8 48.9 53.2 47.0 52.6 45.0 51.9 43.1 51.2 41.2 50.5 39.2 49.6 37.3 48.7 35.4 47.7 33.5 46.6 31.6 45.3 29.7 43.8 27.9 42.2 26.0 40.2 24.2 38.0 22.5 35.4 20.7 32.3 19.0 28.5 17.4 24.1 15.9 18.7 14.5 12.2 13.2 4.5 12.2 -4.1 11.4 -13.4 10.9 -22.8 10.7 -32.2 10.9 -41.5 11.4 -50.1 12.2 -57.8 13.2 -64.3 14.5 -69.7 15.9 -74.1 17.4 -77.9 19.0 -81.0 20.7 -83.6 22.5 -85.8 24.2 -87.8 26.0 -89.4 27.9 -90.9 29.7 -92.2 31.6 -93.3 33.5 -94.3 35.4 -95.2 37.3 -96.1 39.2 -96.8 41.2 -97.5 43.1 -98.2 45.0 -98.8 47.0 -99.4 48.9 -99.9 50.9 -100.4 52.9 -100.9 54.8 -101.3 56.8 -101.8 58.8 -102.2 60.7 -102.6 62.7 -103.0 64.7 -103.4 66.7 -103.8 68.7 -104.2 70.6 -104.6 72.6 -105.0 74.6 -105.4 76.6 -105.8 78.6 -106.2 80.6 -106.5 82.6 -106.9 84.6 -107.3 86.6 -107.7 88.6 -108.2 90.5 -108.6 92.5 -113.9 91.4 -113.4 89.5 -113.0 87.5 -112.7 85.5 -112.3 83.5 -111.9 81.6 -111.5 79.6 -111.2 77.6 -110.9 75.7 -110.5 73.7 -110.2 71.7 -109.9 69.8 -109.6 67.8 -109.3 65.8 -109.0 63.8 -108.6 61.9 -108.3 59.9 -108.0 57.9 -107.7 55.9 -107.4 54.0 -107.1 52.0 -106.8 50.0 -106.5 48.1 -106.1 46.1 -105.8 44.1 -105.4 42.1 -105.0 40.2 -104.5 38.2 -104.1 36.2 -103.6 34.2 -103.0 32.3 -102.3 30.3 -101.6 28.3 -100.8 26.4 -99.8 24.4 -98.7 22.4 -97.3 20.5 -95.7 18.6 -93.7 16.7 -91.1 14.8 -87.8 12.9 -83.3 11.1 -77.2 9.4 -68.7 7.8 -56.9 6.5 -41.3 5.6 -22.8 5.3 -4.3 5.6 11.3 6.5 23.1 7.8 31.6 9.4 37.7 11.1 42.2 12.9 45.5 14.8 48.1 16.7 50.1 18.6 51.7 20.5 53.1 22.4 54.2 24.4 55.2 26.4 56.0 28.3 56.7 30.3 57.4 32.3 58.0 34.2 58.5 36.2 58.9 38.2 59.4 40.2 59.8 42.1 60.2 44.1 60.5 46.1 60.9 48.1 61.2 50.0 61.5 52.0 61.8 54.0 62.1 55.9 62.4 57.9 62.7 59.9 63.0 61.9 63.4 63.8 63.7 65.8 64.0 67.8 64.3 69.8 64.6 71.7 64.9 73.7 65.3 75.7 65.6 77.6 65.9 79.6 66.3 81.6 66.7 83.5 67.1 85.5 67.4 87.5 67.8 89.5Z"/><path d="M422.6 90.5 422.1 88.6 421.7 86.6 421.3 84.6 420.9 82.6 420.6 80.6 420.2 78.6 419.8 76.6 419.4 74.6 419.0 72.6 418.6 70.6 418.2 68.7 417.8 66.7 417.4 64.7 417.0 62.7 416.6 60.7 416.2 58.8 415.7 56.8 415.3 54.8 414.8 52.9 414.3 50.9 413.8 48.9 413.2 47.0 412.6 45.0 411.9 43.1 411.2 41.2 410.5 39.2 409.6 37.3 408.7 35.4 407.7 33.5 406.6 31.6 405.3 29.7 403.8 27.9 402.2 26.0 400.2 24.2 398.0 22.5 395.4 20.7 392.3 19.0 388.5 17.4 384.1 15.9 378.7 14.5 372.2 13.2 364.5 12.2 355.9 11.4 346.6 10.9 337.2 10.7 327.8 10.9 318.5 11.4 309.9 12.2 302.2 13.2 295.7 14.5 290.3 15.9 285.9 17.4 282.1 19.0 279.0 20.7 276.4 22.5 274.2 24.2 272.2 26.0 270.6 27.9 269.1 29.7 267.8 31.6 266.7 33.5 265.7 35.4 264.8 37.3 263.9 39.2 263.2 41.2 262.5 43.1 261.8 45.0 261.2 47.0 260.6 48.9 260.1 50.9 259.6 52.9 259.1 54.8 258.7 56.8 258.2 58.8 257.8 60.7 257.4 62.7 257.0 64.7 256.6 66.7 256.2 68.7 255.8 70.6 255.4 72.6 255.0 74.6 254.6 76.6 254.2 78.6 253.8 80.6 253.5 82.6 253.1 84.6 252.7 86.6 252.3 88.6 251.8 90.5 251.4 92.5 246.1 91.4 246.6 89.5 247.0 87.5 247.3 85.5 247.7 83.5 248.1 81.6 248.5 79.6 248.8 77.6 249.1 75.7 249.5 73.7 249.8 71.7 250.1 69.8 250.4 67.8 250.7 65.8 251.0 63.8 251.4 61.9 251.7 59.9 252.0 57.9 252.3 55.9 252.6 54.0 252.9 52.0 253.2 50.0 253.5 48.1 253.9 46.1 254.2 44.1 254.6 42.1 255.0 40.2 255.5 38.2 255.9 36.2 256.4 34.2 257.0 32.3 257.7 30.3 258.4 28.3 259.2 26.4 260.2 24.4 261.3 22.4 262.7 20.5 264.3 18.6 266.3 16.7 268.9 14.8 272.2 12.9 276.7 11.1 282.8 9.4 291.3 7.8 303.1 6.5 318.7 5.6 337.2 5.3 355.7 5.6 371.3 6.5 383.1 7.8 391.6 9.4 397.7 11.1 402.2 12.9 405.5 14.8 408.1 16.7 410.1 18.6 411.7 20.5 413.1 22.4 414.2 24.4 415.2 26.4 416.0 28.3 416.7 30.3 417.4 32.3 418.0 34.2 418.5 36.2 418.9 38.2 419.4 40.2 419.8 42.1 420.2 44.1 420.5 46.1 420.9 48.1 421.2 50.0 421.5 52.0 421.8 54.0 422.1 55.9 422.4 57.9 422.7 59.9 423.0 61.9 423.4 63.8 423.7 65.8 424.0 67.8 424.3 69.8 424.6 71.7 424.9 73.7 425.3 75.7 425.6 77.6 425.9 79.6 426.3 81.6 426.7 83.5 427.1 85.5 427.4 87.5 427.8 89.5Z"/><path d="M251.8 90.5 251.4 92.5 251.0 94.5 250.6 96.5 250.1 98.5 249.7 100.5 249.2 102.5 248.7 104.5 248.3 106.5 247.8 108.5 247.3 110.5 246.7 112.5 246.2 114.5 245.7 116.4 245.1 118.4 244.5 120.4 243.9 122.4 243.3 124.4 242.7 126.4 242.0 128.3 241.3 130.3 240.6 132.3 239.9 134.3 239.2 136.3 238.4 138.2 237.5 140.2 236.6 142.2 235.7 144.1 234.7 146.1 233.7 148.1 232.6 150.0 231.3 152.0 230.0 153.9 228.5 155.9 226.8 157.8 225.0 159.7 222.8 161.6 220.2 163.5 217.1 165.4 213.2 167.2 208.1 169.0 201.5 170.7 192.4 172.2 180.1 173.5 164.1 174.4 145.2 174.7 126.3 174.4 110.3 173.5 98.0 172.2 88.9 170.7 82.3 169.0 77.2 167.2 73.3 165.4 70.2 163.5 67.6 161.6 65.4 159.7 63.6 157.8 61.9 155.9 60.4 153.9 59.1 152.0 57.8 150.0 56.7 148.1 55.7 146.1 54.7 144.1 53.8 142.2 52.9 140.2 52.0 138.2 51.2 136.3 50.5 134.3 49.8 132.3 49.1 130.3 48.4 128.3 47.7 126.4 47.1 124.4 46.5 122.4 45.9 120.4 45.3 118.4 44.7 116.4 44.2 114.5 43.7 112.5 43.1 110.5 42.6 108.5 42.1 106.5 41.7 104.5 41.2 102.5 40.7 100.5 40.3 98.5 39.8 96.5 39.4 94.5 39.0 92.5 38.6 90.5 38.1 88.6 43.4 87.5 43.8 89.5 44.3 91.4 44.7 93.4 45.1 95.4 45.6 97.3 46.1 99.3 46.6 101.3 47.1 103.2 47.6 105.2 48.1 107.2 48.7 109.1 49.3 111.1 49.9 113.1 50.5 115.0 51.2 117.0 51.9 118.9 52.6 120.9 53.3 122.9 54.1 124.8 54.9 126.8 55.7 128.7 56.6 130.7 57.6 132.6 58.6 134.6 59.6 136.5 60.7 138.5 61.9 140.4 63.2 142.3 64.6 144.3 66.0 146.2 67.7 148.1 69.4 150.0 71.4 151.8 73.5 153.7 75.9 155.5 78.7 157.3 81.8 159.1 85.4 160.8 89.7 162.4 94.7 164.0 100.6 165.4 107.6 166.7 115.8 167.8 125.1 168.6 135.1 169.1 145.2 169.3 155.3 169.1 165.3 168.6 174.6 167.8 182.8 166.7 189.8 165.4 195.7 164.0 200.7 162.4 205.0 160.8 208.6 159.1 211.7 157.3 214.5 155.5 216.9 153.7 219.0 151.8 221.0 150.0 222.7 148.1 224.4 146.2 225.8 144.3 227.2 142.3 228.5 140.4 229.7 138.5 230.8 136.5 231.8 134.6 232.8 132.6 233.8 130.7 234.7 128.7 235.5 126.8 236.3 124.8 237.1 122.9 237.8 120.9 238.5 118.9 239.2 117.0 239.9 115.0 240.5 113.1 241.1 111.1 241.7 109.1 242.3 107.2 242.8 105.2 243.3 103.2 243.8 101.3 244.3 99.3 244.8 97.3 245.3 95.4 245.7 93.4 246.1 91.4 246.6 89.5Z"/><path d="M38.6 90.5 38.1 88.6 37.7 86.6 37.3 84.6 36.9 82.6 36.6 80.6 36.2 78.6 35.8 76.6 35.4 74.6 35.0 72.6 34.6 70.6 34.2 68.7 33.8 66.7 33.4 64.7 33.0 62.7 32.6 60.7 32.2 58.8 31.7 56.8 31.3 54.8 30.8 52.9 30.3 50.9 29.8 48.9 29.2 47.0 28.6 45.0 27.9 43.1 27.2 41.2 26.5 39.2 25.6 37.3 24.7 35.4 23.7 33.5 22.6 31.6 21.3 29.7 19.8 27.9 18.2 26.0 16.2 24.2 14.0 22.5 11.4 20.7 8.3 19.0 4.5 17.4 0.1 15.9 -5.3 14.5 -11.8 13.2 -19.5 12.2 -28.1 11.4 -37.4 10.9 -46.8 10.7 -56.2 10.9 -65.5 11.4 -74.1 12.2 -81.8 13.2 -88.3 14.5 -93.7 15.9 -98.1 17.4 -101.9 19.0 -105.0 20.7 -107.6 22.5 -109.8 24.2 -111.8 26.0 -113.4 27.9 -114.9 29.7 -116.2 31.6 -117.3 33.5 -118.3 35.4 -119.2 37.3 -120.1 39.2 -120.8 41.2 -121.5 43.1 -122.2 45.0 -122.8 47.0 -123.4 48.9 -123.9 50.9 -124.4 52.9 -124.9 54.8 -125.3 56.8 -125.8 58.8 -126.2 60.7 -126.6 62.7 -127.0 64.7 -127.4 66.7 -127.8 68.7 -128.2 70.6 -128.6 72.6 -129.0 74.6 -129.4 76.6 -129.8 78.6 -130.2 80.6 -130.5 82.6 -130.9 84.6 -131.3 86.6 -131.7 88.6 -132.2 90.5 -132.6 92.5 -137.9 91.4 -137.4 89.5 -137.0 87.5 -136.7 85.5 -136.3 83.5 -135.9 81.6 -135.5 79.6 -135.2 77.6 -134.9 75.7 -134.5 73.7 -134.2 71.7 -133.9 69.8 -133.6 67.8 -133.3 65.8 -133.0 63.8 -132.6 61.9 -132.3 59.9 -132.0 57.9 -131.7 55.9 -131.4 54.0 -131.1 52.0 -130.8 50.0 -130.5 48.1 -130.1 46.1 -129.8 44.1 -129.4 42.1 -129.0 40.2 -128.5 38.2 -128.1 36.2 -127.6 34.2 -127.0 32.3 -126.3 30.3 -125.6 28.3 -124.8 26.4 -123.8 24.4 -122.7 22.4 -121.3 20.5 -119.7 18.6 -117.7 16.7 -115.1 14.8 -111.8 12.9 -107.3 11.1 -101.2 9.4 -92.7 7.8 -80.9 6.5 -65.3 5.6 -46.8 5.3 -28.3 5.6 -12.7 6.5 -0.9 7.8 7.6 9.4 13.7 11.1 18.2 12.9 21.5 14.8 24.1 16.7 26.1 18.6 27.7 20.5 29.1 22.4 30.2 24.4 31.2 26.4 32.0 28.3 32.7 30.3 33.4 32.3 34.0 34.2 34.5 36.2 34.9 38.2 35.4 40.2 35.8 42.1 36.2 44.1 36.5 46.1 36.9 48.1 37.2 50.0 37.5 52.0 37.8 54.0 38.1 55.9 38.4 57.9 38.7 59.9 39.0 61.9 39.4 63.8 39.7 65.8 40.0 67.8 40.3 69.8 40.6 71.7 40.9 73.7 41.3 75.7 41.6 77.6 41.9 79.6 42.3 81.6 42.7 83.5 43.1 85.5 43.4 87.5 43.8 89.5Z"/><path d="M398.6 90.5 398.1 88.6 397.7 86.6 397.3 84.6 396.9 82.6 396.6 80.6 396.2 78.6 395.8 76.6 395.4 74.6 395.0 72.6 394.6 70.6 394.2 68.7 393.8 66.7 393.4 64.7 393.0 62.7 392.6 60.7 392.2 58.8 391.7 56.8 391.3 54.8 390.8 52.9 390.3 50.9 389.8 48.9 389.2 47.0 388.6 45.0 387.9 43.1 387.2 41.2 386.5 39.2 385.6 37.3 384.7 35.4 383.7 33.5 382.6 31.6 381.3 29.7 379.8 27.9 378.2 26.0 376.2 24.2 374.0 22.5 371.4 20.7 368.3 19.0 364.5 17.4 360.1 15.9 354.7 14.5 348.2 13.2 340.5 12.2 331.9 11.4 322.6 10.9 313.2 10.7 303.8 10.9 294.5 11.4 285.9 12.2 278.2 13.2 271.7 14.5 266.3 15.9 261.9 17.4 258.1 19.0 255.0 20.7 252.4 22.5 250.2 24.2 248.2 26.0 246.6 27.9 245.1 29.7 243.8 31.6 242.7 33.5 241.7 35.4 240.8 37.3 239.9 39.2 239.2 41.2 238.5 43.1 237.8 45.0 237.2 47.0 236.6 48.9 236.1 50.9 235.6 52.9 235.1 54.8 234.7 56.8 234.2 58.8 233.8 60.7 233.4 62.7 233.0 64.7 232.6 66.7 232.2 68.7 231.8 70.6 231.4 72.6 231.0 74.6 230.6 76.6 230.2 78.6 229.8 80.6 229.5 82.6 229.1 84.6 228.7 86.6 228.3 88.6 227.8 90.5 227.4 92.5 222.1 91.4 222.6 89.5 223.0 87.5 223.3 85.5 223.7 83.5 224.1 81.6 224.5 79.6 224.8 77.6 225.1 75.7 225.5 73.7 225.8 71.7 226.1 69.8 226.4 67.8 226.7 65.8 227.0 63.8 227.4 61.9 227.7 59.9 228.0 57.9 228.3 55.9 228.6 54.0 228.9 52.0 229.2 50.0 229.5 48.1 229.9 46.1 230.2 44.1 230.6 42.1 231.0 40.2 231.5 38.2 231.9 36.2 232.4 34.2 233.0 32.3 233.7 30.3 234.4 28.3 235.2 26.4 236.2 24.4 237.3 22.4 238.7 20.5 240.3 18.6 242.3 16.7 244.9 14.8 248.2 12.9 252.7 11.1 258.8 9.4 267.3 7.8 279.1 6.5 294.7 5.6 313.2 5.3 331.7 5.6 347.3 6.5 359.1 7.8 367.6 9.4 373.7 11.1 378.2 12.9 381.5 14.8 384.1 16.7 386.1 18.6 387.7 20.5 389.1 22.4 390.2 24.4 391.2 26.4 392.0 28.3 392.7 30.3 393.4 32.3 394.0 34.2 394.5 36.2 394.9 38.2 395.4 40.2 395.8 42.1 396.2 44.1 396.5 46.1 396.9 48.1 397.2 50.0 397.5 52.0 397.8 54.0 398.1 55.9 398.4 57.9 398.7 59.9 399.0 61.9 399.4 63.8 399.7 65.8 400.0 67.8 400.3 69.8 400.6 71.7 400.9 73.7 401.3 75.7 401.6 77.6 401.9 79.6 402.3 81.6 402.7 83.5 403.1 85.5 403.4 87.5 403.8 89.5Z"/><path d="M227.8 90.5 227.4 92.5 227.0 94.5 226.6 96.5 226.1 98.5 225.7 100.5 225.2 102.5 224.7 104.5 224.3 106.5 223.8 108.5 223.3 110.5 222.7 112.5 222.2 114.5 221.7 116.4 221.1 118.4 220.5 120.4 219.9 122.4 219.3 124.4 218.7 126.4 218.0 128.3 217.3 130.3 216.6 132.3 215.9 134.3 215.2 136.3 214.4 138.2 213.5 140.2 212.6 142.2 211.7 144.1 210.7 146.1 209.7 148.1 208.6 150.0 207.3 152.0 206.0 153.9 204.5 155.9 202.8 157.8 201.0 159.7 198.8 161.6 196.2 163.5 193.1 165.4 189.2 167.2 184.1 169.0 177.5 170.7 168.4 172.2 156.1 173.5 140.1 174.4 121.2 174.7 102.3 174.4 86.3 173.5 74.0 172.2 64.9 170.7 58.3 169.0 53.2 167.2 49.3 165.4 46.2 163.5 43.6 161.6 41.4 159.7 39.6 157.8 37.9 155.9 36.4 153.9 35.1 152.0 33.8 150.0 32.7 148.1 31.7 146.1 30.7 144.1 29.8 142.2 28.9 140.2 28.0 138.2 27.2 136.3 26.5 134.3 25.8 132.3 25.1 130.3 24.4 128.3 23.7 126.4 23.1 124.4 22.5 122.4 21.9 120.4 21.3 118.4 20.7 116.4 20.2 114.5 19.7 112.5 19.1 110.5 18.6 108.5 18.1 106.5 17.7 104.5 17.2 102.5 16.7 100.5 16.3 98.5 15.8 96.5 15.4 94.5 15.0 92.5 14.6 90.5 14.1 88.6 19.4 87.5 19.8 89.5 20.3 91.4 20.7 93.4 21.1 95.4 21.6 97.3 22.1 99.3 22.6 101.3 23.1 103.2 23.6 105.2 24.1 107.2 24.7 109.1 25.3 111.1 25.9 113.1 26.5 115.0 27.2 117.0 27.9 118.9 28.6 120.9 29.3 122.9 30.1 124.8 30.9 126.8 31.7 128.7 32.6 130.7 33.6 132.6 34.6 134.6 35.6 136.5 36.7 138.5 37.9 140.4 39.2 142.3 40.6 144.3 42.0 146.2 43.7 148.1 45.4 150.0 47.4 151.8 49.5 153.7 51.9 155.5 54.7 157.3 57.8 159.1 61.4 160.8 65.7 162.4 70.7 164.0 76.6 165.4 83.6 166.7 91.8 167.8 101.1 168.6 111.1 169.1 121.2 169.3 131.3 169.1 141.3 168.6 150.6 167.8 158.8 166.7 165.8 165.4 171.7 164.0 176.7 162.4 181.0 160.8 184.6 159.1 187.7 157.3 190.5 155.5 192.9 153.7 195.0 151.8 197.0 150.0 198.7 148.1 200.4 146.2 201.8 144.3 203.2 142.3 204.5 140.4 205.7 138.5 206.8 136.5 207.8 134.6 208.8 132.6 209.8 130.7 210.7 128.7 211.5 126.8 212.3 124.8 213.1 122.9 213.8 120.9 214.5 118.9 215.2 117.0 215.9 115.0 216.5 113.1 217.1 111.1 217.7 109.1 218.3 107.2 218.8 105.2 219.3 103.2 219.8 101.3 220.3 99.3 220.8 97.3 221.3 95.4 221.7 93.4 222.1 91.4 222.6 89.5Z"/><path d="M14.6 90.5 14.1 88.6 13.7 86.6 13.3 84.6 12.9 82.6 12.6 80.6 12.2 78.6 11.8 76.6 11.4 74.6 11.0 72.6 10.6 70.6 10.2 68.7 9.8 66.7 9.4 64.7 9.0 62.7 8.6 60.7 8.2 58.8 7.7 56.8 7.3 54.8 6.8 52.9 6.3 50.9 5.8 48.9 5.2 47.0 4.6 45.0 3.9 43.1 3.2 41.2 2.5 39.2 1.6 37.3 0.7 35.4 -0.3 33.5 -1.4 31.6 -2.7 29.7 -4.2 27.9 -5.8 26.0 -7.8 24.2 -10.0 22.5 -12.6 20.7 -15.7 19.0 -19.5 17.4 -23.9 15.9 -29.3 14.5 -35.8 13.2 -43.5 12.2 -52.1 11.4 -61.4 10.9 -70.8 10.7 -80.2 10.9 -89.5 11.4 -98.1 12.2 -105.8 13.2 -112.3 14.5 -117.7 15.9 -122.1 17.4 -125.9 19.0 -129.0 20.7 -131.6 22.5 -133.8 24.2 -135.8 26.0 -137.4 27.9 -138.9 29.7 -140.2 31.6 -141.3 33.5 -142.3 35.4 -143.2 37.3 -144.1 39.2 -144.8 41.2 -145.5 43.1 -146.2 45.0 -146.8 47.0 -147.4 48.9 -147.9 50.9 -148.4 52.9 -148.9 54.8 -149.3 56.8 -149.8 58.8 -150.2 60.7 -150.6 62.7 -151.0 64.7 -151.4 66.7 -151.8 68.7 -152.2 70.6 -152.6 72.6 -153.0 74.6 -153.4 76.6 -153.8 78.6 -154.2 80.6 -154.5 82.6 -154.9 84.6 -155.3 86.6 -155.7 88.6 -156.2 90.5 -156.6 92.5 -161.9 91.4 -161.4 89.5 -161.0 87.5 -160.7 85.5 -160.3 83.5 -159.9 81.6 -159.5 79.6 -159.2 77.6 -158.9 75.7 -158.5 73.7 -158.2 71.7 -157.9 69.8 -157.6 67.8 -157.3 65.8 -157.0 63.8 -156.6 61.9 -156.3 59.9 -156.0 57.9 -155.7 55.9 -155.4 54.0 -155.1 52.0 -154.8 50.0 -154.5 48.1 -154.1 46.1 -153.8 44.1 -153.4 42.1 -153.0 40.2 -152.5 38.2 -152.1 36.2 -151.6 34.2 -151.0 32.3 -150.3 30.3 -149.6 28.3 -148.8 26.4 -147.8 24.4 -146.7 22.4 -145.3 20.5 -143.7 18.6 -141.7 16.7 -139.1 14.8 -135.8 12.9 -131.3 11.1 -125.2 9.4 -116.7 7.8 -104.9 6.5 -89.3 5.6 -70.8 5.3 -52.3 5.6 -36.7 6.5 -24.9 7.8 -16.4 9.4 -10.3 11.1 -5.8 12.9 -2.5 14.8 0.1 16.7 2.1 18.6 3.7 20.5 5.1 22.4 6.2 24.4 7.2 26.4 8.0 28.3 8.7 30.3 9.4 32.3 10.0 34.2 10.5 36.2 10.9 38.2 11.4 40.2 11.8 42.1 12.2 44.1 12.5 46.1 12.9 48.1 13.2 50.0 13.5 52.0 13.8 54.0 14.1 55.9 14.4 57.9 14.7 59.9 15.0 61.9 15.4 63.8 15.7 65.8 16.0 67.8 16.3 69.8 16.6 71.7 16.9 73.7 17.3 75.7 17.6 77.6 17.9 79.6 18.3 81.6 18.7 83.5 19.1 85.5 19.4 87.5 19.8 89.5Z"/><path d="M374.6 90.5 374.1 88.6 373.7 86.6 373.3 84.6 372.9 82.6 372.6 80.6 372.2 78.6 371.8 76.6 371.4 74.6 371.0 72.6 370.6 70.6 370.2 68.7 369.8 66.7 369.4 64.7 369.0 62.7 368.6 60.7 368.2 58.8 367.7 56.8 367.3 54.8 366.8 52.9 366.3 50.9 365.8 48.9 365.2 47.0 364.6 45.0 363.9 43.1 363.2 41.2 362.5 39.2 361.6 37.3 360.7 35.4 359.7 33.5 358.6 31.6 357.3 29.7 355.8 27.9 354.2 26.0 352.2 24.2 350.0 22.5 347.4 20.7 344.3 19.0 340.5 17.4 336.1 15.9 330.7 14.5 324.2 13.2 316.5 12.2 307.9 11.4 298.6 10.9 289.2 10.7 279.8 10.9 270.5 11.4 261.9 12.2 254.2 13.2 247.7 14.5 242.3 15.9 237.9 17.4 234.1 19.0 231.0 20.7 228.4 22.5 226.2 24.2 224.2 26.0 222.6 27.9 221.1 29.7 219.8 31.6 218.7 33.5 217.7 35.4 216.8 37.3 215.9 39.2 215.2 41.2 214.5 43.1 213.8 45.0 213.2 47.0 212.6 48.9 212.1 50.9 211.6 52.9 211.1 54.8 210.7 56.8 210.2 58.8 209.8 60.7 209.4 62.7 209.0 64.7 208.6 66.7 208.2 68.7 207.8 70.6 207.4 72.6 207.0 74.6 206.6 76.6 206.2 78.6 205.8 80.6 205.5 82.6 205.1 84.6 204.7 86.6 204.3 88.6 203.8 90.5 203.4 92.5 198.1 91.4 198.6 89.5 199.0 87.5 199.3 85.5 199.7 83.5 200.1 81.6 200.5 79.6 200.8 77.6 201.1 75.7 201.5 73.7 201.8 71.7 202.1 69.8 202.4 67.8 202.7 65.8 203.0 63.8 203.4 61.9 203.7 59.9 204.0 57.9 204.3 55.9 204.6 54.0 204.9 52.0 205.2 50.0 205.5 48.1 205.9 46.1 206.2 44.1 206.6 42.1 207.0 40.2 207.5 38.2 207.9 36.2 208.4 34.2 209.0 32.3 209.7 30.3 210.4 28.3 211.2 26.4 212.2 24.4 213.3 22.4 214.7 20.5 216.3 18.6 218.3 16.7 220.9 14.8 224.2 12.9 228.7 11.1 234.8 9.4 243.3 7.8 255.1 6.5 270.7 5.6 289.2 5.3 307.7 5.6 323.3 6.5 335.1 7.8 343.6 9.4 349.7 11.1 354.2 12.9 357.5 14.8 360.1 16.7 362.1 18.6 363.7 20.5 365.1 22.4 366.2 24.4 367.2 26.4 368.0 28.3 368.7 30.3 369.4 32.3 370.0 34.2 370.5 36.2 370.9 38.2 371.4 40.2 371.8 42.1 372.2 44.1 372.5 46.1 372.9 48.1 373.2 50.0 373.5 52.0 373.8 54.0 374.1 55.9 374.4 57.9 374.7 59.9 375.0 61.9 375.4 63.8 375.7 65.8 376.0 67.8 376.3 69.8 376.6 71.7 376.9 73.7 377.3 75.7 377.6 77.6 377.9 79.6 378.3 81.6 378.7 83.5 379.1 85.5 379.4 87.5 379.8 89.5Z"/><path d="M203.8 90.5 203.4 92.5 203.0 94.5 202.6 96.5 202.1 98.5 201.7 100.5 201.2 102.5 200.7 104.5 200.3 106.5 199.8 108.5 199.3 110.5 198.7 112.5 198.2 114.5 197.7 116.4 197.1 118.4 196.5 120.4 195.9 122.4 195.3 124.4 194.7 126.4 194.0 128.3 193.3 130.3 192.6 132.3 191.9 134.3 191.2 136.3 190.4 138.2 189.5 140.2 188.6 142.2 187.7 144.1 186.7 146.1 185.7 148.1 184.6 150.0 183.3 152.0 182.0 153.9 180.5 155.9 178.8 157.8 177.0 159.7 174.8 161.6 172.2 163.5 169.1 165.4 165.2 167.2 160.1 169.0 153.5 170.7 144.4 172.2 132.1 173.5 116.1 174.4 97.2 174.7 78.3 174.4 62.3 173.5 50.0 172.2 40.9 170.7 34.3 169.0 29.2 167.2 25.3 165.4 22.2 163.5 19.6 161.6 17.4 159.7 15.6 157.8 13.9 155.9 12.4 153.9 11.1 152.0 9.8 150.0 8.7 148.1 7.7 146.1 6.7 144.1 5.8 142.2 4.9 140.2 4.0 138.2 3.2 136.3 2.5 134.3 1.8 132.3 1.1 130.3 0.4 128.3 -0.3 126.4 -0.9 124.4 -1.5 122.4 -2.1 120.4 -2.7 118.4 -3.3 116.4 -3.8 114.5 -4.3 112.5 -4.9 110.5 -5.4 108.5 -5.9 106.5 -6.3 104.5 -6.8 102.5 -7.3 100.5 -7.7 98.5 -8.2 96.5 -8.6 94.5 -9.0 92.5 -9.4 90.5 -9.9 88.6 -4.6 87.5 -4.2 89.5 -3.7 91.4 -3.3 93.4 -2.9 95.4 -2.4 97.3 -1.9 99.3 -1.4 101.3 -0.9 103.2 -0.4 105.2 0.1 107.2 0.7 109.1 1.3 111.1 1.9 113.1 2.5 115.0 3.2 117.0 3.9 118.9 4.6 120.9 5.3 122.9 6.1 124.8 6.9 126.8 7.7 128.7 8.6 130.7 9.6 132.6 10.6 134.6 11.6 136.5 12.7 138.5 13.9 140.4 15.2 142.3 16.6 144.3 18.0 146.2 19.7 148.1 21.4 150.0 23.4 151.8 25.5 153.7 27.9 155.5 30.7 157.3 33.8 159.1 37.4 160.8 41.7 162.4 46.7 164.0 52.6 165.4 59.6 166.7 67.8 167.8 77.1 168.6 87.1 169.1 97.2 169.3 107.3 169.1 117.3 168.6 126.6 167.8 134.8 166.7 141.8 165.4 147.7 164.0 152.7 162.4 157.0 160.8 160.6 159.1 163.7 157.3 166.5 155.5 168.9 153.7 171.0 151.8 173.0 150.0 174.7 148.1 176.4 146.2 177.8 144.3 179.2 142.3 180.5 140.4 181.7 138.5 182.8 136.5 183.8 134.6 184.8 132.6 185.8 130.7 186.7 128.7 187.5 126.8 188.3 124.8 189.1 122.9 189.8 120.9 190.5 118.9 191.2 117.0 191.9 115.0 192.5 113.1 193.1 111.1 193.7 109.1 194.3 107.2 194.8 105.2 195.3 103.2 195.8 101.3 196.3 99.3 196.8 97.3 197.3 95.4 197.7 93.4 198.1 91.4 198.6 89.5Z"/><path d="M563.8 90.5 563.4 92.5 563.0 94.5 562.6 96.5 562.1 98.5 561.7 100.5 561.2 102.5 560.7 104.5 560.3 106.5 559.8 108.5 559.3 110.5 558.7 112.5 558.2 114.5 557.7 116.4 557.1 118.4 556.5 120.4 555.9 122.4 555.3 124.4 554.7 126.4 554.0 128.3 553.3 130.3 552.6 132.3 551.9 134.3 551.2 136.3 550.4 138.2 549.5 140.2 548.6 142.2 547.7 144.1 546.7 146.1 545.7 148.1 544.6 150.0 543.3 152.0 542.0 153.9 540.5 155.9 538.8 157.8 537.0 159.7 534.8 161.6 532.2 163.5 529.1 165.4 525.2 167.2 520.1 169.0 513.5 170.7 504.4 172.2 492.1 173.5 476.1 174.4 457.2 174.7 438.3 174.4 422.3 173.5 410.0 172.2 400.9 170.7 394.3 169.0 389.2 167.2 385.3 165.4 382.2 163.5 379.6 161.6 377.4 159.7 375.6 157.8 373.9 155.9 372.4 153.9 371.1 152.0 369.8 150.0 368.7 148.1 367.7 146.1 366.7 144.1 365.8 142.2 364.9 140.2 364.0 138.2 363.2 136.3 362.5 134.3 361.8 132.3 361.1 130.3 360.4 128.3 359.7 126.4 359.1 124.4 358.5 122.4 357.9 120.4 357.3 118.4 356.7 116.4 356.2 114.5 355.7 112.5 355.1 110.5 354.6 108.5 354.1 106.5 353.7 104.5 353.2 102.5 352.7 100.5 352.3 98.5 351.8 96.5 351.4 94.5 351.0 92.5 350.6 90.5 350.1 88.6 355.4 87.5 355.8 89.5 356.3 91.4 356.7 93.4 357.1 95.4 357.6 97.3 358.1 99.3 358.6 101.3 359.1 103.2 359.6 105.2 360.1 107.2 360.7 109.1 361.3 111.1 361.9 113.1 362.5 115.0 363.2 117.0 363.9 118.9 364.6 120.9 365.3 122.9 366.1 124.8 366.9 126.8 367.7 128.7 368.6 130.7 369.6 132.6 370.6 134.6 371.6 136.5 372.7 138.5 373.9 140.4 375.2 142.3 376.6 144.3 378.0 146.2 379.7 148.1 381.4 150.0 383.4 151.8 385.5 153.7 387.9 155.5 390.7 157.3 393.8 159.1 397.4 160.8 401.7 162.4 406.7 164.0 412.6 165.4 419.6 166.7 427.8 167.8 437.1 168.6 447.1 169.1 457.2 169.3 467.3 169.1 477.3 168.6 486.6 167.8 494.8 166.7 501.8 165.4 507.7 164.0 512.7 162.4 517.0 160.8 520.6 159.1 523.7 157.3 526.5 155.5 528.9 153.7 531.0 151.8 533.0 150.0 534.7 148.1 536.4 146.2 537.8 144.3 539.2 142.3 540.5 140.4 541.7 138.5 542.8 136.5 543.8 134.6 544.8 132.6 545.8 130.7 546.7 128.7 547.5 126.8 548.3 124.8 549.1 122.9 549.8 120.9 550.5 118.9 551.2 117.0 551.9 115.0 552.5 113.1 553.1 111.1 553.7 109.1 554.3 107.2 554.8 105.2 555.3 103.2 555.8 101.3 556.3 99.3 556.8 97.3 557.3 95.4 557.7 93.4 558.1 91.4 558.6 89.5Z"/><path d="M-9.4 90.5 -9.9 88.6 -10.3 86.6 -10.7 84.6 -11.1 82.6 -11.4 80.6 -11.8 78.6 -12.2 76.6 -12.6 74.6 -13.0 72.6 -13.4 70.6 -13.8 68.7 -14.2 66.7 -14.6 64.7 -15.0 62.7 -15.4 60.7 -15.8 58.8 -16.3 56.8 -16.7 54.8 -17.2 52.9 -17.7 50.9 -18.2 48.9 -18.8 47.0 -19.4 45.0 -20.1 43.1 -20.8 41.2 -21.5 39.2 -22.4 37.3 -23.3 35.4 -24.3 33.5 -25.4 31.6 -26.7 29.7 -28.2 27.9 -29.8 26.0 -31.8 24.2 -34.0 22.5 -36.6 20.7 -39.7 19.0 -43.5 17.4 -47.9 15.9 -53.3 14.5 -59.8 13.2 -67.5 12.2 -76.1 11.4 -85.4 10.9 -94.8 10.7 -104.2 10.9 -113.5 11.4 -122.1 12.2 -129.8 13.2 -136.3 14.5 -141.7 15.9 -146.1 17.4 -149.9 19.0 -153.0 20.7 -155.6 22.5 -157.8 24.2 -159.8 26.0 -161.4 27.9 -162.9 29.7 -164.2 31.6 -165.3 33.5 -166.3 35.4 -167.2 37.3 -168.1 39.2 -168.8 41.2 -169.5 43.1 -170.2 45.0 -170.8 47.0 -171.4 48.9 -171.9 50.9 -172.4 52.9 -172.9 54.8 -173.3 56.8 -173.8 58.8 -174.2 60.7 -174.6 62.7 -175.0 64.7 -175.4 66.7 -175.8 68.7 -176.2 70.6 -176.6 72.6 -177.0 74.6 -177.4 76.6 -177.8 78.6 -178.2 80.6 -178.5 82.6 -178.9 84.6 -179.3 86.6 -179.7 88.6 -180.2 90.5 -180.6 92.5 -185.9 91.4 -185.4 89.5 -185.0 87.5 -184.7 85.5 -184.3 83.5 -183.9 81.6 -183.5 79.6 -183.2 77.6 -182.9 75.7 -182.5 73.7 -182.2 71.7 -181.9 69.8 -181.6 67.8 -181.3 65.8 -181.0 63.8 -180.6 61.9 -180.3 59.9 -180.0 57.9 -179.7 55.9 -179.4 54.0 -179.1 52.0 -178.8 50.0 -178.5 48.1 -178.1 46.1 -177.8 44.1 -177.4 42.1 -177.0 40.2 -176.5 38.2 -176.1 36.2 -175.6 34.2 -175.0 32.3 -174.3 30.3 -173.6 28.3 -172.8 26.4 -171.8 24.4 -170.7 22.4 -169.3 20.5 -167.7 18.6 -165.7 16.7 -163.1 14.8 -159.8 12.9 -155.3 11.1 -149.2 9.4 -140.7 7.8 -128.9 6.5 -113.3 5.6 -94.8 5.3 -76.3 5.6 -60.7 6.5 -48.9 7.8 -40.4 9.4 -34.3 11.1 -29.8 12.9 -26.5 14.8 -23.9 16.7 -21.9 18.6 -20.3 20.5 -18.9 22.4 -17.8 24.4 -16.8 26.4 -16.0 28.3 -15.3 30.3 -14.6 32.3 -14.0 34.2 -13.5 36.2 -13.1 38.2 -12.6 40.2 -12.2 42.1 -11.8 44.1 -11.5 46.1 -11.1 48.1 -10.8 50.0 -10.5 52.0 -10.2 54.0 -9.9 55.9 -9.6 57.9 -9.3 59.9 -9.0 61.9 -8.6 63.8 -8.3 65.8 -8.0 67.8 -7.7 69.8 -7.4 71.7 -7.1 73.7 -6.7 75.7 -6.4 77.6 -6.1 79.6 -5.7 81.6 -5.3 83.5 -4.9 85.5 -4.6 87.5 -4.2 89.5Z"/><path d="M350.6 90.5 350.1 88.6 349.7 86.6 349.3 84.6 348.9 82.6 348.6 80.6 348.2 78.6 347.8 76.6 347.4 74.6 347.0 72.6 346.6 70.6 346.2 68.7 345.8 66.7 345.4 64.7 345.0 62.7 344.6 60.7 344.2 58.8 343.7 56.8 343.3 54.8 342.8 52.9 342.3 50.9 341.8 48.9 341.2 47.0 340.6 45.0 339.9 43.1 339.2 41.2 338.5 39.2 337.6 37.3 336.7 35.4 335.7 33.5 334.6 31.6 333.3 29.7 331.8 27.9 330.2 26.0 328.2 24.2 326.0 22.5 323.4 20.7 320.3 19.0 316.5 17.4 312.1 15.9 306.7 14.5 300.2 13.2 292.5 12.2 283.9 11.4 274.6 10.9 265.2 10.7 255.8 10.9 246.5 11.4 237.9 12.2 230.2 13.2 223.7 14.5 218.3 15.9 213.9 17.4 210.1 19.0 207.0 20.7 204.4 22.5 202.2 24.2 200.2 26.0 198.6 27.9 197.1 29.7 195.8 31.6 194.7 33.5 193.7 35.4 192.8 37.3 191.9 39.2 191.2 41.2 190.5 43.1 189.8 45.0 189.2 47.0 188.6 48.9 188.1 50.9 187.6 52.9 187.1 54.8 186.7 56.8 186.2 58.8 185.8 60.7 185.4 62.7 185.0 64.7 184.6 66.7 184.2 68.7 183.8 70.6 183.4 72.6 183.0 74.6 182.6 76.6 182.2 78.6 181.8 80.6 181.5 82.6 181.1 84.6 180.7 86.6 180.3 88.6 179.8 90.5 179.4 92.5 174.1 91.4 174.6 89.5 175.0 87.5 175.3 85.5 175.7 83.5 176.1 81.6 176.5 79.6 176.8 77.6 177.1 75.7 177.5 73.7 177.8 71.7 178.1 69.8 178.4 67.8 178.7 65.8 179.0 63.8 179.4 61.9 179.7 59.9 180.0 57.9 180.3 55.9 180.6 54.0 180.9 52.0 181.2 50.0 181.5 48.1 181.9 46.1 182.2 44.1 182.6 42.1 183.0 40.2 183.5 38.2 183.9 36.2 184.4 34.2 185.0 32.3 185.7 30.3 186.4 28.3 187.2 26.4 188.2 24.4 189.3 22.4 190.7 20.5 192.3 18.6 194.3 16.7 196.9 14.8 200.2 12.9 204.7 11.1 210.8 9.4 219.3 7.8 231.1 6.5 246.7 5.6 265.2 5.3 283.7 5.6 299.3 6.5 311.1 7.8 319.6 9.4 325.7 11.1 330.2 12.9 333.5 14.8 336.1 16.7 338.1 18.6 339.7 20.5 341.1 22.4 342.2 24.4 343.2 26.4 344.0 28.3 344.7 30.3 345.4 32.3 346.0 34.2 346.5 36.2 346.9 38.2 347.4 40.2 347.8 42.1 348.2 44.1 348.5 46.1 348.9 48.1 349.2 50.0 349.5 52.0 349.8 54.0 350.1 55.9 350.4 57.9 350.7 59.9 351.0 61.9 351.4 63.8 351.7 65.8 352.0 67.8 352.3 69.8 352.6 71.7 352.9 73.7 353.3 75.7 353.6 77.6 353.9 79.6 354.3 81.6 354.7 83.5 355.1 85.5 355.4 87.5 355.8 89.5Z"/><path d="M179.8 90.5 179.4 92.5 179.0 94.5 178.6 96.5 178.1 98.5 177.7 100.5 177.2 102.5 176.7 104.5 176.3 106.5 175.8 108.5 175.3 110.5 174.7 112.5 174.2 114.5 173.7 116.4 173.1 118.4 172.5 120.4 171.9 122.4 171.3 124.4 170.7 126.4 170.0 128.3 169.3 130.3 168.6 132.3 167.9 134.3 167.2 136.3 166.4 138.2 165.5 140.2 164.6 142.2 163.7 144.1 162.7 146.1 161.7 148.1 160.6 150.0 159.3 152.0 158.0 153.9 156.5 155.9 154.8 157.8 153.0 159.7 150.8 161.6 148.2 163.5 145.1 165.4 141.2 167.2 136.1 169.0 129.5 170.7 120.4 172.2 108.1 173.5 92.1 174.4 73.2 174.7 54.3 174.4 38.3 173.5 26.0 172.2 16.9 170.7 10.3 169.0 5.2 167.2 1.3 165.4 -1.8 163.5 -4.4 161.6 -6.6 159.7 -8.4 157.8 -10.1 155.9 -11.6 153.9 -12.9 152.0 -14.2 150.0 -15.3 148.1 -16.3 146.1 -17.3 144.1 -18.2 142.2 -19.1 140.2 -20.0 138.2 -20.8 136.3 -21.5 134.3 -22.2 132.3 -22.9 130.3 -23.6 128.3 -24.3 126.4 -24.9 124.4 -25.5 122.4 -26.1 120.4 -26.7 118.4 -27.3 116.4 -27.8 114.5 -28.3 112.5 -28.9 110.5 -29.4 108.5 -29.9 106.5 -30.3 104.5 -30.8 102.5 -31.3 100.5 -31.7 98.5 -32.2 96.5 -32.6 94.5 -33.0 92.5 -33.4 90.5 -33.9 88.6 -28.6 87.5 -28.2 89.5 -27.7 91.4 -27.3 93.4 -26.9 95.4 -26.4 97.3 -25.9 99.3 -25.4 101.3 -24.9 103.2 -24.4 105.2 -23.9 107.2 -23.3 109.1 -22.7 111.1 -22.1 113.1 -21.5 115.0 -20.8 117.0 -20.1 118.9 -19.4 120.9 -18.7 122.9 -17.9 124.8 -17.1 126.8 -16.3 128.7 -15.4 130.7 -14.4 132.6 -13.4 134.6 -12.4 136.5 -11.3 138.5 -10.1 140.4 -8.8 142.3 -7.4 144.3 -6.0 146.2 -4.3 148.1 -2.6 150.0 -0.6 151.8 1.5 153.7 3.9 155.5 6.7 157.3 9.8 159.1 13.4 160.8 17.7 162.4 22.7 164.0 28.6 165.4 35.6 166.7 43.8 167.8 53.1 168.6 63.1 169.1 73.2 169.3 83.3 169.1 93.3 168.6 102.6 167.8 110.8 166.7 117.8 165.4 123.7 164.0 128.7 162.4 133.0 160.8 136.6 159.1 139.7 157.3 142.5 155.5 144.9 153.7 147.0 151.8 149.0 150.0 150.7 148.1 152.4 146.2 153.8 144.3 155.2 142.3 156.5 140.4 157.7 138.5 158.8 136.5 159.8 134.6 160.8 132.6 161.8 130.7 162.7 128.7 163.5 126.8 164.3 124.8 165.1 122.9 165.8 120.9 166.5 118.9 167.2 117.0 167.9 115.0 168.5 113.1 169.1 111.1 169.7 109.1 170.3 107.2 170.8 105.2 171.3 103.2 171.8 101.3 172.3 99.3 172.8 97.3 173.3 95.4 173.7 93.4 174.1 91.4 174.6 89.5Z"/><path d="M539.8 90.5 539.4 92.5 539.0 94.5 538.6 96.5 538.1 98.5 537.7 100.5 537.2 102.5 536.7 104.5 536.3 106.5 535.8 108.5 535.3 110.5 534.7 112.5 534.2 114.5 533.7 116.4 533.1 118.4 532.5 120.4 531.9 122.4 531.3 124.4 530.7 126.4 530.0 128.3 529.3 130.3 528.6 132.3 527.9 134.3 527.2 136.3 526.4 138.2 525.5 140.2 524.6 142.2 523.7 144.1 522.7 146.1 521.7 148.1 520.6 150.0 519.3 152.0 518.0 153.9 516.5 155.9 514.8 157.8 513.0 159.7 510.8 161.6 508.2 163.5 505.1 165.4 501.2 167.2 496.1 169.0 489.5 170.7 480.4 172.2 468.1 173.5 452.1 174.4 433.2 174.7 414.3 174.4 398.3 173.5 386.0 172.2 376.9 170.7 370.3 169.0 365.2 167.2 361.3 165.4 358.2 163.5 355.6 161.6 353.4 159.7 351.6 157.8 349.9 155.9 348.4 153.9 347.1 152.0 345.8 150.0 344.7 148.1 343.7 146.1 342.7 144.1 341.8 142.2 340.9 140.2 340.0 138.2 339.2 136.3 338.5 134.3 337.8 132.3 337.1 130.3 336.4 128.3 335.7 126.4 335.1 124.4 334.5 122.4 333.9 120.4 333.3 118.4 332.7 116.4 332.2 114.5 331.7 112.5 331.1 110.5 330.6 108.5 330.1 106.5 329.7 104.5 329.2 102.5 328.7 100.5 328.3 98.5 327.8 96.5 327.4 94.5 327.0 92.5 326.6 90.5 326.1 88.6 331.4 87.5 331.8 89.5 332.3 91.4 332.7 93.4 333.1 95.4 333.6 97.3 334.1 99.3 334.6 101.3 335.1 103.2 335.6 105.2 336.1 107.2 336.7 109.1 337.3 111.1 337.9 113.1 338.5 115.0 339.2 117.0 339.9 118.9 340.6 120.9 341.3 122.9 342.1 124.8 342.9 126.8 343.7 128.7 344.6 130.7 345.6 132.6 346.6 134.6 347.6 136.5 348.7 138.5 349.9 140.4 351.2 142.3 352.6 144.3 354.0 146.2 355.7 148.1 357.4 150.0 359.4 151.8 361.5 153.7 363.9 155.5 366.7 157.3 369.8 159.1 373.4 160.8 377.7 162.4 382.7 164.0 388.6 165.4 395.6 166.7 403.8 167.8 413.1 168.6 423.1 169.1 433.2 169.3 443.3 169.1 453.3 168.6 462.6 167.8 470.8 166.7 477.8 165.4 483.7 164.0 488.7 162.4 493.0 160.8 496.6 159.1 499.7 157.3 502.5 155.5 504.9 153.7 507.0 151.8 509.0 150.0 510.7 148.1 512.4 146.2 513.8 144.3 515.2 142.3 516.5 140.4 517.7 138.5 518.8 136.5 519.8 134.6 520.8 132.6 521.8 130.7 522.7 128.7 523.5 126.8 524.3 124.8 525.1 122.9 525.8 120.9 526.5 118.9 527.2 117.0 527.9 115.0 528.5 113.1 529.1 111.1 529.7 109.1 530.3 107.2 530.8 105.2 531.3 103.2 531.8 101.3 532.3 99.3 532.8 97.3 533.3 95.4 533.7 93.4 534.1 91.4 534.6 89.5Z"/><path d="M326.6 90.5 326.1 88.6 325.7 86.6 325.3 84.6 324.9 82.6 324.6 80.6 324.2 78.6 323.8 76.6 323.4 74.6 323.0 72.6 322.6 70.6 322.2 68.7 321.8 66.7 321.4 64.7 321.0 62.7 320.6 60.7 320.2 58.8 319.7 56.8 319.3 54.8 318.8 52.9 318.3 50.9 317.8 48.9 317.2 47.0 316.6 45.0 315.9 43.1 315.2 41.2 314.5 39.2 313.6 37.3 312.7 35.4 311.7 33.5 310.6 31.6 309.3 29.7 307.8 27.9 306.2 26.0 304.2 24.2 302.0 22.5 299.4 20.7 296.3 19.0 292.5 17.4 288.1 15.9 282.7 14.5 276.2 13.2 268.5 12.2 259.9 11.4 250.6 10.9 241.2 10.7 231.8 10.9 222.5 11.4 213.9 12.2 206.2 13.2 199.7 14.5 194.3 15.9 189.9 17.4 186.1 19.0 183.0 20.7 180.4 22.5 178.2 24.2 176.2 26.0 174.6 27.9 173.1 29.7 171.8 31.6 170.7 33.5 169.7 35.4 168.8 37.3 167.9 39.2 167.2 41.2 166.5 43.1 165.8 45.0 165.2 47.0 164.6 48.9 164.1 50.9 163.6 52.9 163.1 54.8 162.7 56.8 162.2 58.8 161.8 60.7 161.4 62.7 161.0 64.7 160.6 66.7 160.2 68.7 159.8 70.6 159.4 72.6 159.0 74.6 158.6 76.6 158.2 78.6 157.8 80.6 157.5 82.6 157.1 84.6 156.7 86.6 156.3 88.6 155.8 90.5 155.4 92.5 150.1 91.4 150.6 89.5 151.0 87.5 151.3 85.5 151.7 83.5 152.1 81.6 152.5 79.6 152.8 77.6 153.1 75.7 153.5 73.7 153.8 71.7 154.1 69.8 154.4 67.8 154.7 65.8 155.0 63.8 155.4 61.9 155.7 59.9 156.0 57.9 156.3 55.9 156.6 54.0 156.9 52.0 157.2 50.0 157.5 48.1 157.9 46.1 158.2 44.1 158.6 42.1 159.0 40.2 159.5 38.2 159.9 36.2 160.4 34.2 161.0 32.3 161.7 30.3 162.4 28.3 163.2 26.4 164.2 24.4 165.3 22.4 166.7 20.5 168.3 18.6 170.3 16.7 172.9 14.8 176.2 12.9 180.7 11.1 186.8 9.4 195.3 7.8 207.1 6.5 222.7 5.6 241.2 5.3 259.7 5.6 275.3 6.5 287.1 7.8 295.6 9.4 301.7 11.1 306.2 12.9 309.5 14.8 312.1 16.7 314.1 18.6 315.7 20.5 317.1 22.4 318.2 24.4 319.2 26.4 320.0 28.3 320.7 30.3 321.4 32.3 322.0 34.2 322.5 36.2 322.9 38.2 323.4 40.2 323.8 42.1 324.2 44.1 324.5 46.1 324.9 48.1 325.2 50.0 325.5 52.0 325.8 54.0 326.1 55.9 326.4 57.9 326.7 59.9 327.0 61.9 327.4 63.8 327.7 65.8 328.0 67.8 328.3 69.8 328.6 71.7 328.9 73.7 329.3 75.7 329.6 77.6 329.9 79.6 330.3 81.6 330.7 83.5 331.1 85.5 331.4 87.5 331.8 89.5Z"/><path d="M155.8 90.5 155.4 92.5 155.0 94.5 154.6 96.5 154.1 98.5 153.7 100.5 153.2 102.5 152.7 104.5 152.3 106.5 151.8 108.5 151.3 110.5 150.7 112.5 150.2 114.5 149.7 116.4 149.1 118.4 148.5 120.4 147.9 122.4 147.3 124.4 146.7 126.4 146.0 128.3 145.3 130.3 144.6 132.3 143.9 134.3 143.2 136.3 142.4 138.2 141.5 140.2 140.6 142.2 139.7 144.1 138.7 146.1 137.7 148.1 136.6 150.0 135.3 152.0 134.0 153.9 132.5 155.9 130.8 157.8 129.0 159.7 126.8 161.6 124.2 163.5 121.1 165.4 117.2 167.2 112.1 169.0 105.5 170.7 96.4 172.2 84.1 173.5 68.1 174.4 49.2 174.7 30.3 174.4 14.3 173.5 2.0 172.2 -7.1 170.7 -13.7 169.0 -18.8 167.2 -22.7 165.4 -25.8 163.5 -28.4 161.6 -30.6 159.7 -32.4 157.8 -34.1 155.9 -35.6 153.9 -36.9 152.0 -38.2 150.0 -39.3 148.1 -40.3 146.1 -41.3 144.1 -42.2 142.2 -43.1 140.2 -44.0 138.2 -44.8 136.3 -45.5 134.3 -46.2 132.3 -46.9 130.3 -47.6 128.3 -48.3 126.4 -48.9 124.4 -49.5 122.4 -50.1 120.4 -50.7 118.4 -51.3 116.4 -51.8 114.5 -52.3 112.5 -52.9 110.5 -53.4 108.5 -53.9 106.5 -54.3 104.5 -54.8 102.5 -55.3 100.5 -55.7 98.5 -56.2 96.5 -56.6 94.5 -57.0 92.5 -57.4 90.5 -57.9 88.6 -52.6 87.5 -52.2 89.5 -51.7 91.4 -51.3 93.4 -50.9 95.4 -50.4 97.3 -49.9 99.3 -49.4 101.3 -48.9 103.2 -48.4 105.2 -47.9 107.2 -47.3 109.1 -46.7 111.1 -46.1 113.1 -45.5 115.0 -44.8 117.0 -44.1 118.9 -43.4 120.9 -42.7 122.9 -41.9 124.8 -41.1 126.8 -40.3 128.7 -39.4 130.7 -38.4 132.6 -37.4 134.6 -36.4 136.5 -35.3 138.5 -34.1 140.4 -32.8 142.3 -31.4 144.3 -30.0 146.2 -28.3 148.1 -26.6 150.0 -24.6 151.8 -22.5 153.7 -20.1 155.5 -17.3 157.3 -14.2 159.1 -10.6 160.8 -6.3 162.4 -1.3 164.0 4.6 165.4 11.6 166.7 19.8 167.8 29.1 168.6 39.1 169.1 49.2 169.3 59.3 169.1 69.3 168.6 78.6 167.8 86.8 166.7 93.8 165.4 99.7 164.0 104.7 162.4 109.0 160.8 112.6 159.1 115.7 157.3 118.5 155.5 120.9 153.7 123.0 151.8 125.0 150.0 126.7 148.1 128.4 146.2 129.8 144.3 131.2 142.3 132.5 140.4 133.7 138.5 134.8 136.5 135.8 134.6 136.8 132.6 137.8 130.7 138.7 128.7 139.5 126.8 140.3 124.8 141.1 122.9 141.8 120.9 142.5 118.9 143.2 117.0 143.9 115.0 144.5 113.1 145.1 111.1 145.7 109.1 146.3 107.2 146.8 105.2 147.3 103.2 147.8 101.3 148.3 99.3 148.8 97.3 149.3 95.4 149.7 93.4 150.1 91.4 150.6 89.5Z"/><path d="M515.8 90.5 515.4 92.5 515.0 94.5 514.6 96.5 514.1 98.5 513.7 100.5 513.2 102.5 512.7 104.5 512.3 106.5 511.8 108.5 511.3 110.5 510.7 112.5 510.2 114.5 509.7 116.4 509.1 118.4 508.5 120.4 507.9 122.4 507.3 124.4 506.7 126.4 506.0 128.3 505.3 130.3 504.6 132.3 503.9 134.3 503.2 136.3 502.4 138.2 501.5 140.2 500.6 142.2 499.7 144.1 498.7 146.1 497.7 148.1 496.6 150.0 495.3 152.0 494.0 153.9 492.5 155.9 490.8 157.8 489.0 159.7 486.8 161.6 484.2 163.5 481.1 165.4 477.2 167.2 472.1 169.0 465.5 170.7 456.4 172.2 444.1 173.5 428.1 174.4 409.2 174.7 390.3 174.4 374.3 173.5 362.0 172.2 352.9 170.7 346.3 169.0 341.2 167.2 337.3 165.4 334.2 163.5 331.6 161.6 329.4 159.7 327.6 157.8 325.9 155.9 324.4 153.9 323.1 152.0 321.8 150.0 320.7 148.1 319.7 146.1 318.7 144.1 317.8 142.2 316.9 140.2 316.0 138.2 315.2 136.3 314.5 134.3 313.8 132.3 313.1 130.3 312.4 128.3 311.7 126.4 311.1 124.4 310.5 122.4 309.9 120.4 309.3 118.4 308.7 116.4 308.2 114.5 307.7 112.5 307.1 110.5 306.6 108.5 306.1 106.5 305.7 104.5 305.2 102.5 304.7 100.5 304.3 98.5 303.8 96.5 303.4 94.5 303.0 92.5 302.6 90.5 302.1 88.6 307.4 87.5 307.8 89.5 308.3 91.4 308.7 93.4 309.1 95.4 309.6 97.3 310.1 99.3 310.6 101.3 311.1 103.2 311.6 105.2 312.1 107.2 312.7 109.1 313.3 111.1 313.9 113.1 314.5 115.0 315.2 117.0 315.9 118.9 316.6 120.9 317.3 122.9 318.1 124.8 318.9 126.8 319.7 128.7 320.6 130.7 321.6 132.6 322.6 134.6 323.6 136.5 324.7 138.5 325.9 140.4 327.2 142.3 328.6 144.3 330.0 146.2 331.7 148.1 333.4 150.0 335.4 151.8 337.5 153.7 339.9 155.5 342.7 157.3 345.8 159.1 349.4 160.8 353.7 162.4 358.7 164.0 364.6 165.4 371.6 166.7 379.8 167.8 389.1 168.6 399.1 169.1 409.2 169.3 419.3 169.1 429.3 168.6 438.6 167.8 446.8 166.7 453.8 165.4 459.7 164.0 464.7 162.4 469.0 160.8 472.6 159.1 475.7 157.3 478.5 155.5 480.9 153.7 483.0 151.8 485.0 150.0 486.7 148.1 488.4 146.2 489.8 144.3 491.2 142.3 492.5 140.4 493.7 138.5 494.8 136.5 495.8 134.6 496.8 132.6 497.8 130.7 498.7 128.7 499.5 126.8 500.3 124.8 501.1 122.9 501.8 120.9 502.5 118.9 503.2 117.0 503.9 115.0 504.5 113.1 505.1 111.1 505.7 109.1 506.3 107.2 506.8 105.2 507.3 103.2 507.8 101.3 508.3 99.3 508.8 97.3 509.3 95.4 509.7 93.4 510.1 91.4 510.6 89.5Z"/><path d="M302.6 90.5 302.1 88.6 301.7 86.6 301.3 84.6 300.9 82.6 300.6 80.6 300.2 78.6 299.8 76.6 299.4 74.6 299.0 72.6 298.6 70.6 298.2 68.7 297.8 66.7 297.4 64.7 297.0 62.7 296.6 60.7 296.2 58.8 295.7 56.8 295.3 54.8 294.8 52.9 294.3 50.9 293.8 48.9 293.2 47.0 292.6 45.0 291.9 43.1 291.2 41.2 290.5 39.2 289.6 37.3 288.7 35.4 287.7 33.5 286.6 31.6 285.3 29.7 283.8 27.9 282.2 26.0 280.2 24.2 278.0 22.5 275.4 20.7 272.3 19.0 268.5 17.4 264.1 15.9 258.7 14.5 252.2 13.2 244.5 12.2 235.9 11.4 226.6 10.9 217.2 10.7 207.8 10.9 198.5 11.4 189.9 12.2 182.2 13.2 175.7 14.5 170.3 15.9 165.9 17.4 162.1 19.0 159.0 20.7 156.4 22.5 154.2 24.2 152.2 26.0 150.6 27.9 149.1 29.7 147.8 31.6 146.7 33.5 145.7 35.4 144.8 37.3 143.9 39.2 143.2 41.2 142.5 43.1 141.8 45.0 141.2 47.0 140.6 48.9 140.1 50.9 139.6 52.9 139.1 54.8 138.7 56.8 138.2 58.8 137.8 60.7 137.4 62.7 137.0 64.7 136.6 66.7 136.2 68.7 135.8 70.6 135.4 72.6 135.0 74.6 134.6 76.6 134.2 78.6 133.8 80.6 133.5 82.6 133.1 84.6 132.7 86.6 132.3 88.6 131.8 90.5 131.4 92.5 126.1 91.4 126.6 89.5 127.0 87.5 127.3 85.5 127.7 83.5 128.1 81.6 128.5 79.6 128.8 77.6 129.1 75.7 129.5 73.7 129.8 71.7 130.1 69.8 130.4 67.8 130.7 65.8 131.0 63.8 131.4 61.9 131.7 59.9 132.0 57.9 132.3 55.9 132.6 54.0 132.9 52.0 133.2 50.0 133.5 48.1 133.9 46.1 134.2 44.1 134.6 42.1 135.0 40.2 135.5 38.2 135.9 36.2 136.4 34.2 137.0 32.3 137.7 30.3 138.4 28.3 139.2 26.4 140.2 24.4 141.3 22.4 142.7 20.5 144.3 18.6 146.3 16.7 148.9 14.8 152.2 12.9 156.7 11.1 162.8 9.4 171.3 7.8 183.1 6.5 198.7 5.6 217.2 5.3 235.7 5.6 251.3 6.5 263.1 7.8 271.6 9.4 277.7 11.1 282.2 12.9 285.5 14.8 288.1 16.7 290.1 18.6 291.7 20.5 293.1 22.4 294.2 24.4 295.2 26.4 296.0 28.3 296.7 30.3 297.4 32.3 298.0 34.2 298.5 36.2 298.9 38.2 299.4 40.2 299.8 42.1 300.2 44.1 300.5 46.1 300.9 48.1 301.2 50.0 301.5 52.0 301.8 54.0 302.1 55.9 302.4 57.9 302.7 59.9 303.0 61.9 303.4 63.8 303.7 65.8 304.0 67.8 304.3 69.8 304.6 71.7 304.9 73.7 305.3 75.7 305.6 77.6 305.9 79.6 306.3 81.6 306.7 83.5 307.1 85.5 307.4 87.5 307.8 89.5Z"/><path d="M131.8 90.5 131.4 92.5 131.0 94.5 130.6 96.5 130.1 98.5 129.7 100.5 129.2 102.5 128.7 104.5 128.3 106.5 127.8 108.5 127.3 110.5 126.7 112.5 126.2 114.5 125.7 116.4 125.1 118.4 124.5 120.4 123.9 122.4 123.3 124.4 122.7 126.4 122.0 128.3 121.3 130.3 120.6 132.3 119.9 134.3 119.2 136.3 118.4 138.2 117.5 140.2 116.6 142.2 115.7 144.1 114.7 146.1 113.7 148.1 112.6 150.0 111.3 152.0 110.0 153.9 108.5 155.9 106.8 157.8 105.0 159.7 102.8 161.6 100.2 163.5 97.1 165.4 93.2 167.2 88.1 169.0 81.5 170.7 72.4 172.2 60.1 173.5 44.1 174.4 25.2 174.7 6.3 174.4 -9.7 173.5 -22.0 172.2 -31.1 170.7 -37.7 169.0 -42.8 167.2 -46.7 165.4 -49.8 163.5 -52.4 161.6 -54.6 159.7 -56.4 157.8 -58.1 155.9 -59.6 153.9 -60.9 152.0 -62.2 150.0 -63.3 148.1 -64.3 146.1 -65.3 144.1 -66.2 142.2 -67.1 140.2 -68.0 138.2 -68.8 136.3 -69.5 134.3 -70.2 132.3 -70.9 130.3 -71.6 128.3 -72.3 126.4 -72.9 124.4 -73.5 122.4 -74.1 120.4 -74.7 118.4 -75.3 116.4 -75.8 114.5 -76.3 112.5 -76.9 110.5 -77.4 108.5 -77.9 106.5 -78.3 104.5 -78.8 102.5 -79.3 100.5 -79.7 98.5 -80.2 96.5 -80.6 94.5 -81.0 92.5 -81.4 90.5 -81.9 88.6 -76.6 87.5 -76.2 89.5 -75.7 91.4 -75.3 93.4 -74.9 95.4 -74.4 97.3 -73.9 99.3 -73.4 101.3 -72.9 103.2 -72.4 105.2 -71.9 107.2 -71.3 109.1 -70.7 111.1 -70.1 113.1 -69.5 115.0 -68.8 117.0 -68.1 118.9 -67.4 120.9 -66.7 122.9 -65.9 124.8 -65.1 126.8 -64.3 128.7 -63.4 130.7 -62.4 132.6 -61.4 134.6 -60.4 136.5 -59.3 138.5 -58.1 140.4 -56.8 142.3 -55.4 144.3 -54.0 146.2 -52.3 148.1 -50.6 150.0 -48.6 151.8 -46.5 153.7 -44.1 155.5 -41.3 157.3 -38.2 159.1 -34.6 160.8 -30.3 162.4 -25.3 164.0 -19.4 165.4 -12.4 166.7 -4.2 167.8 5.1 168.6 15.1 169.1 25.2 169.3 35.3 169.1 45.3 168.6 54.6 167.8 62.8 166.7 69.8 165.4 75.7 164.0 80.7 162.4 85.0 160.8 88.6 159.1 91.7 157.3 94.5 155.5 96.9 153.7 99.0 151.8 101.0 150.0 102.7 148.1 104.4 146.2 105.8 144.3 107.2 142.3 108.5 140.4 109.7 138.5 110.8 136.5 111.8 134.6 112.8 132.6 113.8 130.7 114.7 128.7 115.5 126.8 116.3 124.8 117.1 122.9 117.8 120.9 118.5 118.9 119.2 117.0 119.9 115.0 120.5 113.1 121.1 111.1 121.7 109.1 122.3 107.2 122.8 105.2 123.3 103.2 123.8 101.3 124.3 99.3 124.8 97.3 125.3 95.4 125.7 93.4 126.1 91.4 126.6 89.5Z"/><path d="M491.8 90.5 491.4 92.5 491.0 94.5 490.6 96.5 490.1 98.5 489.7 100.5 489.2 102.5 488.7 104.5 488.3 106.5 487.8 108.5 487.3 110.5 486.7 112.5 486.2 114.5 485.7 116.4 485.1 118.4 484.5 120.4 483.9 122.4 483.3 124.4 482.7 126.4 482.0 128.3 481.3 130.3 480.6 132.3 479.9 134.3 479.2 136.3 478.4 138.2 477.5 140.2 476.6 142.2 475.7 144.1 474.7 146.1 473.7 148.1 472.6 150.0 471.3 152.0 470.0 153.9 468.5 155.9 466.8 157.8 465.0 159.7 462.8 161.6 460.2 163.5 457.1 165.4 453.2 167.2 448.1 169.0 441.5 170.7 432.4 172.2 420.1 173.5 404.1 174.4 385.2 174.7 366.3 174.4 350.3 173.5 338.0 172.2 328.9 170.7 322.3 169.0 317.2 167.2 313.3 165.4 310.2 163.5 307.6 161.6 305.4 159.7 303.6 157.8 301.9 155.9 300.4 153.9 299.1 152.0 297.8 150.0 296.7 148.1 295.7 146.1 294.7 144.1 293.8 142.2 292.9 140.2 292.0 138.2 291.2 136.3 290.5 134.3 289.8 132.3 289.1 130.3 288.4 128.3 287.7 126.4 287.1 124.4 286.5 122.4 285.9 120.4 285.3 118.4 284.7 116.4 284.2 114.5 283.7 112.5 283.1 110.5 282.6 108.5 282.1 106.5 281.7 104.5 281.2 102.5 280.7 100.5 280.3 98.5 279.8 96.5 279.4 94.5 279.0 92.5 278.6 90.5 278.1 88.6 283.4 87.5 283.8 89.5 284.3 91.4 284.7 93.4 285.1 95.4 285.6 97.3 286.1 99.3 286.6 101.3 287.1 103.2 287.6 105.2 288.1 107.2 288.7 109.1 289.3 111.1 289.9 113.1 290.5 115.0 291.2 117.0 291.9 118.9 292.6 120.9 293.3 122.9 294.1 124.8 294.9 126.8 295.7 128.7 296.6 130.7 297.6 132.6 298.6 134.6 299.6 136.5 300.7 138.5 301.9 140.4 303.2 142.3 304.6 144.3 306.0 146.2 307.7 148.1 309.4 150.0 311.4 151.8 313.5 153.7 315.9 155.5 318.7 157.3 321.8 159.1 325.4 160.8 329.7 162.4 334.7 164.0 340.6 165.4 347.6 166.7 355.8 167.8 365.1 168.6 375.1 169.1 385.2 169.3 395.3 169.1 405.3 168.6 414.6 167.8 422.8 166.7 429.8 165.4 435.7 164.0 440.7 162.4 445.0 160.8 448.6 159.1 451.7 157.3 454.5 155.5 456.9 153.7 459.0 151.8 461.0 150.0 462.7 148.1 464.4 146.2 465.8 144.3 467.2 142.3 468.5 140.4 469.7 138.5 470.8 136.5 471.8 134.6 472.8 132.6 473.8 130.7 474.7 128.7 475.5 126.8 476.3 124.8 477.1 122.9 477.8 120.9 478.5 118.9 479.2 117.0 479.9 115.0 480.5 113.1 481.1 111.1 481.7 109.1 482.3 107.2 482.8 105.2 483.3 103.2 483.8 101.3 484.3 99.3 484.8 97.3 485.3 95.4 485.7 93.4 486.1 91.4 486.6 89.5Z"/><path d="M278.6 90.5 278.1 88.6 277.7 86.6 277.3 84.6 276.9 82.6 276.6 80.6 276.2 78.6 275.8 76.6 275.4 74.6 275.0 72.6 274.6 70.6 274.2 68.7 273.8 66.7 273.4 64.7 273.0 62.7 272.6 60.7 272.2 58.8 271.7 56.8 271.3 54.8 270.8 52.9 270.3 50.9 269.8 48.9 269.2 47.0 268.6 45.0 267.9 43.1 267.2 41.2 266.5 39.2 265.6 37.3 264.7 35.4 263.7 33.5 262.6 31.6 261.3 29.7 259.8 27.9 258.2 26.0 256.2 24.2 254.0 22.5 251.4 20.7 248.3 19.0 244.5 17.4 240.1 15.9 234.7 14.5 228.2 13.2 220.5 12.2 211.9 11.4 202.6 10.9 193.2 10.7 183.8 10.9 174.5 11.4 165.9 12.2 158.2 13.2 151.7 14.5 146.3 15.9 141.9 17.4 138.1 19.0 135.0 20.7 132.4 22.5 130.2 24.2 128.2 26.0 126.6 27.9 125.1 29.7 123.8 31.6 122.7 33.5 121.7 35.4 120.8 37.3 119.9 39.2 119.2 41.2 118.5 43.1 117.8 45.0 117.2 47.0 116.6 48.9 116.1 50.9 115.6 52.9 115.1 54.8 114.7 56.8 114.2 58.8 113.8 60.7 113.4 62.7 113.0 64.7 112.6 66.7 112.2 68.7 111.8 70.6 111.4 72.6 111.0 74.6 110.6 76.6 110.2 78.6 109.8 80.6 109.5 82.6 109.1 84.6 108.7 86.6 108.3 88.6 107.8 90.5 107.4 92.5 102.1 91.4 102.6 89.5 103.0 87.5 103.3 85.5 103.7 83.5 104.1 81.6 104.5 79.6 104.8 77.6 105.1 75.7 105.5 73.7 105.8 71.7 106.1 69.8 106.4 67.8 106.7 65.8 107.0 63.8 107.4 61.9 107.7 59.9 108.0 57.9 108.3 55.9 108.6 54.0 108.9 52.0 109.2 50.0 109.5 48.1 109.9 46.1 110.2 44.1 110.6 42.1 111.0 40.2 111.5 38.2 111.9 36.2 112.4 34.2 113.0 32.3 113.7 30.3 114.4 28.3 115.2 26.4 116.2 24.4 117.3 22.4 118.7 20.5 120.3 18.6 122.3 16.7 124.9 14.8 128.2 12.9 132.7 11.1 138.8 9.4 147.3 7.8 159.1 6.5 174.7 5.6 193.2 5.3 211.7 5.6 227.3 6.5 239.1 7.8 247.6 9.4 253.7 11.1 258.2 12.9 261.5 14.8 264.1 16.7 266.1 18.6 267.7 20.5 269.1 22.4 270.2 24.4 271.2 26.4 272.0 28.3 272.7 30.3 273.4 32.3 274.0 34.2 274.5 36.2 274.9 38.2 275.4 40.2 275.8 42.1 276.2 44.1 276.5 46.1 276.9 48.1 277.2 50.0 277.5 52.0 277.8 54.0 278.1 55.9 278.4 57.9 278.7 59.9 279.0 61.9 279.4 63.8 279.7 65.8 280.0 67.8 280.3 69.8 280.6 71.7 280.9 73.7 281.3 75.7 281.6 77.6 281.9 79.6 282.3 81.6 282.7 83.5 283.1 85.5 283.4 87.5 283.8 89.5Z"/><path d="M107.8 90.5 107.4 92.5 107.0 94.5 106.6 96.5 106.1 98.5 105.7 100.5 105.2 102.5 104.7 104.5 104.3 106.5 103.8 108.5 103.3 110.5 102.7 112.5 102.2 114.5 101.7 116.4 101.1 118.4 100.5 120.4 99.9 122.4 99.3 124.4 98.7 126.4 98.0 128.3 97.3 130.3 96.6 132.3 95.9 134.3 95.2 136.3 94.4 138.2 93.5 140.2 92.6 142.2 91.7 144.1 90.7 146.1 89.7 148.1 88.6 150.0 87.3 152.0 86.0 153.9 84.5 155.9 82.8 157.8 81.0 159.7 78.8 161.6 76.2 163.5 73.1 165.4 69.2 167.2 64.1 169.0 57.5 170.7 48.4 172.2 36.1 173.5 20.1 174.4 1.2 174.7 -17.7 174.4 -33.7 173.5 -46.0 172.2 -55.1 170.7 -61.7 169.0 -66.8 167.2 -70.7 165.4 -73.8 163.5 -76.4 161.6 -78.6 159.7 -80.4 157.8 -82.1 155.9 -83.6 153.9 -84.9 152.0 -86.2 150.0 -87.3 148.1 -88.3 146.1 -89.3 144.1 -90.2 142.2 -91.1 140.2 -92.0 138.2 -92.8 136.3 -93.5 134.3 -94.2 132.3 -94.9 130.3 -95.6 128.3 -96.3 126.4 -96.9 124.4 -97.5 122.4 -98.1 120.4 -98.7 118.4 -99.3 116.4 -99.8 114.5 -100.3 112.5 -100.9 110.5 -101.4 108.5 -101.9 106.5 -102.3 104.5 -102.8 102.5 -103.3 100.5 -103.7 98.5 -104.2 96.5 -104.6 94.5 -105.0 92.5 -105.4 90.5 -105.9 88.6 -100.6 87.5 -100.2 89.5 -99.7 91.4 -99.3 93.4 -98.9 95.4 -98.4 97.3 -97.9 99.3 -97.4 101.3 -96.9 103.2 -96.4 105.2 -95.9 107.2 -95.3 109.1 -94.7 111.1 -94.1 113.1 -93.5 115.0 -92.8 117.0 -92.1 118.9 -91.4 120.9 -90.7 122.9 -89.9 124.8 -89.1 126.8 -88.3 128.7 -87.4 130.7 -86.4 132.6 -85.4 134.6 -84.4 136.5 -83.3 138.5 -82.1 140.4 -80.8 142.3 -79.4 144.3 -78.0 146.2 -76.3 148.1 -74.6 150.0 -72.6 151.8 -70.5 153.7 -68.1 155.5 -65.3 157.3 -62.2 159.1 -58.6 160.8 -54.3 162.4 -49.3 164.0 -43.4 165.4 -36.4 166.7 -28.2 167.8 -18.9 168.6 -8.9 169.1 1.2 169.3 11.3 169.1 21.3 168.6 30.6 167.8 38.8 166.7 45.8 165.4 51.7 164.0 56.7 162.4 61.0 160.8 64.6 159.1 67.7 157.3 70.5 155.5 72.9 153.7 75.0 151.8 77.0 150.0 78.7 148.1 80.4 146.2 81.8 144.3 83.2 142.3 84.5 140.4 85.7 138.5 86.8 136.5 87.8 134.6 88.8 132.6 89.8 130.7 90.7 128.7 91.5 126.8 92.3 124.8 93.1 122.9 93.8 120.9 94.5 118.9 95.2 117.0 95.9 115.0 96.5 113.1 97.1 111.1 97.7 109.1 98.3 107.2 98.8 105.2 99.3 103.2 99.8 101.3 100.3 99.3 100.8 97.3 101.3 95.4 101.7 93.4 102.1 91.4 102.6 89.5Z"/><path d="M467.8 90.5 467.4 92.5 467.0 94.5 466.6 96.5 466.1 98.5 465.7 100.5 465.2 102.5 464.7 104.5 464.3 106.5 463.8 108.5 463.3 110.5 462.7 112.5 462.2 114.5 461.7 116.4 461.1 118.4 460.5 120.4 459.9 122.4 459.3 124.4 458.7 126.4 458.0 128.3 457.3 130.3 456.6 132.3 455.9 134.3 455.2 136.3 454.4 138.2 453.5 140.2 452.6 142.2 451.7 144.1 450.7 146.1 449.7 148.1 448.6 150.0 447.3 152.0 446.0 153.9 444.5 155.9 442.8 157.8 441.0 159.7 438.8 161.6 436.2 163.5 433.1 165.4 429.2 167.2 424.1 169.0 417.5 170.7 408.4 172.2 396.1 173.5 380.1 174.4 361.2 174.7 342.3 174.4 326.3 173.5 314.0 172.2 304.9 170.7 298.3 169.0 293.2 167.2 289.3 165.4 286.2 163.5 283.6 161.6 281.4 159.7 279.6 157.8 277.9 155.9 276.4 153.9 275.1 152.0 273.8 150.0 272.7 148.1 271.7 146.1 270.7 144.1 269.8 142.2 268.9 140.2 268.0 138.2 267.2 136.3 266.5 134.3 265.8 132.3 265.1 130.3 264.4 128.3 263.7 126.4 263.1 124.4 262.5 122.4 261.9 120.4 261.3 118.4 260.7 116.4 260.2 114.5 259.7 112.5 259.1 110.5 258.6 108.5 258.1 106.5 257.7 104.5 257.2 102.5 256.7 100.5 256.3 98.5 255.8 96.5 255.4 94.5 255.0 92.5 254.6 90.5 254.1 88.6 259.4 87.5 259.8 89.5 260.3 91.4 260.7 93.4 261.1 95.4 261.6 97.3 262.1 99.3 262.6 101.3 263.1 103.2 263.6 105.2 264.1 107.2 264.7 109.1 265.3 111.1 265.9 113.1 266.5 115.0 267.2 117.0 267.9 118.9 268.6 120.9 269.3 122.9 270.1 124.8 270.9 126.8 271.7 128.7 272.6 130.7 273.6 132.6 274.6 134.6 275.6 136.5 276.7 138.5 277.9 140.4 279.2 142.3 280.6 144.3 282.0 146.2 283.7 148.1 285.4 150.0 287.4 151.8 289.5 153.7 291.9 155.5 294.7 157.3 297.8 159.1 301.4 160.8 305.7 162.4 310.7 164.0 316.6 165.4 323.6 166.7 331.8 167.8 341.1 168.6 351.1 169.1 361.2 169.3 371.3 169.1 381.3 168.6 390.6 167.8 398.8 166.7 405.8 165.4 411.7 164.0 416.7 162.4 421.0 160.8 424.6 159.1 427.7 157.3 430.5 155.5 432.9 153.7 435.0 151.8 437.0 150.0 438.7 148.1 440.4 146.2 441.8 144.3 443.2 142.3 444.5 140.4 445.7 138.5 446.8 136.5 447.8 134.6 448.8 132.6 449.8 130.7 450.7 128.7 451.5 126.8 452.3 124.8 453.1 122.9 453.8 120.9 454.5 118.9 455.2 117.0 455.9 115.0 456.5 113.1 457.1 111.1 457.7 109.1 458.3 107.2 458.8 105.2 459.3 103.2 459.8 101.3 460.3 99.3 460.8 97.3 461.3 95.4 461.7 93.4 462.1 91.4 462.6 89.5Z"/><path d="M254.6 90.5 254.1 88.6 253.7 86.6 253.3 84.6 252.9 82.6 252.6 80.6 252.2 78.6 251.8 76.6 251.4 74.6 251.0 72.6 250.6 70.6 250.2 68.7 249.8 66.7 249.4 64.7 249.0 62.7 248.6 60.7 248.2 58.8 247.7 56.8 247.3 54.8 246.8 52.9 246.3 50.9 245.8 48.9 245.2 47.0 244.6 45.0 243.9 43.1 243.2 41.2 242.5 39.2 241.6 37.3 240.7 35.4 239.7 33.5 238.6 31.6 237.3 29.7 235.8 27.9 234.2 26.0 232.2 24.2 230.0 22.5 227.4 20.7 224.3 19.0 220.5 17.4 216.1 15.9 210.7 14.5 204.2 13.2 196.5 12.2 187.9 11.4 178.6 10.9 169.2 10.7 159.8 10.9 150.5 11.4 141.9 12.2 134.2 13.2 127.7 14.5 122.3 15.9 117.9 17.4 114.1 19.0 111.0 20.7 108.4 22.5 106.2 24.2 104.2 26.0 102.6 27.9 101.1 29.7 99.8 31.6 98.7 33.5 97.7 35.4 96.8 37.3 95.9 39.2 95.2 41.2 94.5 43.1 93.8 45.0 93.2 47.0 92.6 48.9 92.1 50.9 91.6 52.9 91.1 54.8 90.7 56.8 90.2 58.8 89.8 60.7 89.4 62.7 89.0 64.7 88.6 66.7 88.2 68.7 87.8 70.6 87.4 72.6 87.0 74.6 86.6 76.6 86.2 78.6 85.8 80.6 85.5 82.6 85.1 84.6 84.7 86.6 84.3 88.6 83.8 90.5 83.4 92.5 78.1 91.4 78.6 89.5 79.0 87.5 79.3 85.5 79.7 83.5 80.1 81.6 80.5 79.6 80.8 77.6 81.1 75.7 81.5 73.7 81.8 71.7 82.1 69.8 82.4 67.8 82.7 65.8 83.0 63.8 83.4 61.9 83.7 59.9 84.0 57.9 84.3 55.9 84.6 54.0 84.9 52.0 85.2 50.0 85.5 48.1 85.9 46.1 86.2 44.1 86.6 42.1 87.0 40.2 87.5 38.2 87.9 36.2 88.4 34.2 89.0 32.3 89.7 30.3 90.4 28.3 91.2 26.4 92.2 24.4 93.3 22.4 94.7 20.5 96.3 18.6 98.3 16.7 100.9 14.8 104.2 12.9 108.7 11.1 114.8 9.4 123.3 7.8 135.1 6.5 150.7 5.6 169.2 5.3 187.7 5.6 203.3 6.5 215.1 7.8 223.6 9.4 229.7 11.1 234.2 12.9 237.5 14.8 240.1 16.7 242.1 18.6 243.7 20.5 245.1 22.4 246.2 24.4 247.2 26.4 248.0 28.3 248.7 30.3 249.4 32.3 250.0 34.2 250.5 36.2 250.9 38.2 251.4 40.2 251.8 42.1 252.2 44.1 252.5 46.1 252.9 48.1 253.2 50.0 253.5 52.0 253.8 54.0 254.1 55.9 254.4 57.9 254.7 59.9 255.0 61.9 255.4 63.8 255.7 65.8 256.0 67.8 256.3 69.8 256.6 71.7 256.9 73.7 257.3 75.7 257.6 77.6 257.9 79.6 258.3 81.6 258.7 83.5 259.1 85.5 259.4 87.5 259.8 89.5Z"/><path d="M83.8 90.5 83.4 92.5 83.0 94.5 82.6 96.5 82.1 98.5 81.7 100.5 81.2 102.5 80.7 104.5 80.3 106.5 79.8 108.5 79.3 110.5 78.7 112.5 78.2 114.5 77.7 116.4 77.1 118.4 76.5 120.4 75.9 122.4 75.3 124.4 74.7 126.4 74.0 128.3 73.3 130.3 72.6 132.3 71.9 134.3 71.2 136.3 70.4 138.2 69.5 140.2 68.6 142.2 67.7 144.1 66.7 146.1 65.7 148.1 64.6 150.0 63.3 152.0 62.0 153.9 60.5 155.9 58.8 157.8 57.0 159.7 54.8 161.6 52.2 163.5 49.1 165.4 45.2 167.2 40.1 169.0 33.5 170.7 24.4 172.2 12.1 173.5 -3.9 174.4 -22.8 174.7 -41.7 174.4 -57.7 173.5 -70.0 172.2 -79.1 170.7 -85.7 169.0 -90.8 167.2 -94.7 165.4 -97.8 163.5 -100.4 161.6 -102.6 159.7 -104.4 157.8 -106.1 155.9 -107.6 153.9 -108.9 152.0 -110.2 150.0 -111.3 148.1 -112.3 146.1 -113.3 144.1 -114.2 142.2 -115.1 140.2 -116.0 138.2 -116.8 136.3 -117.5 134.3 -118.2 132.3 -118.9 130.3 -119.6 128.3 -120.3 126.4 -120.9 124.4 -121.5 122.4 -122.1 120.4 -122.7 118.4 -123.3 116.4 -123.8 114.5 -124.3 112.5 -124.9 110.5 -125.4 108.5 -125.9 106.5 -126.3 104.5 -126.8 102.5 -127.3 100.5 -127.7 98.5 -128.2 96.5 -128.6 94.5 -129.0 92.5 -129.4 90.5 -129.9 88.6 -124.6 87.5 -124.2 89.5 -123.7 91.4 -123.3 93.4 -122.9 95.4 -122.4 97.3 -121.9 99.3 -121.4 101.3 -120.9 103.2 -120.4 105.2 -119.9 107.2 -119.3 109.1 -118.7 111.1 -118.1 113.1 -117.5 115.0 -116.8 117.0 -116.1 118.9 -115.4 120.9 -114.7 122.9 -113.9 124.8 -113.1 126.8 -112.3 128.7 -111.4 130.7 -110.4 132.6 -109.4 134.6 -108.4 136.5 -107.3 138.5 -106.1 140.4 -104.8 142.3 -103.4 144.3 -102.0 146.2 -100.3 148.1 -98.6 150.0 -96.6 151.8 -94.5 153.7 -92.1 155.5 -89.3 157.3 -86.2 159.1 -82.6 160.8 -78.3 162.4 -73.3 164.0 -67.4 165.4 -60.4 166.7 -52.2 167.8 -42.9 168.6 -32.9 169.1 -22.8 169.3 -12.7 169.1 -2.7 168.6 6.6 167.8 14.8 166.7 21.8 165.4 27.7 164.0 32.7 162.4 37.0 160.8 40.6 159.1 43.7 157.3 46.5 155.5 48.9 153.7 51.0 151.8 53.0 150.0 54.7 148.1 56.4 146.2 57.8 144.3 59.2 142.3 60.5 140.4 61.7 138.5 62.8 136.5 63.8 134.6 64.8 132.6 65.8 130.7 66.7 128.7 67.5 126.8 68.3 124.8 69.1 122.9 69.8 120.9 70.5 118.9 71.2 117.0 71.9 115.0 72.5 113.1 73.1 111.1 73.7 109.1 74.3 107.2 74.8 105.2 75.3 103.2 75.8 101.3 76.3 99.3 76.8 97.3 77.3 95.4 77.7 93.4 78.1 91.4 78.6 89.5Z"/><path d="M443.8 90.5 443.4 92.5 443.0 94.5 442.6 96.5 442.1 98.5 441.7 100.5 441.2 102.5 440.7 104.5 440.3 106.5 439.8 108.5 439.3 110.5 438.7 112.5 438.2 114.5 437.7 116.4 437.1 118.4 436.5 120.4 435.9 122.4 435.3 124.4 434.7 126.4 434.0 128.3 433.3 130.3 432.6 132.3 431.9 134.3 431.2 136.3 430.4 138.2 429.5 140.2 428.6 142.2 427.7 144.1 426.7 146.1 425.7 148.1 424.6 150.0 423.3 152.0 422.0 153.9 420.5 155.9 418.8 157.8 417.0 159.7 414.8 161.6 412.2 163.5 409.1 165.4 405.2 167.2 400.1 169.0 393.5 170.7 384.4 172.2 372.1 173.5 356.1 174.4 337.2 174.7 318.3 174.4 302.3 173.5 290.0 172.2 280.9 170.7 274.3 169.0 269.2 167.2 265.3 165.4 262.2 163.5 259.6 161.6 257.4 159.7 255.6 157.8 253.9 155.9 252.4 153.9 251.1 152.0 249.8 150.0 248.7 148.1 247.7 146.1 246.7 144.1 245.8 142.2 244.9 140.2 244.0 138.2 243.2 136.3 242.5 134.3 241.8 132.3 241.1 130.3 240.4 128.3 239.7 126.4 239.1 124.4 238.5 122.4 237.9 120.4 237.3 118.4 236.7 116.4 236.2 114.5 235.7 112.5 235.1 110.5 234.6 108.5 234.1 106.5 233.7 104.5 233.2 102.5 232.7 100.5 232.3 98.5 231.8 96.5 231.4 94.5 231.0 92.5 230.6 90.5 230.1 88.6 235.4 87.5 235.8 89.5 236.3 91.4 236.7 93.4 237.1 95.4 237.6 97.3 238.1 99.3 238.6 101.3 239.1 103.2 239.6 105.2 240.1 107.2 240.7 109.1 241.3 111.1 241.9 113.1 242.5 115.0 243.2 117.0 243.9 118.9 244.6 120.9 245.3 122.9 246.1 124.8 246.9 126.8 247.7 128.7 248.6 130.7 249.6 132.6 250.6 134.6 251.6 136.5 252.7 138.5 253.9 140.4 255.2 142.3 256.6 144.3 258.0 146.2 259.7 148.1 261.4 150.0 263.4 151.8 265.5 153.7 267.9 155.5 270.7 157.3 273.8 159.1 277.4 160.8 281.7 162.4 286.7 164.0 292.6 165.4 299.6 166.7 307.8 167.8 317.1 168.6 327.1 169.1 337.2 169.3 347.3 169.1 357.3 168.6 366.6 167.8 374.8 166.7 381.8 165.4 387.7 164.0 392.7 162.4 397.0 160.8 400.6 159.1 403.7 157.3 406.5 155.5 408.9 153.7 411.0 151.8 413.0 150.0 414.7 148.1 416.4 146.2 417.8 144.3 419.2 142.3 420.5 140.4 421.7 138.5 422.8 136.5 423.8 134.6 424.8 132.6 425.8 130.7 426.7 128.7 427.5 126.8 428.3 124.8 429.1 122.9 429.8 120.9 430.5 118.9 431.2 117.0 431.9 115.0 432.5 113.1 433.1 111.1 433.7 109.1 434.3 107.2 434.8 105.2 435.3 103.2 435.8 101.3 436.3 99.3 436.8 97.3 437.3 95.4 437.7 93.4 438.1 91.4 438.6 89.5Z"/><path d="M230.6 90.5 230.1 88.6 229.7 86.6 229.3 84.6 228.9 82.6 228.6 80.6 228.2 78.6 227.8 76.6 227.4 74.6 227.0 72.6 226.6 70.6 226.2 68.7 225.8 66.7 225.4 64.7 225.0 62.7 224.6 60.7 224.2 58.8 223.7 56.8 223.3 54.8 222.8 52.9 222.3 50.9 221.8 48.9 221.2 47.0 220.6 45.0 219.9 43.1 219.2 41.2 218.5 39.2 217.6 37.3 216.7 35.4 215.7 33.5 214.6 31.6 213.3 29.7 211.8 27.9 210.2 26.0 208.2 24.2 206.0 22.5 203.4 20.7 200.3 19.0 196.5 17.4 192.1 15.9 186.7 14.5 180.2 13.2 172.5 12.2 163.9 11.4 154.6 10.9 145.2 10.7 135.8 10.9 126.5 11.4 117.9 12.2 110.2 13.2 103.7 14.5 98.3 15.9 93.9 17.4 90.1 19.0 87.0 20.7 84.4 22.5 82.2 24.2 80.2 26.0 78.6 27.9 77.1 29.7 75.8 31.6 74.7 33.5 73.7 35.4 72.8 37.3 71.9 39.2 71.2 41.2 70.5 43.1 69.8 45.0 69.2 47.0 68.6 48.9 68.1 50.9 67.6 52.9 67.1 54.8 66.7 56.8 66.2 58.8 65.8 60.7 65.4 62.7 65.0 64.7 64.6 66.7 64.2 68.7 63.8 70.6 63.4 72.6 63.0 74.6 62.6 76.6 62.2 78.6 61.8 80.6 61.5 82.6 61.1 84.6 60.7 86.6 60.3 88.6 59.8 90.5 59.4 92.5 54.1 91.4 54.6 89.5 55.0 87.5 55.3 85.5 55.7 83.5 56.1 81.6 56.5 79.6 56.8 77.6 57.1 75.7 57.5 73.7 57.8 71.7 58.1 69.8 58.4 67.8 58.7 65.8 59.0 63.8 59.4 61.9 59.7 59.9 60.0 57.9 60.3 55.9 60.6 54.0 60.9 52.0 61.2 50.0 61.5 48.1 61.9 46.1 62.2 44.1 62.6 42.1 63.0 40.2 63.5 38.2 63.9 36.2 64.4 34.2 65.0 32.3 65.7 30.3 66.4 28.3 67.2 26.4 68.2 24.4 69.3 22.4 70.7 20.5 72.3 18.6 74.3 16.7 76.9 14.8 80.2 12.9 84.7 11.1 90.8 9.4 99.3 7.8 111.1 6.5 126.7 5.6 145.2 5.3 163.7 5.6 179.3 6.5 191.1 7.8 199.6 9.4 205.7 11.1 210.2 12.9 213.5 14.8 216.1 16.7 218.1 18.6 219.7 20.5 221.1 22.4 222.2 24.4 223.2 26.4 224.0 28.3 224.7 30.3 225.4 32.3 226.0 34.2 226.5 36.2 226.9 38.2 227.4 40.2 227.8 42.1 228.2 44.1 228.5 46.1 228.9 48.1 229.2 50.0 229.5 52.0 229.8 54.0 230.1 55.9 230.4 57.9 230.7 59.9 231.0 61.9 231.4 63.8 231.7 65.8 232.0 67.8 232.3 69.8 232.6 71.7 232.9 73.7 233.3 75.7 233.6 77.6 233.9 79.6 234.3 81.6 234.7 83.5 235.1 85.5 235.4 87.5 235.8 89.5Z"/><path d="M59.8 90.5 59.4 92.5 59.0 94.5 58.6 96.5 58.1 98.5 57.7 100.5 57.2 102.5 56.7 104.5 56.3 106.5 55.8 108.5 55.3 110.5 54.7 112.5 54.2 114.5 53.7 116.4 53.1 118.4 52.5 120.4 51.9 122.4 51.3 124.4 50.7 126.4 50.0 128.3 49.3 130.3 48.6 132.3 47.9 134.3 47.2 136.3 46.4 138.2 45.5 140.2 44.6 142.2 43.7 144.1 42.7 146.1 41.7 148.1 40.6 150.0 39.3 152.0 38.0 153.9 36.5 155.9 34.8 157.8 33.0 159.7 30.8 161.6 28.2 163.5 25.1 165.4 21.2 167.2 16.1 169.0 9.5 170.7 0.4 172.2 -11.9 173.5 -27.9 174.4 -46.8 174.7 -65.7 174.4 -81.7 173.5 -94.0 172.2 -103.1 170.7 -109.7 169.0 -114.8 167.2 -118.7 165.4 -121.8 163.5 -124.4 161.6 -126.6 159.7 -128.4 157.8 -130.1 155.9 -131.6 153.9 -132.9 152.0 -134.2 150.0 -135.3 148.1 -136.3 146.1 -137.3 144.1 -138.2 142.2 -139.1 140.2 -140.0 138.2 -140.8 136.3 -141.5 134.3 -142.2 132.3 -142.9 130.3 -143.6 128.3 -144.3 126.4 -144.9 124.4 -145.5 122.4 -146.1 120.4 -146.7 118.4 -147.3 116.4 -147.8 114.5 -148.3 112.5 -148.9 110.5 -149.4 108.5 -149.9 106.5 -150.3 104.5 -150.8 102.5 -151.3 100.5 -151.7 98.5 -152.2 96.5 -152.6 94.5 -153.0 92.5 -153.4 90.5 -153.9 88.6 -148.6 87.5 -148.2 89.5 -147.7 91.4 -147.3 93.4 -146.9 95.4 -146.4 97.3 -145.9 99.3 -145.4 101.3 -144.9 103.2 -144.4 105.2 -143.9 107.2 -143.3 109.1 -142.7 111.1 -142.1 113.1 -141.5 115.0 -140.8 117.0 -140.1 118.9 -139.4 120.9 -138.7 122.9 -137.9 124.8 -137.1 126.8 -136.3 128.7 -135.4 130.7 -134.4 132.6 -133.4 134.6 -132.4 136.5 -131.3 138.5 -130.1 140.4 -128.8 142.3 -127.4 144.3 -126.0 146.2 -124.3 148.1 -122.6 150.0 -120.6 151.8 -118.5 153.7 -116.1 155.5 -113.3 157.3 -110.2 159.1 -106.6 160.8 -102.3 162.4 -97.3 164.0 -91.4 165.4 -84.4 166.7 -76.2 167.8 -66.9 168.6 -56.9 169.1 -46.8 169.3 -36.7 169.1 -26.7 168.6 -17.4 167.8 -9.2 166.7 -2.2 165.4 3.7 164.0 8.7 162.4 13.0 160.8 16.6 159.1 19.7 157.3 22.5 155.5 24.9 153.7 27.0 151.8 29.0 150.0 30.7 148.1 32.4 146.2 33.8 144.3 35.2 142.3 36.5 140.4 37.7 138.5 38.8 136.5 39.8 134.6 40.8 132.6 41.8 130.7 42.7 128.7 43.5 126.8 44.3 124.8 45.1 122.9 45.8 120.9 46.5 118.9 47.2 117.0 47.9 115.0 48.5 113.1 49.1 111.1 49.7 109.1 50.3 107.2 50.8 105.2 51.3 103.2 51.8 101.3 52.3 99.3 52.8 97.3 53.3 95.4 53.7 93.4 54.1 91.4 54.6 89.5Z"/><path d="M419.8 90.5 419.4 92.5 419.0 94.5 418.6 96.5 418.1 98.5 417.7 100.5 417.2 102.5 416.7 104.5 416.3 106.5 415.8 108.5 415.3 110.5 414.7 112.5 414.2 114.5 413.7 116.4 413.1 118.4 412.5 120.4 411.9 122.4 411.3 124.4 410.7 126.4 410.0 128.3 409.3 130.3 408.6 132.3 407.9 134.3 407.2 136.3 406.4 138.2 405.5 140.2 404.6 142.2 403.7 144.1 402.7 146.1 401.7 148.1 400.6 150.0 399.3 152.0 398.0 153.9 396.5 155.9 394.8 157.8 393.0 159.7 390.8 161.6 388.2 163.5 385.1 165.4 381.2 167.2 376.1 169.0 369.5 170.7 360.4 172.2 348.1 173.5 332.1 174.4 313.2 174.7 294.3 174.4 278.3 173.5 266.0 172.2 256.9 170.7 250.3 169.0 245.2 167.2 241.3 165.4 238.2 163.5 235.6 161.6 233.4 159.7 231.6 157.8 229.9 155.9 228.4 153.9 227.1 152.0 225.8 150.0 224.7 148.1 223.7 146.1 222.7 144.1 221.8 142.2 220.9 140.2 220.0 138.2 219.2 136.3 218.5 134.3 217.8 132.3 217.1 130.3 216.4 128.3 215.7 126.4 215.1 124.4 214.5 122.4 213.9 120.4 213.3 118.4 212.7 116.4 212.2 114.5 211.7 112.5 211.1 110.5 210.6 108.5 210.1 106.5 209.7 104.5 209.2 102.5 208.7 100.5 208.3 98.5 207.8 96.5 207.4 94.5 207.0 92.5 206.6 90.5 206.1 88.6 211.4 87.5 211.8 89.5 212.3 91.4 212.7 93.4 213.1 95.4 213.6 97.3 214.1 99.3 214.6 101.3 215.1 103.2 215.6 105.2 216.1 107.2 216.7 109.1 217.3 111.1 217.9 113.1 218.5 115.0 219.2 117.0 219.9 118.9 220.6 120.9 221.3 122.9 222.1 124.8 222.9 126.8 223.7 128.7 224.6 130.7 225.6 132.6 226.6 134.6 227.6 136.5 228.7 138.5 229.9 140.4 231.2 142.3 232.6 144.3 234.0 146.2 235.7 148.1 237.4 150.0 239.4 151.8 241.5 153.7 243.9 155.5 246.7 157.3 249.8 159.1 253.4 160.8 257.7 162.4 262.7 164.0 268.6 165.4 275.6 166.7 283.8 167.8 293.1 168.6 303.1 169.1 313.2 169.3 323.3 169.1 333.3 168.6 342.6 167.8 350.8 166.7 357.8 165.4 363.7 164.0 368.7 162.4 373.0 160.8 376.6 159.1 379.7 157.3 382.5 155.5 384.9 153.7 387.0 151.8 389.0 150.0 390.7 148.1 392.4 146.2 393.8 144.3 395.2 142.3 396.5 140.4 397.7 138.5 398.8 136.5 399.8 134.6 400.8 132.6 401.8 130.7 402.7 128.7 403.5 126.8 404.3 124.8 405.1 122.9 405.8 120.9 406.5 118.9 407.2 117.0 407.9 115.0 408.5 113.1 409.1 111.1 409.7 109.1 410.3 107.2 410.8 105.2 411.3 103.2 411.8 101.3 412.3 99.3 412.8 97.3 413.3 95.4 413.7 93.4 414.1 91.4 414.6 89.5Z"/><path d="M206.6 90.5 206.1 88.6 205.7 86.6 205.3 84.6 204.9 82.6 204.6 80.6 204.2 78.6 203.8 76.6 203.4 74.6 203.0 72.6 202.6 70.6 202.2 68.7 201.8 66.7 201.4 64.7 201.0 62.7 200.6 60.7 200.2 58.8 199.7 56.8 199.3 54.8 198.8 52.9 198.3 50.9 197.8 48.9 197.2 47.0 196.6 45.0 195.9 43.1 195.2 41.2 194.5 39.2 193.6 37.3 192.7 35.4 191.7 33.5 190.6 31.6 189.3 29.7 187.8 27.9 186.2 26.0 184.2 24.2 182.0 22.5 179.4 20.7 176.3 19.0 172.5 17.4 168.1 15.9 162.7 14.5 156.2 13.2 148.5 12.2 139.9 11.4 130.6 10.9 121.2 10.7 111.8 10.9 102.5 11.4 93.9 12.2 86.2 13.2 79.7 14.5 74.3 15.9 69.9 17.4 66.1 19.0 63.0 20.7 60.4 22.5 58.2 24.2 56.2 26.0 54.6 27.9 53.1 29.7 51.8 31.6 50.7 33.5 49.7 35.4 48.8 37.3 47.9 39.2 47.2 41.2 46.5 43.1 45.8 45.0 45.2 47.0 44.6 48.9 44.1 50.9 43.6 52.9 43.1 54.8 42.7 56.8 42.2 58.8 41.8 60.7 41.4 62.7 41.0 64.7 40.6 66.7 40.2 68.7 39.8 70.6 39.4 72.6 39.0 74.6 38.6 76.6 38.2 78.6 37.8 80.6 37.5 82.6 37.1 84.6 36.7 86.6 36.3 88.6 35.8 90.5 35.4 92.5 30.1 91.4 30.6 89.5 31.0 87.5 31.3 85.5 31.7 83.5 32.1 81.6 32.5 79.6 32.8 77.6 33.1 75.7 33.5 73.7 33.8 71.7 34.1 69.8 34.4 67.8 34.7 65.8 35.0 63.8 35.4 61.9 35.7 59.9 36.0 57.9 36.3 55.9 36.6 54.0 36.9 52.0 37.2 50.0 37.5 48.1 37.9 46.1 38.2 44.1 38.6 42.1 39.0 40.2 39.5 38.2 39.9 36.2 40.4 34.2 41.0 32.3 41.7 30.3 42.4 28.3 43.2 26.4 44.2 24.4 45.3 22.4 46.7 20.5 48.3 18.6 50.3 16.7 52.9 14.8 56.2 12.9 60.7 11.1 66.8 9.4 75.3 7.8 87.1 6.5 102.7 5.6 121.2 5.3 139.7 5.6 155.3 6.5 167.1 7.8 175.6 9.4 181.7 11.1 186.2 12.9 189.5 14.8 192.1 16.7 194.1 18.6 195.7 20.5 197.1 22.4 198.2 24.4 199.2 26.4 200.0 28.3 200.7 30.3 201.4 32.3 202.0 34.2 202.5 36.2 202.9 38.2 203.4 40.2 203.8 42.1 204.2 44.1 204.5 46.1 204.9 48.1 205.2 50.0 205.5 52.0 205.8 54.0 206.1 55.9 206.4 57.9 206.7 59.9 207.0 61.9 207.4 63.8 207.7 65.8 208.0 67.8 208.3 69.8 208.6 71.7 208.9 73.7 209.3 75.7 209.6 77.6 209.9 79.6 210.3 81.6 210.7 83.5 211.1 85.5 211.4 87.5 211.8 89.5Z"/><path d="M35.8 90.5 35.4 92.5 35.0 94.5 34.6 96.5 34.1 98.5 33.7 100.5 33.2 102.5 32.7 104.5 32.3 106.5 31.8 108.5 31.3 110.5 30.7 112.5 30.2 114.5 29.7 116.4 29.1 118.4 28.5 120.4 27.9 122.4 27.3 124.4 26.7 126.4 26.0 128.3 25.3 130.3 24.6 132.3 23.9 134.3 23.2 136.3 22.4 138.2 21.5 140.2 20.6 142.2 19.7 144.1 18.7 146.1 17.7 148.1 16.6 150.0 15.3 152.0 14.0 153.9 12.5 155.9 10.8 157.8 9.0 159.7 6.8 161.6 4.2 163.5 1.1 165.4 -2.8 167.2 -7.9 169.0 -14.5 170.7 -23.6 172.2 -35.9 173.5 -51.9 174.4 -70.8 174.7 -89.7 174.4 -105.7 173.5 -118.0 172.2 -127.1 170.7 -133.7 169.0 -138.8 167.2 -142.7 165.4 -145.8 163.5 -148.4 161.6 -150.6 159.7 -152.4 157.8 -154.1 155.9 -155.6 153.9 -156.9 152.0 -158.2 150.0 -159.3 148.1 -160.3 146.1 -161.3 144.1 -162.2 142.2 -163.1 140.2 -164.0 138.2 -164.8 136.3 -165.5 134.3 -166.2 132.3 -166.9 130.3 -167.6 128.3 -168.3 126.4 -168.9 124.4 -169.5 122.4 -170.1 120.4 -170.7 118.4 -171.3 116.4 -171.8 114.5 -172.3 112.5 -172.9 110.5 -173.4 108.5 -173.9 106.5 -174.3 104.5 -174.8 102.5 -175.3 100.5 -175.7 98.5 -176.2 96.5 -176.6 94.5 -177.0 92.5 -177.4 90.6 -172.2 89.4 -171.7 91.4 -171.3 93.4 -170.9 95.4 -170.4 97.3 -169.9 99.3 -169.4 101.3 -168.9 103.2 -168.4 105.2 -167.9 107.2 -167.3 109.1 -166.7 111.1 -166.1 113.1 -165.5 115.0 -164.8 117.0 -164.1 118.9 -163.4 120.9 -162.7 122.9 -161.9 124.8 -161.1 126.8 -160.3 128.7 -159.4 130.7 -158.4 132.6 -157.4 134.6 -156.4 136.5 -155.3 138.5 -154.1 140.4 -152.8 142.3 -151.4 144.3 -150.0 146.2 -148.3 148.1 -146.6 150.0 -144.6 151.8 -142.5 153.7 -140.1 155.5 -137.3 157.3 -134.2 159.1 -130.6 160.8 -126.3 162.4 -121.3 164.0 -115.4 165.4 -108.4 166.7 -100.2 167.8 -90.9 168.6 -80.9 169.1 -70.8 169.3 -60.7 169.1 -50.7 168.6 -41.4 167.8 -33.2 166.7 -26.2 165.4 -20.3 164.0 -15.3 162.4 -11.0 160.8 -7.4 159.1 -4.3 157.3 -1.5 155.5 0.9 153.7 3.0 151.8 5.0 150.0 6.7 148.1 8.4 146.2 9.8 144.3 11.2 142.3 12.5 140.4 13.7 138.5 14.8 136.5 15.8 134.6 16.8 132.6 17.8 130.7 18.7 128.7 19.5 126.8 20.3 124.8 21.1 122.9 21.8 120.9 22.5 118.9 23.2 117.0 23.9 115.0 24.5 113.1 25.1 111.1 25.7 109.1 26.3 107.2 26.8 105.2 27.3 103.2 27.8 101.3 28.3 99.3 28.8 97.3 29.3 95.4 29.7 93.4 30.1 91.4 30.6 89.5Z"/><path d="M395.8 90.5 395.4 92.5 395.0 94.5 394.6 96.5 394.1 98.5 393.7 100.5 393.2 102.5 392.7 104.5 392.3 106.5 391.8 108.5 391.3 110.5 390.7 112.5 390.2 114.5 389.7 116.4 389.1 118.4 388.5 120.4 387.9 122.4 387.3 124.4 386.7 126.4 386.0 128.3 385.3 130.3 384.6 132.3 383.9 134.3 383.2 136.3 382.4 138.2 381.5 140.2 380.6 142.2 379.7 144.1 378.7 146.1 377.7 148.1 376.6 150.0 375.3 152.0 374.0 153.9 372.5 155.9 370.8 157.8 369.0 159.7 366.8 161.6 364.2 163.5 361.1 165.4 357.2 167.2 352.1 169.0 345.5 170.7 336.4 172.2 324.1 173.5 308.1 174.4 289.2 174.7 270.3 174.4 254.3 173.5 242.0 172.2 232.9 170.7 226.3 169.0 221.2 167.2 217.3 165.4 214.2 163.5 211.6 161.6 209.4 159.7 207.6 157.8 205.9 155.9 204.4 153.9 203.1 152.0 201.8 150.0 200.7 148.1 199.7 146.1 198.7 144.1 197.8 142.2 196.9 140.2 196.0 138.2 195.2 136.3 194.5 134.3 193.8 132.3 193.1 130.3 192.4 128.3 191.7 126.4 191.1 124.4 190.5 122.4 189.9 120.4 189.3 118.4 188.7 116.4 188.2 114.5 187.7 112.5 187.1 110.5 186.6 108.5 186.1 106.5 185.7 104.5 185.2 102.5 184.7 100.5 184.3 98.5 183.8 96.5 183.4 94.5 183.0 92.5 182.6 90.6 187.8 89.4 188.3 91.4 188.7 93.4 189.1 95.4 189.6 97.3 190.1 99.3 190.6 101.3 191.1 103.2 191.6 105.2 192.1 107.2 192.7 109.1 193.3 111.1 193.9 113.1 194.5 115.0 195.2 117.0 195.9 118.9 196.6 120.9 197.3 122.9 198.1 124.8 198.9 126.8 199.7 128.7 200.6 130.7 201.6 132.6 202.6 134.6 203.6 136.5 204.7 138.5 205.9 140.4 207.2 142.3 208.6 144.3 210.0 146.2 211.7 148.1 213.4 150.0 215.4 151.8 217.5 153.7 219.9 155.5 222.7 157.3 225.8 159.1 229.4 160.8 233.7 162.4 238.7 164.0 244.6 165.4 251.6 166.7 259.8 167.8 269.1 168.6 279.1 169.1 289.2 169.3 299.3 169.1 309.3 168.6 318.6 167.8 326.8 166.7 333.8 165.4 339.7 164.0 344.7 162.4 349.0 160.8 352.6 159.1 355.7 157.3 358.5 155.5 360.9 153.7 363.0 151.8 365.0 150.0 366.7 148.1 368.4 146.2 369.8 144.3 371.2 142.3 372.5 140.4 373.7 138.5 374.8 136.5 375.8 134.6 376.8 132.6 377.8 130.7 378.7 128.7 379.5 126.8 380.3 124.8 381.1 122.9 381.8 120.9 382.5 118.9 383.2 117.0 383.9 115.0 384.5 113.1 385.1 111.1 385.7 109.1 386.3 107.2 386.8 105.2 387.3 103.2 387.8 101.3 388.3 99.3 388.8 97.3 389.3 95.4 389.7 93.4 390.1 91.4 390.6 89.5Z"/></g><clipPath id="cla"><rect x="26.00" y="17.60" width="218.00" height="111.10"/></clipPath><clipPath id="clb"><rect x="269.20" y="17.60" width="218.30" height="111.10"/></clipPath><clipPath id="clc"><rect x="26.00" y="146.30" width="218.00" height="111.10"/></clipPath><clipPath id="cld"><rect x="269.20" y="146.30" width="218.30" height="111.10"/></clipPath><mask id="mc" maskUnits="userSpaceOnUse" x="0" y="0" width="500" height="317"><g transform="translate(26.00 146.30) scale(0.60556 0.61722)"><use href="#trk"/><rect x="-5" y="-5" width="370" height="11.3" fill="#000"/><rect x="-5" y="172" width="370" height="15" fill="#000"/></g></mask><mask id="md" maskUnits="userSpaceOnUse" x="0" y="0" width="500" height="317"><g transform="translate(269.20 146.30) scale(0.60639 0.61722)"><use href="#trk"/><rect x="-5" y="-5" width="370" height="11.3" fill="#000"/><rect x="-5" y="172" width="370" height="15" fill="#000"/></g></mask><linearGradient id="cbp"><stop offset="0.000" stop-color="#0d0887"/><stop offset="0.050" stop-color="#2a0593"/><stop offset="0.100" stop-color="#41049d"/><stop offset="0.150" stop-color="#5601a4"/><stop offset="0.200" stop-color="#6a00a8"/><stop offset="0.250" stop-color="#7e03a8"/><stop offset="0.300" stop-color="#8f0da4"/><stop offset="0.350" stop-color="#a11b9b"/><stop offset="0.400" stop-color="#b12a90"/><stop offset="0.450" stop-color="#bf3984"/><stop offset="0.500" stop-color="#cc4778"/><stop offset="0.550" stop-color="#d6556d"/><stop offset="0.600" stop-color="#e16462"/><stop offset="0.650" stop-color="#ea7457"/><stop offset="0.700" stop-color="#f2844b"/><stop offset="0.750" stop-color="#f89540"/><stop offset="0.800" stop-color="#fca636"/><stop offset="0.850" stop-color="#feba2c"/><stop offset="0.900" stop-color="#fcce25"/><stop offset="0.950" stop-color="#f7e425"/><stop offset="1.000" stop-color="#f0f921"/></linearGradient><linearGradient id="cbv"><stop offset="0.000" stop-color="#011261"/><stop offset="0.050" stop-color="#02236c"/><stop offset="0.100" stop-color="#033378"/><stop offset="0.150" stop-color="#094685"/><stop offset="0.200" stop-color="#105891"/><stop offset="0.250" stop-color="#176b9e"/><stop offset="0.300" stop-color="#3f86b0"/><stop offset="0.350" stop-color="#67a2c2"/><stop offset="0.400" stop-color="#8fbdd4"/><stop offset="0.450" stop-color="#bed2dd"/><stop offset="0.500" stop-color="#ede8e6"/><stop offset="0.550" stop-color="#e6d0bf"/><stop offset="0.600" stop-color="#deb899"/><stop offset="0.650" stop-color="#d7a27d"/><stop offset="0.700" stop-color="#d08d61"/><stop offset="0.750" stop-color="#c97845"/><stop offset="0.800" stop-color="#b95c2d"/><stop offset="0.850" stop-color="#a84116"/><stop offset="0.900" stop-color="#932808"/><stop offset="0.950" stop-color="#761408"/><stop offset="1.000" stop-color="#590008"/></linearGradient><filter id="nzb" filterUnits="userSpaceOnUse" primitiveUnits="userSpaceOnUse" x="189.2" y="-112.4" width="378.3" height="371.1" color-interpolation-filters="sRGB"><feTurbulence type="fractalNoise" baseFrequency="0.18 0.42" numOctaves="2" seed="3"/><feColorMatrix type="matrix" values="1 0 0 0 0 1 0 0 0 0 1 0 0 0 0 0 0 0 0 1"/><feComponentTransfer><feFuncR type="table" tableValues="0.121 0.247 0.372 0.529 0.708 0.856 0.927 0.909 0.882 0.854 0.833 0.811 0.790"/><feFuncG type="table" tableValues="0.441 0.527 0.612 0.719 0.808 0.876 0.900 0.843 0.758 0.670 0.603 0.537 0.470"/><feFuncB type="table" tableValues="0.634 0.690 0.746 0.816 0.858 0.886 0.885 0.795 0.660 0.534 0.446 0.358 0.270"/></feComponentTransfer></filter><filter id="tint" filterUnits="userSpaceOnUse" primitiveUnits="userSpaceOnUse" x="0" y="0" width="500" height="317" color-interpolation-filters="sRGB"><feTurbulence type="fractalNoise" baseFrequency="0.025 0.05" numOctaves="2" seed="11"/><feColorMatrix type="matrix" values="1 0 0 0 0 1 0 0 0 0 1 0 0 0 0 0 0 0 0 1"/><feComponentTransfer><feFuncR type="table" tableValues="0.682 0.741 0.801 0.861 0.940 1.000 1.000 0.997 0.981 0.965 0.952 0.942 0.935"/><feFuncG type="table" tableValues="0.832 0.860 0.887 0.915 0.951 0.978 0.978 0.968 0.917 0.866 0.825 0.795 0.774"/><feFuncB type="table" tableValues="0.908 0.919 0.930 0.941 0.956 0.968 0.968 0.952 0.871 0.790 0.726 0.677 0.645"/></feComponentTransfer></filter><filter id="nzd" filterUnits="userSpaceOnUse" primitiveUnits="userSpaceOnUse" x="189.2" y="16.3" width="378.3" height="371.1" color-interpolation-filters="sRGB"><feTurbulence type="fractalNoise" baseFrequency="0.18 0.42" numOctaves="2" seed="7"/><feColorMatrix type="matrix" values="1 0 0 0 0 1 0 0 0 0 1 0 0 0 0 0 0 0 0 1"/><feComponentTransfer><feFuncR type="table" tableValues="0.121 0.247 0.372 0.529 0.708 0.856 0.927 0.909 0.882 0.854 0.833 0.811 0.790"/><feFuncG type="table" tableValues="0.441 0.527 0.612 0.719 0.808 0.876 0.900 0.843 0.758 0.670 0.603 0.537 0.470"/><feFuncB type="table" tableValues="0.634 0.690 0.746 0.816 0.858 0.886 0.885 0.795 0.660 0.534 0.446 0.358 0.270"/></feComponentTransfer></filter><linearGradient id="fadeb" x1="0" y1="0" x2="0" y2="1"><stop offset="0" stop-color="#fff" stop-opacity="0.45"/><stop offset="0.1" stop-color="#fff" stop-opacity="0.3"/><stop offset="0.2" stop-color="#fff" stop-opacity="0.15"/><stop offset="0.3" stop-color="#fff" stop-opacity="0.05"/><stop offset="0.6" stop-color="#fff" stop-opacity="0.05"/><stop offset="0.72" stop-color="#fff" stop-opacity="0.2"/><stop offset="0.85" stop-color="#fff" stop-opacity="0.5"/><stop offset="1" stop-color="#fff" stop-opacity="0.6"/></linearGradient><linearGradient id="darkc" x1="0" y1="0" x2="0" y2="1"><stop offset="0" stop-color="#0d0887" stop-opacity="0.55"/><stop offset="0.45" stop-color="#0d0887" stop-opacity="0.45"/><stop offset="1" stop-color="#0d0887" stop-opacity="0"/></linearGradient></defs><g clip-path="url(#cla)"><use href="#tf" transform="translate(26.00 17.60) scale(0.60556 0.61722)"/><path d="M62.50 17.60V128.70M98.50 17.60V128.70M135.50 17.60V128.70M171.50 17.60V128.70M207.50 17.60V128.70M26.00 110.50H244.00M26.00 91.50H244.00M26.00 73.50H244.00M26.00 54.50H244.00M26.00 36.50H244.00" stroke="#c0c0c0" stroke-width="0.8" fill="none" opacity="0.65"/><use href="#coast" transform="translate(26.00 17.60) scale(0.60556 0.61722)"/></g><g clip-path="url(#clb)"><g transform="rotate(-12 378.4 73.1)"><rect x="209.20" y="-92.40" width="338.30" height="331.10" fill="#e8dfda" filter="url(#nzb)"/></g><rect x="269.20" y="17.60" width="218.30" height="111.10" fill="#fff" filter="url(#tint)" style="mix-blend-mode:multiply"/><rect x="269.20" y="17.60" width="218.30" height="111.10" fill="url(#fadeb)"/><path d="M305.50 17.60V128.70M341.50 17.60V128.70M378.50 17.60V128.70M414.50 17.60V128.70M451.50 17.60V128.70M269.20 110.50H487.50M269.20 91.50H487.50M269.20 73.50H487.50M269.20 54.50H487.50M269.20 36.50H487.50" stroke="#c0c0c0" stroke-width="0.8" fill="none" opacity="0.65"/><use href="#coast" transform="translate(269.20 17.60) scale(0.60639 0.61722)"/></g><g clip-path="url(#clc)"><g mask="url(#mc)"><use href="#tf" transform="translate(26.00 146.30) scale(0.60556 0.61722)"/><rect x="26.00" y="146.30" width="218.00" height="22.22" fill="url(#darkc)"/></g><path d="M62.50 146.30V257.40M98.50 146.30V257.40M135.50 146.30V257.40M171.50 146.30V257.40M207.50 146.30V257.40M26.00 238.50H244.00M26.00 220.50H244.00M26.00 201.50H244.00M26.00 183.50H244.00M26.00 164.50H244.00" stroke="#c0c0c0" stroke-width="0.8" fill="none" opacity="0.65"/><use href="#coast" transform="translate(26.00 146.30) scale(0.60556 0.61722)"/></g><g clip-path="url(#cld)"><g mask="url(#md)"><g transform="rotate(-12 378.4 201.8)"><rect x="209.20" y="36.30" width="338.30" height="331.10" fill="#e4e0de" filter="url(#nzd)"/></g></g><path d="M305.50 146.30V257.40M341.50 146.30V257.40M378.50 146.30V257.40M414.50 146.30V257.40M451.50 146.30V257.40M269.20 238.50H487.50M269.20 220.50H487.50M269.20 201.50H487.50M269.20 183.50H487.50M269.20 164.50H487.50" stroke="#c0c0c0" stroke-width="0.8" fill="none" opacity="0.65"/><use href="#coast" transform="translate(269.20 146.30) scale(0.60639 0.61722)"/></g><rect x="26.00" y="17.60" width="218.00" height="111.10" fill="none" stroke="#000" stroke-width="0.65"/><rect x="269.20" y="17.60" width="218.30" height="111.10" fill="none" stroke="#000" stroke-width="0.65"/><rect x="26.00" y="146.30" width="218.00" height="111.10" fill="none" stroke="#000" stroke-width="0.65"/><rect x="269.20" y="146.30" width="218.30" height="111.10" fill="none" stroke="#000" stroke-width="0.65"/><text x="15.3" y="13.9" font-size="10.8">a)</text><text x="258.5" y="13.9" font-size="10.8">b)</text><text x="15.2" y="142.1" font-size="10.8">c)</text><text x="258.5" y="142.1" font-size="10.8">d)</text><text x="22.3" y="38.97" font-size="7.8" text-anchor="end">60°N</text><text x="22.3" y="57.48" font-size="7.8" text-anchor="end">30°N</text><text x="22.3" y="76.00" font-size="7.8" text-anchor="end">0°</text><text x="22.3" y="94.52" font-size="7.8" text-anchor="end">30°S</text><text x="22.3" y="113.03" font-size="7.8" text-anchor="end">60°S</text><text x="22.3" y="167.67" font-size="7.8" text-anchor="end">60°N</text><text x="22.3" y="186.18" font-size="7.8" text-anchor="end">30°N</text><text x="22.3" y="204.70" font-size="7.8" text-anchor="end">0°</text><text x="22.3" y="223.22" font-size="7.8" text-anchor="end">30°S</text><text x="22.3" y="241.73" font-size="7.8" text-anchor="end">60°S</text><text x="26.0" y="267.0" font-size="7.8" text-anchor="middle">180°</text><text x="62.3" y="267.0" font-size="7.8" text-anchor="middle">120°W</text><text x="98.7" y="267.0" font-size="7.8" text-anchor="middle">60°W</text><text x="135.0" y="267.0" font-size="7.8" text-anchor="middle">0°</text><text x="171.3" y="267.0" font-size="7.8" text-anchor="middle">60°E</text><text x="207.7" y="267.0" font-size="7.8" text-anchor="middle">120°E</text><text x="244.0" y="267.0" font-size="7.8" text-anchor="middle">180°</text><text x="269.2" y="267.0" font-size="7.8" text-anchor="middle">180°</text><text x="305.6" y="267.0" font-size="7.8" text-anchor="middle">120°W</text><text x="342.0" y="267.0" font-size="7.8" text-anchor="middle">60°W</text><text x="378.4" y="267.0" font-size="7.8" text-anchor="middle">0°</text><text x="414.7" y="267.0" font-size="7.8" text-anchor="middle">60°E</text><text x="451.1" y="267.0" font-size="7.8" text-anchor="middle">120°E</text><text x="487.5" y="267.0" font-size="7.8" text-anchor="middle">180°</text><rect x="47.5" y="280.2" width="174.5" height="9.2" fill="url(#cbp)" stroke="#000" stroke-width="0.8"/><path d="M47.50 289.4v2.5" stroke="#000" stroke-width="0.8"/><text x="47.50" y="299.8" font-size="7.8" text-anchor="middle">200</text><path d="M76.58 289.4v2.5" stroke="#000" stroke-width="0.8"/><text x="76.58" y="299.8" font-size="7.8" text-anchor="middle">210</text><path d="M105.67 289.4v2.5" stroke="#000" stroke-width="0.8"/><text x="105.67" y="299.8" font-size="7.8" text-anchor="middle">220</text><path d="M134.75 289.4v2.5" stroke="#000" stroke-width="0.8"/><text x="134.75" y="299.8" font-size="7.8" text-anchor="middle">230</text><path d="M163.83 289.4v2.5" stroke="#000" stroke-width="0.8"/><text x="163.83" y="299.8" font-size="7.8" text-anchor="middle">240</text><path d="M192.92 289.4v2.5" stroke="#000" stroke-width="0.8"/><text x="192.92" y="299.8" font-size="7.8" text-anchor="middle">250</text><path d="M222.00 289.4v2.5" stroke="#000" stroke-width="0.8"/><text x="222.00" y="299.8" font-size="7.8" text-anchor="middle">260</text><text x="134.75" y="310.8" font-size="7.8" text-anchor="middle">Large-scale temperature [K]</text><rect x="290.7" y="280.2" width="175.0" height="9.2" fill="url(#cbv)" stroke="#000" stroke-width="0.8"/><path d="M290.70 289.4v2.5" stroke="#000" stroke-width="0.8"/><text x="290.70" y="299.8" font-size="7.8" text-anchor="middle">−10.0</text><path d="M312.57 289.4v2.5" stroke="#000" stroke-width="0.8"/><text x="312.57" y="299.8" font-size="7.8" text-anchor="middle">−7.5</text><path d="M334.45 289.4v2.5" stroke="#000" stroke-width="0.8"/><text x="334.45" y="299.8" font-size="7.8" text-anchor="middle">−5.0</text><path d="M356.32 289.4v2.5" stroke="#000" stroke-width="0.8"/><text x="356.32" y="299.8" font-size="7.8" text-anchor="middle">−2.5</text><path d="M378.20 289.4v2.5" stroke="#000" stroke-width="0.8"/><text x="378.20" y="299.8" font-size="7.8" text-anchor="middle">0.0</text><path d="M400.07 289.4v2.5" stroke="#000" stroke-width="0.8"/><text x="400.07" y="299.8" font-size="7.8" text-anchor="middle">2.5</text><path d="M421.95 289.4v2.5" stroke="#000" stroke-width="0.8"/><text x="421.95" y="299.8" font-size="7.8" text-anchor="middle">5.0</text><path d="M443.82 289.4v2.5" stroke="#000" stroke-width="0.8"/><text x="443.82" y="299.8" font-size="7.8" text-anchor="middle">7.5</text><path d="M465.70 289.4v2.5" stroke="#000" stroke-width="0.8"/><text x="465.70" y="299.8" font-size="7.8" text-anchor="middle">10.0</text><text x="378.20" y="310.8" font-size="7.8" text-anchor="middle">GW residual temperature [K]</text></svg></body></html>
